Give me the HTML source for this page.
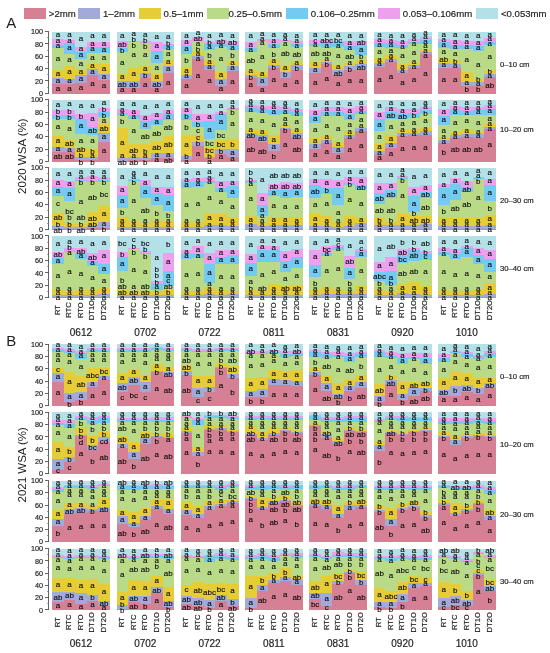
<!DOCTYPE html>
<html><head><meta charset="utf-8"><style>
html,body{margin:0;padding:0;background:#fff;}
svg{display:block;will-change:transform;}
text{font-family:"Liberation Sans",sans-serif;fill:#1e1e1e;stroke:#1e1e1e;stroke-width:0.18px;}
text.ns{stroke:none;}
.lb text{fill:#0a0a0a;stroke:#0a0a0a;stroke-width:0.12px;}
</style></head><body>
<svg width="550" height="653" viewBox="0 0 550 653" shape-rendering="crispEdges">
<rect x="24" y="8" width="22" height="11" fill="#D58094"/>
<text x="48.8" y="17.1" font-size="9.6">&gt;2mm</text>
<rect x="78.2" y="8" width="22" height="11" fill="#A2AADA"/>
<text x="103" y="17.1" font-size="9.6">1–2mm</text>
<rect x="138.6" y="8" width="22" height="11" fill="#E6CD37"/>
<text x="163.4" y="17.1" font-size="9.6">0.5–1mm</text>
<rect x="206.6" y="8" width="22" height="11" fill="#B9DA87"/>
<text x="228.6" y="17.1" font-size="9.6">0.25–0.5mm</text>
<rect x="286" y="8" width="22" height="11" fill="#74CAF0"/>
<text x="310.8" y="17.1" font-size="9.6">0.106–0.25mm</text>
<rect x="378" y="8" width="22" height="11" fill="#EEA0EF"/>
<text x="402.8" y="17.1" font-size="9.6">0.053–0.106mm</text>
<rect x="476.2" y="8" width="22" height="11" fill="#B4E1E8"/>
<text x="501" y="17.1" font-size="9.6">&lt;0.053mm</text>
<text class="ns" x="6.3" y="28" font-size="15">A</text>
<text class="ns" x="6.3" y="346.4" font-size="15">B</text>
<text class="ns" transform="translate(25.5,156.2) rotate(-90)" text-anchor="middle" font-size="11.5">2020 WSA (%)</text>
<text class="ns" transform="translate(25.5,464.8) rotate(-90)" text-anchor="middle" font-size="11.5">2021 WSA (%)</text>
<line x1="48.5" y1="31.6" x2="48.5" y2="93.3" stroke="#4a4a4a" stroke-width="0.85"/>
<line x1="45" y1="93.3" x2="48.5" y2="93.3" stroke="#4a4a4a" stroke-width="0.85"/>
<text x="43" y="95.9" font-size="7.2" text-anchor="end">0</text>
<line x1="45" y1="80.96" x2="48.5" y2="80.96" stroke="#4a4a4a" stroke-width="0.85"/>
<text x="43" y="83.56" font-size="7.2" text-anchor="end">20</text>
<line x1="45" y1="68.62" x2="48.5" y2="68.62" stroke="#4a4a4a" stroke-width="0.85"/>
<text x="43" y="71.22" font-size="7.2" text-anchor="end">40</text>
<line x1="45" y1="56.28" x2="48.5" y2="56.28" stroke="#4a4a4a" stroke-width="0.85"/>
<text x="43" y="58.88" font-size="7.2" text-anchor="end">60</text>
<line x1="45" y1="43.94" x2="48.5" y2="43.94" stroke="#4a4a4a" stroke-width="0.85"/>
<text x="43" y="46.54" font-size="7.2" text-anchor="end">80</text>
<line x1="45" y1="31.6" x2="48.5" y2="31.6" stroke="#4a4a4a" stroke-width="0.85"/>
<text x="43" y="34.2" font-size="7.2" text-anchor="end">100</text>
<line x1="47" y1="87.13" x2="48.5" y2="87.13" stroke="#6a6a6a" stroke-width="0.6"/>
<line x1="47" y1="74.79" x2="48.5" y2="74.79" stroke="#6a6a6a" stroke-width="0.6"/>
<line x1="47" y1="62.45" x2="48.5" y2="62.45" stroke="#6a6a6a" stroke-width="0.6"/>
<line x1="47" y1="50.11" x2="48.5" y2="50.11" stroke="#6a6a6a" stroke-width="0.6"/>
<line x1="47" y1="37.77" x2="48.5" y2="37.77" stroke="#6a6a6a" stroke-width="0.6"/>
<text x="500" y="66.7" font-size="7.7">0–10 cm</text>
<rect x="52.2" y="84.05" width="11.8" height="9.55" fill="#D58094"/>
<rect x="52.2" y="77.88" width="11.8" height="6.47" fill="#A2AADA"/>
<rect x="52.2" y="70.1" width="11.8" height="8.07" fill="#E6CD37"/>
<rect x="52.2" y="47.64" width="11.8" height="22.76" fill="#B9DA87"/>
<rect x="52.2" y="44.25" width="11.8" height="3.69" fill="#74CAF0"/>
<rect x="52.2" y="38.7" width="11.8" height="5.85" fill="#EEA0EF"/>
<rect x="52.2" y="31.6" width="11.8" height="7.4" fill="#B4E1E8"/>
<rect x="63.7" y="84.05" width="11.8" height="9.55" fill="#D58094"/>
<rect x="63.7" y="78.49" width="11.8" height="5.85" fill="#A2AADA"/>
<rect x="63.7" y="66.15" width="11.8" height="12.64" fill="#E6CD37"/>
<rect x="63.7" y="53.2" width="11.8" height="13.26" fill="#B9DA87"/>
<rect x="63.7" y="42.4" width="11.8" height="11.1" fill="#74CAF0"/>
<rect x="63.7" y="39.25" width="11.8" height="3.45" fill="#EEA0EF"/>
<rect x="63.7" y="31.6" width="11.8" height="7.95" fill="#B4E1E8"/>
<rect x="75.2" y="82.44" width="11.8" height="11.16" fill="#D58094"/>
<rect x="75.2" y="75.1" width="11.8" height="7.64" fill="#A2AADA"/>
<rect x="75.2" y="69.55" width="11.8" height="5.85" fill="#E6CD37"/>
<rect x="75.2" y="58.75" width="11.8" height="11.1" fill="#B9DA87"/>
<rect x="75.2" y="51.59" width="11.8" height="7.46" fill="#74CAF0"/>
<rect x="75.2" y="46.41" width="11.8" height="5.48" fill="#EEA0EF"/>
<rect x="75.2" y="31.6" width="11.8" height="15.11" fill="#B4E1E8"/>
<rect x="86.7" y="75.1" width="11.8" height="18.5" fill="#D58094"/>
<rect x="86.7" y="68.93" width="11.8" height="6.47" fill="#A2AADA"/>
<rect x="86.7" y="63.93" width="11.8" height="5.3" fill="#E6CD37"/>
<rect x="86.7" y="52.58" width="11.8" height="11.65" fill="#B9DA87"/>
<rect x="86.7" y="46.41" width="11.8" height="6.47" fill="#74CAF0"/>
<rect x="86.7" y="41.47" width="11.8" height="5.24" fill="#EEA0EF"/>
<rect x="86.7" y="31.6" width="11.8" height="10.17" fill="#B4E1E8"/>
<rect x="98.2" y="79.73" width="11.8" height="13.87" fill="#D58094"/>
<rect x="98.2" y="73.56" width="11.8" height="6.47" fill="#A2AADA"/>
<rect x="98.2" y="63.93" width="11.8" height="9.93" fill="#E6CD37"/>
<rect x="98.2" y="52.58" width="11.8" height="11.65" fill="#B9DA87"/>
<rect x="98.2" y="47.03" width="11.8" height="5.85" fill="#74CAF0"/>
<rect x="98.2" y="41.47" width="11.8" height="5.85" fill="#EEA0EF"/>
<rect x="98.2" y="31.6" width="11.8" height="10.17" fill="#B4E1E8"/>
<rect x="116.5" y="87.44" width="11.8" height="6.16" fill="#D58094"/>
<rect x="116.5" y="80.34" width="11.8" height="7.4" fill="#A2AADA"/>
<rect x="116.5" y="74.17" width="11.8" height="6.47" fill="#E6CD37"/>
<rect x="116.5" y="51.96" width="11.8" height="22.51" fill="#B9DA87"/>
<rect x="116.5" y="47.64" width="11.8" height="4.62" fill="#74CAF0"/>
<rect x="116.5" y="40.86" width="11.8" height="7.09" fill="#EEA0EF"/>
<rect x="116.5" y="31.6" width="11.8" height="9.56" fill="#B4E1E8"/>
<rect x="128" y="87.44" width="11.8" height="6.16" fill="#D58094"/>
<rect x="128" y="80.34" width="11.8" height="7.4" fill="#A2AADA"/>
<rect x="128" y="67.39" width="11.8" height="13.26" fill="#E6CD37"/>
<rect x="128" y="42.09" width="11.8" height="25.6" fill="#B9DA87"/>
<rect x="128" y="41.23" width="11.8" height="1.16" fill="#74CAF0"/>
<rect x="128" y="40.24" width="11.8" height="1.29" fill="#EEA0EF"/>
<rect x="128" y="31.6" width="11.8" height="8.94" fill="#B4E1E8"/>
<rect x="139.5" y="77.26" width="11.8" height="16.34" fill="#D58094"/>
<rect x="139.5" y="72.32" width="11.8" height="5.24" fill="#A2AADA"/>
<rect x="139.5" y="66.15" width="11.8" height="6.47" fill="#E6CD37"/>
<rect x="139.5" y="43.94" width="11.8" height="22.51" fill="#B9DA87"/>
<rect x="139.5" y="43.32" width="11.8" height="0.92" fill="#74CAF0"/>
<rect x="139.5" y="40.24" width="11.8" height="3.39" fill="#EEA0EF"/>
<rect x="139.5" y="31.6" width="11.8" height="8.94" fill="#B4E1E8"/>
<rect x="151" y="87.44" width="11.8" height="6.16" fill="#D58094"/>
<rect x="151" y="80.34" width="11.8" height="7.4" fill="#A2AADA"/>
<rect x="151" y="74.17" width="11.8" height="6.47" fill="#E6CD37"/>
<rect x="151" y="62.76" width="11.8" height="11.71" fill="#B9DA87"/>
<rect x="151" y="50.42" width="11.8" height="12.64" fill="#74CAF0"/>
<rect x="151" y="42.09" width="11.8" height="8.63" fill="#EEA0EF"/>
<rect x="151" y="31.6" width="11.8" height="10.79" fill="#B4E1E8"/>
<rect x="162.5" y="72.94" width="11.8" height="20.66" fill="#D58094"/>
<rect x="162.5" y="65.54" width="11.8" height="7.7" fill="#A2AADA"/>
<rect x="162.5" y="59.37" width="11.8" height="6.47" fill="#E6CD37"/>
<rect x="162.5" y="48.88" width="11.8" height="10.79" fill="#B9DA87"/>
<rect x="162.5" y="44.87" width="11.8" height="4.31" fill="#74CAF0"/>
<rect x="162.5" y="43.32" width="11.8" height="1.84" fill="#EEA0EF"/>
<rect x="162.5" y="31.6" width="11.8" height="12.02" fill="#B4E1E8"/>
<rect x="180.8" y="78.49" width="11.8" height="15.11" fill="#D58094"/>
<rect x="180.8" y="74.54" width="11.8" height="4.25" fill="#A2AADA"/>
<rect x="180.8" y="66.77" width="11.8" height="8.07" fill="#E6CD37"/>
<rect x="180.8" y="53.2" width="11.8" height="13.87" fill="#B9DA87"/>
<rect x="180.8" y="44.87" width="11.8" height="8.63" fill="#74CAF0"/>
<rect x="180.8" y="39.81" width="11.8" height="5.36" fill="#EEA0EF"/>
<rect x="180.8" y="31.6" width="11.8" height="8.51" fill="#B4E1E8"/>
<rect x="192.3" y="58.87" width="11.8" height="34.73" fill="#D58094"/>
<rect x="192.3" y="56.03" width="11.8" height="3.14" fill="#A2AADA"/>
<rect x="192.3" y="52.15" width="11.8" height="4.19" fill="#E6CD37"/>
<rect x="192.3" y="40.86" width="11.8" height="11.59" fill="#B9DA87"/>
<rect x="192.3" y="40.24" width="11.8" height="0.92" fill="#74CAF0"/>
<rect x="192.3" y="36.54" width="11.8" height="4" fill="#EEA0EF"/>
<rect x="192.3" y="31.6" width="11.8" height="5.24" fill="#B4E1E8"/>
<rect x="203.8" y="69.55" width="11.8" height="24.05" fill="#D58094"/>
<rect x="203.8" y="65.04" width="11.8" height="4.8" fill="#A2AADA"/>
<rect x="203.8" y="59.98" width="11.8" height="5.36" fill="#E6CD37"/>
<rect x="203.8" y="49.86" width="11.8" height="10.42" fill="#B9DA87"/>
<rect x="203.8" y="43.69" width="11.8" height="6.47" fill="#74CAF0"/>
<rect x="203.8" y="41.47" width="11.8" height="2.52" fill="#EEA0EF"/>
<rect x="203.8" y="31.6" width="11.8" height="10.17" fill="#B4E1E8"/>
<rect x="215.3" y="85.28" width="11.8" height="8.32" fill="#D58094"/>
<rect x="215.3" y="78.49" width="11.8" height="7.09" fill="#A2AADA"/>
<rect x="215.3" y="71.71" width="11.8" height="7.09" fill="#E6CD37"/>
<rect x="215.3" y="46.41" width="11.8" height="25.6" fill="#B9DA87"/>
<rect x="215.3" y="43.69" width="11.8" height="3.01" fill="#74CAF0"/>
<rect x="215.3" y="39.81" width="11.8" height="4.19" fill="#EEA0EF"/>
<rect x="215.3" y="31.6" width="11.8" height="8.51" fill="#B4E1E8"/>
<rect x="226.8" y="70.66" width="11.8" height="22.94" fill="#D58094"/>
<rect x="226.8" y="65.54" width="11.8" height="5.42" fill="#A2AADA"/>
<rect x="226.8" y="60.6" width="11.8" height="5.24" fill="#E6CD37"/>
<rect x="226.8" y="49.49" width="11.8" height="11.41" fill="#B9DA87"/>
<rect x="226.8" y="44.87" width="11.8" height="4.93" fill="#74CAF0"/>
<rect x="226.8" y="40.24" width="11.8" height="4.93" fill="#EEA0EF"/>
<rect x="226.8" y="31.6" width="11.8" height="8.94" fill="#B4E1E8"/>
<rect x="245.1" y="77.26" width="11.8" height="16.34" fill="#D58094"/>
<rect x="245.1" y="75.1" width="11.8" height="2.46" fill="#A2AADA"/>
<rect x="245.1" y="69.55" width="11.8" height="5.85" fill="#E6CD37"/>
<rect x="245.1" y="51.59" width="11.8" height="18.25" fill="#B9DA87"/>
<rect x="245.1" y="47.64" width="11.8" height="4.25" fill="#74CAF0"/>
<rect x="245.1" y="41.47" width="11.8" height="6.47" fill="#EEA0EF"/>
<rect x="245.1" y="31.6" width="11.8" height="10.17" fill="#B4E1E8"/>
<rect x="256.6" y="85.9" width="11.8" height="7.7" fill="#D58094"/>
<rect x="256.6" y="76.83" width="11.8" height="9.37" fill="#A2AADA"/>
<rect x="256.6" y="71.71" width="11.8" height="5.42" fill="#E6CD37"/>
<rect x="256.6" y="41.47" width="11.8" height="30.53" fill="#B9DA87"/>
<rect x="256.6" y="41.23" width="11.8" height="0.55" fill="#74CAF0"/>
<rect x="256.6" y="38.7" width="11.8" height="2.83" fill="#EEA0EF"/>
<rect x="256.6" y="31.6" width="11.8" height="7.4" fill="#B4E1E8"/>
<rect x="268.1" y="67.39" width="11.8" height="26.21" fill="#D58094"/>
<rect x="268.1" y="64.49" width="11.8" height="3.2" fill="#A2AADA"/>
<rect x="268.1" y="59.98" width="11.8" height="4.8" fill="#E6CD37"/>
<rect x="268.1" y="47.64" width="11.8" height="12.64" fill="#B9DA87"/>
<rect x="268.1" y="43.32" width="11.8" height="4.62" fill="#74CAF0"/>
<rect x="268.1" y="38.7" width="11.8" height="4.93" fill="#EEA0EF"/>
<rect x="268.1" y="31.6" width="11.8" height="7.4" fill="#B4E1E8"/>
<rect x="279.6" y="77.26" width="11.8" height="16.34" fill="#D58094"/>
<rect x="279.6" y="71.21" width="11.8" height="6.35" fill="#A2AADA"/>
<rect x="279.6" y="65.04" width="11.8" height="6.47" fill="#E6CD37"/>
<rect x="279.6" y="42.09" width="11.8" height="23.25" fill="#B9DA87"/>
<rect x="279.6" y="41.47" width="11.8" height="0.92" fill="#74CAF0"/>
<rect x="279.6" y="39.81" width="11.8" height="1.97" fill="#EEA0EF"/>
<rect x="279.6" y="31.6" width="11.8" height="8.51" fill="#B4E1E8"/>
<rect x="291.1" y="70.1" width="11.8" height="23.5" fill="#D58094"/>
<rect x="291.1" y="65.04" width="11.8" height="5.36" fill="#A2AADA"/>
<rect x="291.1" y="61.83" width="11.8" height="3.51" fill="#E6CD37"/>
<rect x="291.1" y="46.41" width="11.8" height="15.73" fill="#B9DA87"/>
<rect x="291.1" y="43.32" width="11.8" height="3.39" fill="#74CAF0"/>
<rect x="291.1" y="40.24" width="11.8" height="3.39" fill="#EEA0EF"/>
<rect x="291.1" y="31.6" width="11.8" height="8.94" fill="#B4E1E8"/>
<rect x="309.4" y="72.94" width="11.8" height="20.66" fill="#D58094"/>
<rect x="309.4" y="67.39" width="11.8" height="5.85" fill="#A2AADA"/>
<rect x="309.4" y="61.22" width="11.8" height="6.47" fill="#E6CD37"/>
<rect x="309.4" y="45.98" width="11.8" height="15.54" fill="#B9DA87"/>
<rect x="309.4" y="43.32" width="11.8" height="2.95" fill="#74CAF0"/>
<rect x="309.4" y="39.25" width="11.8" height="4.37" fill="#EEA0EF"/>
<rect x="309.4" y="31.6" width="11.8" height="7.95" fill="#B4E1E8"/>
<rect x="320.9" y="63.93" width="11.8" height="29.67" fill="#D58094"/>
<rect x="320.9" y="61.83" width="11.8" height="2.4" fill="#A2AADA"/>
<rect x="320.9" y="59.37" width="11.8" height="2.77" fill="#E6CD37"/>
<rect x="320.9" y="47.64" width="11.8" height="12.02" fill="#B9DA87"/>
<rect x="320.9" y="42.71" width="11.8" height="5.24" fill="#74CAF0"/>
<rect x="320.9" y="39.25" width="11.8" height="3.76" fill="#EEA0EF"/>
<rect x="320.9" y="31.6" width="11.8" height="7.95" fill="#B4E1E8"/>
<rect x="332.4" y="75.1" width="11.8" height="18.5" fill="#D58094"/>
<rect x="332.4" y="69.55" width="11.8" height="5.85" fill="#A2AADA"/>
<rect x="332.4" y="66.15" width="11.8" height="3.69" fill="#E6CD37"/>
<rect x="332.4" y="46.41" width="11.8" height="20.04" fill="#B9DA87"/>
<rect x="332.4" y="42.09" width="11.8" height="4.62" fill="#74CAF0"/>
<rect x="332.4" y="40.24" width="11.8" height="2.15" fill="#EEA0EF"/>
<rect x="332.4" y="31.6" width="11.8" height="8.94" fill="#B4E1E8"/>
<rect x="343.9" y="69.55" width="11.8" height="24.05" fill="#D58094"/>
<rect x="343.9" y="66.15" width="11.8" height="3.69" fill="#A2AADA"/>
<rect x="343.9" y="62.76" width="11.8" height="3.69" fill="#E6CD37"/>
<rect x="343.9" y="49.86" width="11.8" height="13.2" fill="#B9DA87"/>
<rect x="343.9" y="45.42" width="11.8" height="4.74" fill="#74CAF0"/>
<rect x="343.9" y="40.24" width="11.8" height="5.48" fill="#EEA0EF"/>
<rect x="343.9" y="31.6" width="11.8" height="8.94" fill="#B4E1E8"/>
<rect x="355.4" y="69.55" width="11.8" height="24.05" fill="#D58094"/>
<rect x="355.4" y="63.93" width="11.8" height="5.91" fill="#A2AADA"/>
<rect x="355.4" y="59.37" width="11.8" height="4.87" fill="#E6CD37"/>
<rect x="355.4" y="55.05" width="11.8" height="4.62" fill="#B9DA87"/>
<rect x="355.4" y="44.87" width="11.8" height="10.48" fill="#74CAF0"/>
<rect x="355.4" y="40.24" width="11.8" height="4.93" fill="#EEA0EF"/>
<rect x="355.4" y="31.6" width="11.8" height="8.94" fill="#B4E1E8"/>
<rect x="373.7" y="66.77" width="11.8" height="26.83" fill="#D58094"/>
<rect x="373.7" y="62.2" width="11.8" height="4.87" fill="#A2AADA"/>
<rect x="373.7" y="57.76" width="11.8" height="4.74" fill="#E6CD37"/>
<rect x="373.7" y="47.03" width="11.8" height="11.04" fill="#B9DA87"/>
<rect x="373.7" y="42.71" width="11.8" height="4.62" fill="#74CAF0"/>
<rect x="373.7" y="38.7" width="11.8" height="4.31" fill="#EEA0EF"/>
<rect x="373.7" y="31.6" width="11.8" height="7.4" fill="#B4E1E8"/>
<rect x="385.2" y="61.22" width="11.8" height="32.38" fill="#D58094"/>
<rect x="385.2" y="58.32" width="11.8" height="3.2" fill="#A2AADA"/>
<rect x="385.2" y="54.43" width="11.8" height="4.19" fill="#E6CD37"/>
<rect x="385.2" y="47.64" width="11.8" height="7.09" fill="#B9DA87"/>
<rect x="385.2" y="42.71" width="11.8" height="5.24" fill="#74CAF0"/>
<rect x="385.2" y="39.81" width="11.8" height="3.2" fill="#EEA0EF"/>
<rect x="385.2" y="31.6" width="11.8" height="8.51" fill="#B4E1E8"/>
<rect x="396.7" y="72.94" width="11.8" height="20.66" fill="#D58094"/>
<rect x="396.7" y="69.55" width="11.8" height="3.69" fill="#A2AADA"/>
<rect x="396.7" y="63.93" width="11.8" height="5.91" fill="#E6CD37"/>
<rect x="396.7" y="47.64" width="11.8" height="16.59" fill="#B9DA87"/>
<rect x="396.7" y="44.87" width="11.8" height="3.08" fill="#74CAF0"/>
<rect x="396.7" y="40.24" width="11.8" height="4.93" fill="#EEA0EF"/>
<rect x="396.7" y="31.6" width="11.8" height="8.94" fill="#B4E1E8"/>
<rect x="408.2" y="67.39" width="11.8" height="26.21" fill="#D58094"/>
<rect x="408.2" y="65.04" width="11.8" height="2.64" fill="#A2AADA"/>
<rect x="408.2" y="61.83" width="11.8" height="3.51" fill="#E6CD37"/>
<rect x="408.2" y="43.69" width="11.8" height="18.44" fill="#B9DA87"/>
<rect x="408.2" y="42.09" width="11.8" height="1.9" fill="#74CAF0"/>
<rect x="408.2" y="38.7" width="11.8" height="3.69" fill="#EEA0EF"/>
<rect x="408.2" y="31.6" width="11.8" height="7.4" fill="#B4E1E8"/>
<rect x="419.7" y="53.81" width="11.8" height="39.79" fill="#D58094"/>
<rect x="419.7" y="51.59" width="11.8" height="2.52" fill="#A2AADA"/>
<rect x="419.7" y="48.88" width="11.8" height="3.01" fill="#E6CD37"/>
<rect x="419.7" y="43.32" width="11.8" height="5.85" fill="#B9DA87"/>
<rect x="419.7" y="39.25" width="11.8" height="4.37" fill="#74CAF0"/>
<rect x="419.7" y="37.15" width="11.8" height="2.4" fill="#EEA0EF"/>
<rect x="419.7" y="31.6" width="11.8" height="5.85" fill="#B4E1E8"/>
<rect x="438" y="67.39" width="11.8" height="26.21" fill="#D58094"/>
<rect x="438" y="62.2" width="11.8" height="5.48" fill="#A2AADA"/>
<rect x="438" y="57.21" width="11.8" height="5.3" fill="#E6CD37"/>
<rect x="438" y="47.64" width="11.8" height="9.86" fill="#B9DA87"/>
<rect x="438" y="41.47" width="11.8" height="6.47" fill="#74CAF0"/>
<rect x="438" y="38.7" width="11.8" height="3.08" fill="#EEA0EF"/>
<rect x="438" y="31.6" width="11.8" height="7.4" fill="#B4E1E8"/>
<rect x="449.5" y="67.39" width="11.8" height="26.21" fill="#D58094"/>
<rect x="449.5" y="63.38" width="11.8" height="4.31" fill="#A2AADA"/>
<rect x="449.5" y="59.98" width="11.8" height="3.69" fill="#E6CD37"/>
<rect x="449.5" y="48.88" width="11.8" height="11.41" fill="#B9DA87"/>
<rect x="449.5" y="44.25" width="11.8" height="4.93" fill="#74CAF0"/>
<rect x="449.5" y="39.25" width="11.8" height="5.3" fill="#EEA0EF"/>
<rect x="449.5" y="31.6" width="11.8" height="7.95" fill="#B4E1E8"/>
<rect x="461" y="85.28" width="11.8" height="8.32" fill="#D58094"/>
<rect x="461" y="81.27" width="11.8" height="4.31" fill="#A2AADA"/>
<rect x="461" y="71.71" width="11.8" height="9.86" fill="#E6CD37"/>
<rect x="461" y="48.26" width="11.8" height="23.75" fill="#B9DA87"/>
<rect x="461" y="44.87" width="11.8" height="3.69" fill="#74CAF0"/>
<rect x="461" y="40.24" width="11.8" height="4.93" fill="#EEA0EF"/>
<rect x="461" y="31.6" width="11.8" height="8.94" fill="#B4E1E8"/>
<rect x="472.5" y="85.28" width="11.8" height="8.32" fill="#D58094"/>
<rect x="472.5" y="81.27" width="11.8" height="4.31" fill="#A2AADA"/>
<rect x="472.5" y="78.49" width="11.8" height="3.08" fill="#E6CD37"/>
<rect x="472.5" y="51.04" width="11.8" height="27.76" fill="#B9DA87"/>
<rect x="472.5" y="45.98" width="11.8" height="5.36" fill="#74CAF0"/>
<rect x="472.5" y="40.24" width="11.8" height="6.04" fill="#EEA0EF"/>
<rect x="472.5" y="31.6" width="11.8" height="8.94" fill="#B4E1E8"/>
<rect x="484" y="76.83" width="11.8" height="16.77" fill="#D58094"/>
<rect x="484" y="74.17" width="11.8" height="2.95" fill="#A2AADA"/>
<rect x="484" y="70.1" width="11.8" height="4.37" fill="#E6CD37"/>
<rect x="484" y="44.87" width="11.8" height="25.54" fill="#B9DA87"/>
<rect x="484" y="41.47" width="11.8" height="3.69" fill="#74CAF0"/>
<rect x="484" y="38.08" width="11.8" height="3.69" fill="#EEA0EF"/>
<rect x="484" y="31.6" width="11.8" height="6.78" fill="#B4E1E8"/>
<line x1="48.5" y1="99.7" x2="48.5" y2="161.4" stroke="#4a4a4a" stroke-width="0.85"/>
<line x1="45" y1="161.4" x2="48.5" y2="161.4" stroke="#4a4a4a" stroke-width="0.85"/>
<text x="43" y="164" font-size="7.2" text-anchor="end">0</text>
<line x1="45" y1="149.06" x2="48.5" y2="149.06" stroke="#4a4a4a" stroke-width="0.85"/>
<text x="43" y="151.66" font-size="7.2" text-anchor="end">20</text>
<line x1="45" y1="136.72" x2="48.5" y2="136.72" stroke="#4a4a4a" stroke-width="0.85"/>
<text x="43" y="139.32" font-size="7.2" text-anchor="end">40</text>
<line x1="45" y1="124.38" x2="48.5" y2="124.38" stroke="#4a4a4a" stroke-width="0.85"/>
<text x="43" y="126.98" font-size="7.2" text-anchor="end">60</text>
<line x1="45" y1="112.04" x2="48.5" y2="112.04" stroke="#4a4a4a" stroke-width="0.85"/>
<text x="43" y="114.64" font-size="7.2" text-anchor="end">80</text>
<line x1="45" y1="99.7" x2="48.5" y2="99.7" stroke="#4a4a4a" stroke-width="0.85"/>
<text x="43" y="102.3" font-size="7.2" text-anchor="end">100</text>
<line x1="47" y1="155.23" x2="48.5" y2="155.23" stroke="#6a6a6a" stroke-width="0.6"/>
<line x1="47" y1="142.89" x2="48.5" y2="142.89" stroke="#6a6a6a" stroke-width="0.6"/>
<line x1="47" y1="130.55" x2="48.5" y2="130.55" stroke="#6a6a6a" stroke-width="0.6"/>
<line x1="47" y1="118.21" x2="48.5" y2="118.21" stroke="#6a6a6a" stroke-width="0.6"/>
<line x1="47" y1="105.87" x2="48.5" y2="105.87" stroke="#6a6a6a" stroke-width="0.6"/>
<text x="500" y="132.3" font-size="7.7">10–20 cm</text>
<rect x="52.2" y="151.96" width="11.8" height="9.74" fill="#D58094"/>
<rect x="52.2" y="146.9" width="11.8" height="5.36" fill="#A2AADA"/>
<rect x="52.2" y="135.73" width="11.8" height="11.47" fill="#E6CD37"/>
<rect x="52.2" y="118.83" width="11.8" height="17.21" fill="#B9DA87"/>
<rect x="52.2" y="114.51" width="11.8" height="4.62" fill="#74CAF0"/>
<rect x="52.2" y="109.88" width="11.8" height="4.93" fill="#EEA0EF"/>
<rect x="52.2" y="99.7" width="11.8" height="10.48" fill="#B4E1E8"/>
<rect x="63.7" y="151.96" width="11.8" height="9.74" fill="#D58094"/>
<rect x="63.7" y="147.52" width="11.8" height="4.74" fill="#A2AADA"/>
<rect x="63.7" y="139.8" width="11.8" height="8.01" fill="#E6CD37"/>
<rect x="63.7" y="118.83" width="11.8" height="21.28" fill="#B9DA87"/>
<rect x="63.7" y="114.51" width="11.8" height="4.62" fill="#74CAF0"/>
<rect x="63.7" y="109.33" width="11.8" height="5.48" fill="#EEA0EF"/>
<rect x="63.7" y="99.7" width="11.8" height="9.93" fill="#B4E1E8"/>
<rect x="75.2" y="159.24" width="11.8" height="2.46" fill="#D58094"/>
<rect x="75.2" y="156.46" width="11.8" height="3.08" fill="#A2AADA"/>
<rect x="75.2" y="148.07" width="11.8" height="8.69" fill="#E6CD37"/>
<rect x="75.2" y="133.63" width="11.8" height="14.74" fill="#B9DA87"/>
<rect x="75.2" y="118.83" width="11.8" height="15.11" fill="#74CAF0"/>
<rect x="75.2" y="113.27" width="11.8" height="5.85" fill="#EEA0EF"/>
<rect x="75.2" y="99.7" width="11.8" height="13.87" fill="#B4E1E8"/>
<rect x="86.7" y="159.86" width="11.8" height="1.84" fill="#D58094"/>
<rect x="86.7" y="157.08" width="11.8" height="3.08" fill="#A2AADA"/>
<rect x="86.7" y="148.63" width="11.8" height="8.75" fill="#E6CD37"/>
<rect x="86.7" y="134.25" width="11.8" height="14.68" fill="#B9DA87"/>
<rect x="86.7" y="126.23" width="11.8" height="8.32" fill="#74CAF0"/>
<rect x="86.7" y="112.66" width="11.8" height="13.87" fill="#EEA0EF"/>
<rect x="86.7" y="99.7" width="11.8" height="13.26" fill="#B4E1E8"/>
<rect x="98.2" y="141.35" width="11.8" height="20.35" fill="#D58094"/>
<rect x="98.2" y="133.02" width="11.8" height="8.63" fill="#A2AADA"/>
<rect x="98.2" y="123.95" width="11.8" height="9.37" fill="#E6CD37"/>
<rect x="98.2" y="116.67" width="11.8" height="7.58" fill="#B9DA87"/>
<rect x="98.2" y="111.61" width="11.8" height="5.36" fill="#74CAF0"/>
<rect x="98.2" y="107.72" width="11.8" height="4.19" fill="#EEA0EF"/>
<rect x="98.2" y="99.7" width="11.8" height="8.32" fill="#B4E1E8"/>
<rect x="116.5" y="160.41" width="11.8" height="1.29" fill="#D58094"/>
<rect x="116.5" y="157.7" width="11.8" height="3.01" fill="#A2AADA"/>
<rect x="116.5" y="127.46" width="11.8" height="30.53" fill="#E6CD37"/>
<rect x="116.5" y="115.12" width="11.8" height="12.64" fill="#B9DA87"/>
<rect x="116.5" y="112.66" width="11.8" height="2.77" fill="#74CAF0"/>
<rect x="116.5" y="108.34" width="11.8" height="4.62" fill="#EEA0EF"/>
<rect x="116.5" y="99.7" width="11.8" height="8.94" fill="#B4E1E8"/>
<rect x="128" y="159.86" width="11.8" height="1.84" fill="#D58094"/>
<rect x="128" y="157.08" width="11.8" height="3.08" fill="#A2AADA"/>
<rect x="128" y="143.51" width="11.8" height="13.87" fill="#E6CD37"/>
<rect x="128" y="118.21" width="11.8" height="25.6" fill="#B9DA87"/>
<rect x="128" y="115.12" width="11.8" height="3.39" fill="#74CAF0"/>
<rect x="128" y="109.33" width="11.8" height="6.1" fill="#EEA0EF"/>
<rect x="128" y="99.7" width="11.8" height="9.93" fill="#B4E1E8"/>
<rect x="139.5" y="159.86" width="11.8" height="1.84" fill="#D58094"/>
<rect x="139.5" y="157.7" width="11.8" height="2.46" fill="#A2AADA"/>
<rect x="139.5" y="144.12" width="11.8" height="13.87" fill="#E6CD37"/>
<rect x="139.5" y="129.01" width="11.8" height="15.42" fill="#B9DA87"/>
<rect x="139.5" y="120.68" width="11.8" height="8.63" fill="#74CAF0"/>
<rect x="139.5" y="115.12" width="11.8" height="5.85" fill="#EEA0EF"/>
<rect x="139.5" y="99.7" width="11.8" height="15.72" fill="#B4E1E8"/>
<rect x="151" y="158.13" width="11.8" height="3.57" fill="#D58094"/>
<rect x="151" y="153.07" width="11.8" height="5.36" fill="#A2AADA"/>
<rect x="151" y="140.73" width="11.8" height="12.64" fill="#E6CD37"/>
<rect x="151" y="125" width="11.8" height="16.03" fill="#B9DA87"/>
<rect x="151" y="118.21" width="11.8" height="7.09" fill="#74CAF0"/>
<rect x="151" y="112.66" width="11.8" height="5.85" fill="#EEA0EF"/>
<rect x="151" y="99.7" width="11.8" height="13.26" fill="#B4E1E8"/>
<rect x="162.5" y="158.13" width="11.8" height="3.57" fill="#D58094"/>
<rect x="162.5" y="153.07" width="11.8" height="5.36" fill="#A2AADA"/>
<rect x="162.5" y="135.73" width="11.8" height="17.64" fill="#E6CD37"/>
<rect x="162.5" y="119.44" width="11.8" height="16.59" fill="#B9DA87"/>
<rect x="162.5" y="113.89" width="11.8" height="5.85" fill="#74CAF0"/>
<rect x="162.5" y="109.33" width="11.8" height="4.87" fill="#EEA0EF"/>
<rect x="162.5" y="99.7" width="11.8" height="9.93" fill="#B4E1E8"/>
<rect x="180.8" y="159.24" width="11.8" height="2.46" fill="#D58094"/>
<rect x="180.8" y="155.85" width="11.8" height="3.69" fill="#A2AADA"/>
<rect x="180.8" y="135.18" width="11.8" height="20.97" fill="#E6CD37"/>
<rect x="180.8" y="119.44" width="11.8" height="16.03" fill="#B9DA87"/>
<rect x="180.8" y="113.27" width="11.8" height="6.47" fill="#74CAF0"/>
<rect x="180.8" y="107.72" width="11.8" height="5.85" fill="#EEA0EF"/>
<rect x="180.8" y="99.7" width="11.8" height="8.32" fill="#B4E1E8"/>
<rect x="192.3" y="145.97" width="11.8" height="15.73" fill="#D58094"/>
<rect x="192.3" y="141.35" width="11.8" height="4.93" fill="#A2AADA"/>
<rect x="192.3" y="135.18" width="11.8" height="6.47" fill="#E6CD37"/>
<rect x="192.3" y="126.85" width="11.8" height="8.63" fill="#B9DA87"/>
<rect x="192.3" y="121.29" width="11.8" height="5.85" fill="#74CAF0"/>
<rect x="192.3" y="113.89" width="11.8" height="7.7" fill="#EEA0EF"/>
<rect x="192.3" y="99.7" width="11.8" height="14.49" fill="#B4E1E8"/>
<rect x="203.8" y="158.13" width="11.8" height="3.57" fill="#D58094"/>
<rect x="203.8" y="156.46" width="11.8" height="1.97" fill="#A2AADA"/>
<rect x="203.8" y="146.35" width="11.8" height="10.42" fill="#E6CD37"/>
<rect x="203.8" y="139.19" width="11.8" height="7.46" fill="#B9DA87"/>
<rect x="203.8" y="120.68" width="11.8" height="18.81" fill="#74CAF0"/>
<rect x="203.8" y="113.27" width="11.8" height="7.7" fill="#EEA0EF"/>
<rect x="203.8" y="99.7" width="11.8" height="13.87" fill="#B4E1E8"/>
<rect x="215.3" y="153.69" width="11.8" height="8.01" fill="#D58094"/>
<rect x="215.3" y="149.06" width="11.8" height="4.93" fill="#A2AADA"/>
<rect x="215.3" y="140.18" width="11.8" height="9.18" fill="#E6CD37"/>
<rect x="215.3" y="129.56" width="11.8" height="10.91" fill="#B9DA87"/>
<rect x="215.3" y="113.89" width="11.8" height="15.97" fill="#74CAF0"/>
<rect x="215.3" y="111.61" width="11.8" height="2.58" fill="#EEA0EF"/>
<rect x="215.3" y="99.7" width="11.8" height="12.21" fill="#B4E1E8"/>
<rect x="226.8" y="156.46" width="11.8" height="5.24" fill="#D58094"/>
<rect x="226.8" y="149.06" width="11.8" height="7.7" fill="#A2AADA"/>
<rect x="226.8" y="139.19" width="11.8" height="10.17" fill="#E6CD37"/>
<rect x="226.8" y="109.88" width="11.8" height="29.61" fill="#B9DA87"/>
<rect x="226.8" y="109.14" width="11.8" height="1.04" fill="#74CAF0"/>
<rect x="226.8" y="107.72" width="11.8" height="1.72" fill="#EEA0EF"/>
<rect x="226.8" y="99.7" width="11.8" height="8.32" fill="#B4E1E8"/>
<rect x="245.1" y="136.29" width="11.8" height="25.41" fill="#D58094"/>
<rect x="245.1" y="133.02" width="11.8" height="3.57" fill="#A2AADA"/>
<rect x="245.1" y="129.01" width="11.8" height="4.31" fill="#E6CD37"/>
<rect x="245.1" y="111.61" width="11.8" height="17.7" fill="#B9DA87"/>
<rect x="245.1" y="106.49" width="11.8" height="5.42" fill="#74CAF0"/>
<rect x="245.1" y="104.33" width="11.8" height="2.46" fill="#EEA0EF"/>
<rect x="245.1" y="99.7" width="11.8" height="4.93" fill="#B4E1E8"/>
<rect x="256.6" y="141.35" width="11.8" height="20.35" fill="#D58094"/>
<rect x="256.6" y="134.56" width="11.8" height="7.09" fill="#A2AADA"/>
<rect x="256.6" y="130.12" width="11.8" height="4.74" fill="#E6CD37"/>
<rect x="256.6" y="112.66" width="11.8" height="17.76" fill="#B9DA87"/>
<rect x="256.6" y="108.34" width="11.8" height="4.62" fill="#74CAF0"/>
<rect x="256.6" y="105.44" width="11.8" height="3.2" fill="#EEA0EF"/>
<rect x="256.6" y="99.7" width="11.8" height="6.04" fill="#B4E1E8"/>
<rect x="268.1" y="150.29" width="11.8" height="11.41" fill="#D58094"/>
<rect x="268.1" y="144.12" width="11.8" height="6.47" fill="#A2AADA"/>
<rect x="268.1" y="135.18" width="11.8" height="9.25" fill="#E6CD37"/>
<rect x="268.1" y="114.51" width="11.8" height="20.97" fill="#B9DA87"/>
<rect x="268.1" y="109.33" width="11.8" height="5.48" fill="#74CAF0"/>
<rect x="268.1" y="105.44" width="11.8" height="4.19" fill="#EEA0EF"/>
<rect x="268.1" y="99.7" width="11.8" height="6.04" fill="#B4E1E8"/>
<rect x="279.6" y="128.39" width="11.8" height="33.31" fill="#D58094"/>
<rect x="279.6" y="127.84" width="11.8" height="0.86" fill="#A2AADA"/>
<rect x="279.6" y="124.38" width="11.8" height="3.76" fill="#E6CD37"/>
<rect x="279.6" y="113.27" width="11.8" height="11.41" fill="#B9DA87"/>
<rect x="279.6" y="109.33" width="11.8" height="4.25" fill="#74CAF0"/>
<rect x="279.6" y="106.49" width="11.8" height="3.14" fill="#EEA0EF"/>
<rect x="279.6" y="99.7" width="11.8" height="7.09" fill="#B4E1E8"/>
<rect x="291.1" y="137.95" width="11.8" height="23.75" fill="#D58094"/>
<rect x="291.1" y="133.02" width="11.8" height="5.24" fill="#A2AADA"/>
<rect x="291.1" y="128.39" width="11.8" height="4.93" fill="#E6CD37"/>
<rect x="291.1" y="116.05" width="11.8" height="12.64" fill="#B9DA87"/>
<rect x="291.1" y="111.61" width="11.8" height="4.74" fill="#74CAF0"/>
<rect x="291.1" y="108.34" width="11.8" height="3.57" fill="#EEA0EF"/>
<rect x="291.1" y="99.7" width="11.8" height="8.94" fill="#B4E1E8"/>
<rect x="309.4" y="148.63" width="11.8" height="13.07" fill="#D58094"/>
<rect x="309.4" y="144.12" width="11.8" height="4.8" fill="#A2AADA"/>
<rect x="309.4" y="137.95" width="11.8" height="6.47" fill="#E6CD37"/>
<rect x="309.4" y="122.22" width="11.8" height="16.03" fill="#B9DA87"/>
<rect x="309.4" y="115.5" width="11.8" height="7.03" fill="#74CAF0"/>
<rect x="309.4" y="109.88" width="11.8" height="5.91" fill="#EEA0EF"/>
<rect x="309.4" y="99.7" width="11.8" height="10.48" fill="#B4E1E8"/>
<rect x="320.9" y="142.89" width="11.8" height="18.81" fill="#D58094"/>
<rect x="320.9" y="140.18" width="11.8" height="3.01" fill="#A2AADA"/>
<rect x="320.9" y="135.73" width="11.8" height="4.74" fill="#E6CD37"/>
<rect x="320.9" y="116.05" width="11.8" height="19.98" fill="#B9DA87"/>
<rect x="320.9" y="111.61" width="11.8" height="4.74" fill="#74CAF0"/>
<rect x="320.9" y="106.49" width="11.8" height="5.42" fill="#EEA0EF"/>
<rect x="320.9" y="99.7" width="11.8" height="7.09" fill="#B4E1E8"/>
<rect x="332.4" y="153.07" width="11.8" height="8.63" fill="#D58094"/>
<rect x="332.4" y="146.9" width="11.8" height="6.47" fill="#A2AADA"/>
<rect x="332.4" y="141.35" width="11.8" height="5.85" fill="#E6CD37"/>
<rect x="332.4" y="116.05" width="11.8" height="25.6" fill="#B9DA87"/>
<rect x="332.4" y="111.61" width="11.8" height="4.74" fill="#74CAF0"/>
<rect x="332.4" y="107.1" width="11.8" height="4.8" fill="#EEA0EF"/>
<rect x="332.4" y="99.7" width="11.8" height="7.7" fill="#B4E1E8"/>
<rect x="343.9" y="137.95" width="11.8" height="23.75" fill="#D58094"/>
<rect x="343.9" y="134.56" width="11.8" height="3.69" fill="#A2AADA"/>
<rect x="343.9" y="131.17" width="11.8" height="3.69" fill="#E6CD37"/>
<rect x="343.9" y="119.44" width="11.8" height="12.02" fill="#B9DA87"/>
<rect x="343.9" y="113.89" width="11.8" height="5.85" fill="#74CAF0"/>
<rect x="343.9" y="107.72" width="11.8" height="6.47" fill="#EEA0EF"/>
<rect x="343.9" y="99.7" width="11.8" height="8.32" fill="#B4E1E8"/>
<rect x="355.4" y="131.17" width="11.8" height="30.53" fill="#D58094"/>
<rect x="355.4" y="127.84" width="11.8" height="3.63" fill="#A2AADA"/>
<rect x="355.4" y="126.23" width="11.8" height="1.9" fill="#E6CD37"/>
<rect x="355.4" y="113.89" width="11.8" height="12.64" fill="#B9DA87"/>
<rect x="355.4" y="110.5" width="11.8" height="3.69" fill="#74CAF0"/>
<rect x="355.4" y="105.99" width="11.8" height="4.8" fill="#EEA0EF"/>
<rect x="355.4" y="99.7" width="11.8" height="6.59" fill="#B4E1E8"/>
<rect x="373.7" y="154.8" width="11.8" height="6.9" fill="#D58094"/>
<rect x="373.7" y="150.91" width="11.8" height="4.19" fill="#A2AADA"/>
<rect x="373.7" y="144.12" width="11.8" height="7.09" fill="#E6CD37"/>
<rect x="373.7" y="130.55" width="11.8" height="13.87" fill="#B9DA87"/>
<rect x="373.7" y="118.83" width="11.8" height="12.02" fill="#74CAF0"/>
<rect x="373.7" y="111.61" width="11.8" height="7.52" fill="#EEA0EF"/>
<rect x="373.7" y="99.7" width="11.8" height="12.21" fill="#B4E1E8"/>
<rect x="385.2" y="147.52" width="11.8" height="14.18" fill="#D58094"/>
<rect x="385.2" y="142.89" width="11.8" height="4.93" fill="#A2AADA"/>
<rect x="385.2" y="135.18" width="11.8" height="8.01" fill="#E6CD37"/>
<rect x="385.2" y="118.83" width="11.8" height="16.65" fill="#B9DA87"/>
<rect x="385.2" y="111.61" width="11.8" height="7.52" fill="#74CAF0"/>
<rect x="385.2" y="107.1" width="11.8" height="4.8" fill="#EEA0EF"/>
<rect x="385.2" y="99.7" width="11.8" height="7.7" fill="#B4E1E8"/>
<rect x="396.7" y="135.73" width="11.8" height="25.97" fill="#D58094"/>
<rect x="396.7" y="133.02" width="11.8" height="3.01" fill="#A2AADA"/>
<rect x="396.7" y="129.01" width="11.8" height="4.31" fill="#E6CD37"/>
<rect x="396.7" y="118.21" width="11.8" height="11.1" fill="#B9DA87"/>
<rect x="396.7" y="113.27" width="11.8" height="5.24" fill="#74CAF0"/>
<rect x="396.7" y="108.34" width="11.8" height="5.24" fill="#EEA0EF"/>
<rect x="396.7" y="99.7" width="11.8" height="8.94" fill="#B4E1E8"/>
<rect x="408.2" y="135.18" width="11.8" height="26.52" fill="#D58094"/>
<rect x="408.2" y="132.4" width="11.8" height="3.08" fill="#A2AADA"/>
<rect x="408.2" y="128.39" width="11.8" height="4.31" fill="#E6CD37"/>
<rect x="408.2" y="117.78" width="11.8" height="10.91" fill="#B9DA87"/>
<rect x="408.2" y="112.66" width="11.8" height="5.42" fill="#74CAF0"/>
<rect x="408.2" y="108.34" width="11.8" height="4.62" fill="#EEA0EF"/>
<rect x="408.2" y="99.7" width="11.8" height="8.94" fill="#B4E1E8"/>
<rect x="419.7" y="134.56" width="11.8" height="27.14" fill="#D58094"/>
<rect x="419.7" y="130.55" width="11.8" height="4.31" fill="#A2AADA"/>
<rect x="419.7" y="127.84" width="11.8" height="3.01" fill="#E6CD37"/>
<rect x="419.7" y="113.89" width="11.8" height="14.24" fill="#B9DA87"/>
<rect x="419.7" y="109.33" width="11.8" height="4.87" fill="#74CAF0"/>
<rect x="419.7" y="106.49" width="11.8" height="3.14" fill="#EEA0EF"/>
<rect x="419.7" y="99.7" width="11.8" height="7.09" fill="#B4E1E8"/>
<rect x="438" y="142.89" width="11.8" height="18.81" fill="#D58094"/>
<rect x="438" y="139.8" width="11.8" height="3.39" fill="#A2AADA"/>
<rect x="438" y="136.29" width="11.8" height="3.82" fill="#E6CD37"/>
<rect x="438" y="125" width="11.8" height="11.59" fill="#B9DA87"/>
<rect x="438" y="115.5" width="11.8" height="9.8" fill="#74CAF0"/>
<rect x="438" y="108.95" width="11.8" height="6.84" fill="#EEA0EF"/>
<rect x="438" y="99.7" width="11.8" height="9.56" fill="#B4E1E8"/>
<rect x="449.5" y="137.95" width="11.8" height="23.75" fill="#D58094"/>
<rect x="449.5" y="135.18" width="11.8" height="3.08" fill="#A2AADA"/>
<rect x="449.5" y="131.78" width="11.8" height="3.69" fill="#E6CD37"/>
<rect x="449.5" y="114.51" width="11.8" height="17.58" fill="#B9DA87"/>
<rect x="449.5" y="109.88" width="11.8" height="4.93" fill="#74CAF0"/>
<rect x="449.5" y="105.99" width="11.8" height="4.19" fill="#EEA0EF"/>
<rect x="449.5" y="99.7" width="11.8" height="6.59" fill="#B4E1E8"/>
<rect x="461" y="136.84" width="11.8" height="24.86" fill="#D58094"/>
<rect x="461" y="134.01" width="11.8" height="3.14" fill="#A2AADA"/>
<rect x="461" y="128.39" width="11.8" height="5.91" fill="#E6CD37"/>
<rect x="461" y="114.51" width="11.8" height="14.18" fill="#B9DA87"/>
<rect x="461" y="111.05" width="11.8" height="3.76" fill="#74CAF0"/>
<rect x="461" y="106.49" width="11.8" height="4.87" fill="#EEA0EF"/>
<rect x="461" y="99.7" width="11.8" height="7.09" fill="#B4E1E8"/>
<rect x="472.5" y="137.34" width="11.8" height="24.36" fill="#D58094"/>
<rect x="472.5" y="134.01" width="11.8" height="3.63" fill="#A2AADA"/>
<rect x="472.5" y="130.67" width="11.8" height="3.63" fill="#E6CD37"/>
<rect x="472.5" y="114.51" width="11.8" height="16.47" fill="#B9DA87"/>
<rect x="472.5" y="109.33" width="11.8" height="5.48" fill="#74CAF0"/>
<rect x="472.5" y="106.49" width="11.8" height="3.14" fill="#EEA0EF"/>
<rect x="472.5" y="99.7" width="11.8" height="7.09" fill="#B4E1E8"/>
<rect x="484" y="128.39" width="11.8" height="33.31" fill="#D58094"/>
<rect x="484" y="126.85" width="11.8" height="1.84" fill="#A2AADA"/>
<rect x="484" y="123.95" width="11.8" height="3.2" fill="#E6CD37"/>
<rect x="484" y="114.51" width="11.8" height="9.74" fill="#B9DA87"/>
<rect x="484" y="108.34" width="11.8" height="6.47" fill="#74CAF0"/>
<rect x="484" y="104.33" width="11.8" height="4.31" fill="#EEA0EF"/>
<rect x="484" y="99.7" width="11.8" height="4.93" fill="#B4E1E8"/>
<line x1="48.5" y1="167.8" x2="48.5" y2="229.5" stroke="#4a4a4a" stroke-width="0.85"/>
<line x1="45" y1="229.5" x2="48.5" y2="229.5" stroke="#4a4a4a" stroke-width="0.85"/>
<text x="43" y="232.1" font-size="7.2" text-anchor="end">0</text>
<line x1="45" y1="217.16" x2="48.5" y2="217.16" stroke="#4a4a4a" stroke-width="0.85"/>
<text x="43" y="219.76" font-size="7.2" text-anchor="end">20</text>
<line x1="45" y1="204.82" x2="48.5" y2="204.82" stroke="#4a4a4a" stroke-width="0.85"/>
<text x="43" y="207.42" font-size="7.2" text-anchor="end">40</text>
<line x1="45" y1="192.48" x2="48.5" y2="192.48" stroke="#4a4a4a" stroke-width="0.85"/>
<text x="43" y="195.08" font-size="7.2" text-anchor="end">60</text>
<line x1="45" y1="180.14" x2="48.5" y2="180.14" stroke="#4a4a4a" stroke-width="0.85"/>
<text x="43" y="182.74" font-size="7.2" text-anchor="end">80</text>
<line x1="45" y1="167.8" x2="48.5" y2="167.8" stroke="#4a4a4a" stroke-width="0.85"/>
<text x="43" y="170.4" font-size="7.2" text-anchor="end">100</text>
<line x1="47" y1="223.33" x2="48.5" y2="223.33" stroke="#6a6a6a" stroke-width="0.6"/>
<line x1="47" y1="210.99" x2="48.5" y2="210.99" stroke="#6a6a6a" stroke-width="0.6"/>
<line x1="47" y1="198.65" x2="48.5" y2="198.65" stroke="#6a6a6a" stroke-width="0.6"/>
<line x1="47" y1="186.31" x2="48.5" y2="186.31" stroke="#6a6a6a" stroke-width="0.6"/>
<line x1="47" y1="173.97" x2="48.5" y2="173.97" stroke="#6a6a6a" stroke-width="0.6"/>
<text x="500" y="203" font-size="7.7">20–30 cm</text>
<rect x="52.2" y="228.27" width="11.8" height="1.53" fill="#D58094"/>
<rect x="52.2" y="225.43" width="11.8" height="3.14" fill="#A2AADA"/>
<rect x="52.2" y="212.53" width="11.8" height="13.2" fill="#E6CD37"/>
<rect x="52.2" y="196.18" width="11.8" height="16.65" fill="#B9DA87"/>
<rect x="52.2" y="186.68" width="11.8" height="9.8" fill="#74CAF0"/>
<rect x="52.2" y="180.14" width="11.8" height="6.84" fill="#EEA0EF"/>
<rect x="52.2" y="167.8" width="11.8" height="12.64" fill="#B4E1E8"/>
<rect x="63.7" y="228.57" width="11.8" height="1.23" fill="#D58094"/>
<rect x="63.7" y="227.03" width="11.8" height="1.84" fill="#A2AADA"/>
<rect x="63.7" y="223.33" width="11.8" height="4" fill="#E6CD37"/>
<rect x="63.7" y="200.75" width="11.8" height="22.88" fill="#B9DA87"/>
<rect x="63.7" y="187.85" width="11.8" height="13.2" fill="#74CAF0"/>
<rect x="63.7" y="180.51" width="11.8" height="7.64" fill="#EEA0EF"/>
<rect x="63.7" y="167.8" width="11.8" height="13.01" fill="#B4E1E8"/>
<rect x="75.2" y="228.57" width="11.8" height="1.23" fill="#D58094"/>
<rect x="75.2" y="226.41" width="11.8" height="2.46" fill="#A2AADA"/>
<rect x="75.2" y="223.33" width="11.8" height="3.38" fill="#E6CD37"/>
<rect x="75.2" y="180.51" width="11.8" height="43.12" fill="#B9DA87"/>
<rect x="75.2" y="179.4" width="11.8" height="1.41" fill="#74CAF0"/>
<rect x="75.2" y="177.06" width="11.8" height="2.64" fill="#EEA0EF"/>
<rect x="75.2" y="167.8" width="11.8" height="9.55" fill="#B4E1E8"/>
<rect x="86.7" y="227.65" width="11.8" height="2.15" fill="#D58094"/>
<rect x="86.7" y="224.87" width="11.8" height="3.08" fill="#A2AADA"/>
<rect x="86.7" y="211.92" width="11.8" height="13.26" fill="#E6CD37"/>
<rect x="86.7" y="181.68" width="11.8" height="30.53" fill="#B9DA87"/>
<rect x="86.7" y="180.51" width="11.8" height="1.47" fill="#74CAF0"/>
<rect x="86.7" y="176.07" width="11.8" height="4.74" fill="#EEA0EF"/>
<rect x="86.7" y="167.8" width="11.8" height="8.57" fill="#B4E1E8"/>
<rect x="98.2" y="227.65" width="11.8" height="2.15" fill="#D58094"/>
<rect x="98.2" y="221.48" width="11.8" height="6.47" fill="#A2AADA"/>
<rect x="98.2" y="205.75" width="11.8" height="16.03" fill="#E6CD37"/>
<rect x="98.2" y="181.68" width="11.8" height="24.36" fill="#B9DA87"/>
<rect x="98.2" y="179.4" width="11.8" height="2.58" fill="#74CAF0"/>
<rect x="98.2" y="177.06" width="11.8" height="2.64" fill="#EEA0EF"/>
<rect x="98.2" y="167.8" width="11.8" height="9.55" fill="#B4E1E8"/>
<rect x="116.5" y="229.19" width="11.8" height="0.61" fill="#D58094"/>
<rect x="116.5" y="227.03" width="11.8" height="2.46" fill="#A2AADA"/>
<rect x="116.5" y="217.16" width="11.8" height="10.17" fill="#E6CD37"/>
<rect x="116.5" y="207.91" width="11.8" height="9.55" fill="#B9DA87"/>
<rect x="116.5" y="195.13" width="11.8" height="13.07" fill="#74CAF0"/>
<rect x="116.5" y="185.69" width="11.8" height="9.74" fill="#EEA0EF"/>
<rect x="116.5" y="167.8" width="11.8" height="18.19" fill="#B4E1E8"/>
<rect x="128" y="229.19" width="11.8" height="0.61" fill="#D58094"/>
<rect x="128" y="227.03" width="11.8" height="2.46" fill="#A2AADA"/>
<rect x="128" y="220.86" width="11.8" height="6.47" fill="#E6CD37"/>
<rect x="128" y="180.51" width="11.8" height="40.65" fill="#B9DA87"/>
<rect x="128" y="179.95" width="11.8" height="0.86" fill="#74CAF0"/>
<rect x="128" y="178.29" width="11.8" height="1.97" fill="#EEA0EF"/>
<rect x="128" y="167.8" width="11.8" height="10.79" fill="#B4E1E8"/>
<rect x="139.5" y="229.19" width="11.8" height="0.61" fill="#D58094"/>
<rect x="139.5" y="227.03" width="11.8" height="2.46" fill="#A2AADA"/>
<rect x="139.5" y="222.71" width="11.8" height="4.62" fill="#E6CD37"/>
<rect x="139.5" y="197.42" width="11.8" height="25.6" fill="#B9DA87"/>
<rect x="139.5" y="185.69" width="11.8" height="12.02" fill="#74CAF0"/>
<rect x="139.5" y="179.4" width="11.8" height="6.59" fill="#EEA0EF"/>
<rect x="139.5" y="167.8" width="11.8" height="11.9" fill="#B4E1E8"/>
<rect x="151" y="229.19" width="11.8" height="0.61" fill="#D58094"/>
<rect x="151" y="227.03" width="11.8" height="2.46" fill="#A2AADA"/>
<rect x="151" y="220.25" width="11.8" height="7.09" fill="#E6CD37"/>
<rect x="151" y="205.19" width="11.8" height="15.35" fill="#B9DA87"/>
<rect x="151" y="192.85" width="11.8" height="12.64" fill="#74CAF0"/>
<rect x="151" y="186.68" width="11.8" height="6.47" fill="#EEA0EF"/>
<rect x="151" y="167.8" width="11.8" height="19.18" fill="#B4E1E8"/>
<rect x="162.5" y="229.19" width="11.8" height="0.61" fill="#D58094"/>
<rect x="162.5" y="227.03" width="11.8" height="2.46" fill="#A2AADA"/>
<rect x="162.5" y="220.25" width="11.8" height="7.09" fill="#E6CD37"/>
<rect x="162.5" y="210.99" width="11.8" height="9.55" fill="#B9DA87"/>
<rect x="162.5" y="195.13" width="11.8" height="16.16" fill="#74CAF0"/>
<rect x="162.5" y="186.68" width="11.8" height="8.75" fill="#EEA0EF"/>
<rect x="162.5" y="167.8" width="11.8" height="19.18" fill="#B4E1E8"/>
<rect x="180.8" y="228.88" width="11.8" height="0.92" fill="#D58094"/>
<rect x="180.8" y="227.03" width="11.8" height="2.15" fill="#A2AADA"/>
<rect x="180.8" y="222.1" width="11.8" height="5.24" fill="#E6CD37"/>
<rect x="180.8" y="187.85" width="11.8" height="34.54" fill="#B9DA87"/>
<rect x="180.8" y="181.68" width="11.8" height="6.47" fill="#74CAF0"/>
<rect x="180.8" y="178.91" width="11.8" height="3.08" fill="#EEA0EF"/>
<rect x="180.8" y="167.8" width="11.8" height="11.41" fill="#B4E1E8"/>
<rect x="192.3" y="228.88" width="11.8" height="0.92" fill="#D58094"/>
<rect x="192.3" y="227.03" width="11.8" height="2.15" fill="#A2AADA"/>
<rect x="192.3" y="222.1" width="11.8" height="5.24" fill="#E6CD37"/>
<rect x="192.3" y="186.68" width="11.8" height="35.72" fill="#B9DA87"/>
<rect x="192.3" y="181.68" width="11.8" height="5.3" fill="#74CAF0"/>
<rect x="192.3" y="177.67" width="11.8" height="4.31" fill="#EEA0EF"/>
<rect x="192.3" y="167.8" width="11.8" height="10.17" fill="#B4E1E8"/>
<rect x="203.8" y="228.88" width="11.8" height="0.92" fill="#D58094"/>
<rect x="203.8" y="224.26" width="11.8" height="4.93" fill="#A2AADA"/>
<rect x="203.8" y="212.53" width="11.8" height="12.02" fill="#E6CD37"/>
<rect x="203.8" y="182.79" width="11.8" height="30.04" fill="#B9DA87"/>
<rect x="203.8" y="180.51" width="11.8" height="2.58" fill="#74CAF0"/>
<rect x="203.8" y="176.62" width="11.8" height="4.19" fill="#EEA0EF"/>
<rect x="203.8" y="167.8" width="11.8" height="9.12" fill="#B4E1E8"/>
<rect x="215.3" y="228.88" width="11.8" height="0.92" fill="#D58094"/>
<rect x="215.3" y="224.26" width="11.8" height="4.93" fill="#A2AADA"/>
<rect x="215.3" y="213.09" width="11.8" height="11.47" fill="#E6CD37"/>
<rect x="215.3" y="191.86" width="11.8" height="21.52" fill="#B9DA87"/>
<rect x="215.3" y="187.85" width="11.8" height="4.31" fill="#74CAF0"/>
<rect x="215.3" y="180.51" width="11.8" height="7.64" fill="#EEA0EF"/>
<rect x="215.3" y="167.8" width="11.8" height="13.01" fill="#B4E1E8"/>
<rect x="226.8" y="228.27" width="11.8" height="1.53" fill="#D58094"/>
<rect x="226.8" y="225.98" width="11.8" height="2.58" fill="#A2AADA"/>
<rect x="226.8" y="216.54" width="11.8" height="9.74" fill="#E6CD37"/>
<rect x="226.8" y="197.42" width="11.8" height="19.43" fill="#B9DA87"/>
<rect x="226.8" y="185.69" width="11.8" height="12.02" fill="#74CAF0"/>
<rect x="226.8" y="180.51" width="11.8" height="5.48" fill="#EEA0EF"/>
<rect x="226.8" y="167.8" width="11.8" height="13.01" fill="#B4E1E8"/>
<rect x="245.1" y="228.76" width="11.8" height="1.04" fill="#D58094"/>
<rect x="245.1" y="223.7" width="11.8" height="5.36" fill="#A2AADA"/>
<rect x="245.1" y="215.93" width="11.8" height="8.07" fill="#E6CD37"/>
<rect x="245.1" y="182.79" width="11.8" height="33.43" fill="#B9DA87"/>
<rect x="245.1" y="181.07" width="11.8" height="2.03" fill="#74CAF0"/>
<rect x="245.1" y="179.4" width="11.8" height="1.97" fill="#EEA0EF"/>
<rect x="245.1" y="167.8" width="11.8" height="11.9" fill="#B4E1E8"/>
<rect x="256.6" y="228.76" width="11.8" height="1.04" fill="#D58094"/>
<rect x="256.6" y="225.43" width="11.8" height="3.63" fill="#A2AADA"/>
<rect x="256.6" y="222.1" width="11.8" height="3.63" fill="#E6CD37"/>
<rect x="256.6" y="215.93" width="11.8" height="6.47" fill="#B9DA87"/>
<rect x="256.6" y="204.82" width="11.8" height="11.41" fill="#74CAF0"/>
<rect x="256.6" y="192.85" width="11.8" height="12.27" fill="#EEA0EF"/>
<rect x="256.6" y="167.8" width="11.8" height="25.35" fill="#B4E1E8"/>
<rect x="268.1" y="228.76" width="11.8" height="1.04" fill="#D58094"/>
<rect x="268.1" y="224.26" width="11.8" height="4.8" fill="#A2AADA"/>
<rect x="268.1" y="216.54" width="11.8" height="8.01" fill="#E6CD37"/>
<rect x="268.1" y="196.18" width="11.8" height="20.66" fill="#B9DA87"/>
<rect x="268.1" y="190.01" width="11.8" height="6.47" fill="#74CAF0"/>
<rect x="268.1" y="183.22" width="11.8" height="7.09" fill="#EEA0EF"/>
<rect x="268.1" y="167.8" width="11.8" height="15.72" fill="#B4E1E8"/>
<rect x="279.6" y="228.76" width="11.8" height="1.04" fill="#D58094"/>
<rect x="279.6" y="224.26" width="11.8" height="4.8" fill="#A2AADA"/>
<rect x="279.6" y="216.54" width="11.8" height="8.01" fill="#E6CD37"/>
<rect x="279.6" y="198.03" width="11.8" height="18.81" fill="#B9DA87"/>
<rect x="279.6" y="190.01" width="11.8" height="8.32" fill="#74CAF0"/>
<rect x="279.6" y="181.68" width="11.8" height="8.63" fill="#EEA0EF"/>
<rect x="279.6" y="167.8" width="11.8" height="14.18" fill="#B4E1E8"/>
<rect x="291.1" y="228.76" width="11.8" height="1.04" fill="#D58094"/>
<rect x="291.1" y="224.26" width="11.8" height="4.8" fill="#A2AADA"/>
<rect x="291.1" y="217.16" width="11.8" height="7.4" fill="#E6CD37"/>
<rect x="291.1" y="196.8" width="11.8" height="20.66" fill="#B9DA87"/>
<rect x="291.1" y="188.96" width="11.8" height="8.14" fill="#74CAF0"/>
<rect x="291.1" y="182.79" width="11.8" height="6.47" fill="#EEA0EF"/>
<rect x="291.1" y="167.8" width="11.8" height="15.29" fill="#B4E1E8"/>
<rect x="309.4" y="228.76" width="11.8" height="1.04" fill="#D58094"/>
<rect x="309.4" y="225.98" width="11.8" height="3.08" fill="#A2AADA"/>
<rect x="309.4" y="213.09" width="11.8" height="13.2" fill="#E6CD37"/>
<rect x="309.4" y="197.42" width="11.8" height="15.97" fill="#B9DA87"/>
<rect x="309.4" y="184.46" width="11.8" height="13.26" fill="#74CAF0"/>
<rect x="309.4" y="178.29" width="11.8" height="6.47" fill="#EEA0EF"/>
<rect x="309.4" y="167.8" width="11.8" height="10.79" fill="#B4E1E8"/>
<rect x="320.9" y="228.76" width="11.8" height="1.04" fill="#D58094"/>
<rect x="320.9" y="225.98" width="11.8" height="3.08" fill="#A2AADA"/>
<rect x="320.9" y="215.31" width="11.8" height="10.97" fill="#E6CD37"/>
<rect x="320.9" y="193.41" width="11.8" height="22.2" fill="#B9DA87"/>
<rect x="320.9" y="187.24" width="11.8" height="6.47" fill="#74CAF0"/>
<rect x="320.9" y="178.29" width="11.8" height="9.25" fill="#EEA0EF"/>
<rect x="320.9" y="167.8" width="11.8" height="10.79" fill="#B4E1E8"/>
<rect x="332.4" y="228.76" width="11.8" height="1.04" fill="#D58094"/>
<rect x="332.4" y="226.54" width="11.8" height="2.52" fill="#A2AADA"/>
<rect x="332.4" y="221.48" width="11.8" height="5.36" fill="#E6CD37"/>
<rect x="332.4" y="205.19" width="11.8" height="16.59" fill="#B9DA87"/>
<rect x="332.4" y="187.85" width="11.8" height="17.64" fill="#74CAF0"/>
<rect x="332.4" y="179.4" width="11.8" height="8.75" fill="#EEA0EF"/>
<rect x="332.4" y="167.8" width="11.8" height="11.9" fill="#B4E1E8"/>
<rect x="343.9" y="228.76" width="11.8" height="1.04" fill="#D58094"/>
<rect x="343.9" y="225.98" width="11.8" height="3.08" fill="#A2AADA"/>
<rect x="343.9" y="215.31" width="11.8" height="10.97" fill="#E6CD37"/>
<rect x="343.9" y="185.08" width="11.8" height="30.53" fill="#B9DA87"/>
<rect x="343.9" y="182.24" width="11.8" height="3.14" fill="#74CAF0"/>
<rect x="343.9" y="177.06" width="11.8" height="5.48" fill="#EEA0EF"/>
<rect x="343.9" y="167.8" width="11.8" height="9.55" fill="#B4E1E8"/>
<rect x="355.4" y="228.76" width="11.8" height="1.04" fill="#D58094"/>
<rect x="355.4" y="223.14" width="11.8" height="5.91" fill="#A2AADA"/>
<rect x="355.4" y="217.53" width="11.8" height="5.91" fill="#E6CD37"/>
<rect x="355.4" y="190.01" width="11.8" height="27.82" fill="#B9DA87"/>
<rect x="355.4" y="184.46" width="11.8" height="5.85" fill="#74CAF0"/>
<rect x="355.4" y="177.06" width="11.8" height="7.7" fill="#EEA0EF"/>
<rect x="355.4" y="167.8" width="11.8" height="9.55" fill="#B4E1E8"/>
<rect x="373.7" y="228.27" width="11.8" height="1.53" fill="#D58094"/>
<rect x="373.7" y="224.26" width="11.8" height="4.31" fill="#A2AADA"/>
<rect x="373.7" y="216.54" width="11.8" height="8.01" fill="#E6CD37"/>
<rect x="373.7" y="203.59" width="11.8" height="13.26" fill="#B9DA87"/>
<rect x="373.7" y="192.85" width="11.8" height="11.04" fill="#74CAF0"/>
<rect x="373.7" y="182.79" width="11.8" height="10.36" fill="#EEA0EF"/>
<rect x="373.7" y="167.8" width="11.8" height="15.29" fill="#B4E1E8"/>
<rect x="385.2" y="228.27" width="11.8" height="1.53" fill="#D58094"/>
<rect x="385.2" y="224.26" width="11.8" height="4.31" fill="#A2AADA"/>
<rect x="385.2" y="222.1" width="11.8" height="2.46" fill="#E6CD37"/>
<rect x="385.2" y="197.42" width="11.8" height="24.98" fill="#B9DA87"/>
<rect x="385.2" y="190.01" width="11.8" height="7.7" fill="#74CAF0"/>
<rect x="385.2" y="182.24" width="11.8" height="8.07" fill="#EEA0EF"/>
<rect x="385.2" y="167.8" width="11.8" height="14.74" fill="#B4E1E8"/>
<rect x="396.7" y="228.27" width="11.8" height="1.53" fill="#D58094"/>
<rect x="396.7" y="224.87" width="11.8" height="3.69" fill="#A2AADA"/>
<rect x="396.7" y="213.09" width="11.8" height="12.08" fill="#E6CD37"/>
<rect x="396.7" y="178.29" width="11.8" height="35.1" fill="#B9DA87"/>
<rect x="396.7" y="177.67" width="11.8" height="0.92" fill="#74CAF0"/>
<rect x="396.7" y="175.51" width="11.8" height="2.46" fill="#EEA0EF"/>
<rect x="396.7" y="167.8" width="11.8" height="8.01" fill="#B4E1E8"/>
<rect x="408.2" y="228.27" width="11.8" height="1.53" fill="#D58094"/>
<rect x="408.2" y="224.87" width="11.8" height="3.69" fill="#A2AADA"/>
<rect x="408.2" y="214.69" width="11.8" height="10.48" fill="#E6CD37"/>
<rect x="408.2" y="211.92" width="11.8" height="3.08" fill="#B9DA87"/>
<rect x="408.2" y="196.18" width="11.8" height="16.03" fill="#74CAF0"/>
<rect x="408.2" y="186.31" width="11.8" height="10.17" fill="#EEA0EF"/>
<rect x="408.2" y="167.8" width="11.8" height="18.81" fill="#B4E1E8"/>
<rect x="419.7" y="228.27" width="11.8" height="1.53" fill="#D58094"/>
<rect x="419.7" y="223.7" width="11.8" height="4.87" fill="#A2AADA"/>
<rect x="419.7" y="215.93" width="11.8" height="8.07" fill="#E6CD37"/>
<rect x="419.7" y="198.03" width="11.8" height="18.19" fill="#B9DA87"/>
<rect x="419.7" y="191.25" width="11.8" height="7.09" fill="#74CAF0"/>
<rect x="419.7" y="185.08" width="11.8" height="6.47" fill="#EEA0EF"/>
<rect x="419.7" y="167.8" width="11.8" height="17.58" fill="#B4E1E8"/>
<rect x="438" y="228.57" width="11.8" height="1.23" fill="#D58094"/>
<rect x="438" y="225.43" width="11.8" height="3.45" fill="#A2AADA"/>
<rect x="438" y="217.53" width="11.8" height="8.2" fill="#E6CD37"/>
<rect x="438" y="205.19" width="11.8" height="12.64" fill="#B9DA87"/>
<rect x="438" y="187.24" width="11.8" height="18.25" fill="#74CAF0"/>
<rect x="438" y="183.22" width="11.8" height="4.31" fill="#EEA0EF"/>
<rect x="438" y="167.8" width="11.8" height="15.72" fill="#B4E1E8"/>
<rect x="449.5" y="228.57" width="11.8" height="1.23" fill="#D58094"/>
<rect x="449.5" y="225.43" width="11.8" height="3.45" fill="#A2AADA"/>
<rect x="449.5" y="217.53" width="11.8" height="8.2" fill="#E6CD37"/>
<rect x="449.5" y="199.58" width="11.8" height="18.25" fill="#B9DA87"/>
<rect x="449.5" y="183.84" width="11.8" height="16.03" fill="#74CAF0"/>
<rect x="449.5" y="177.67" width="11.8" height="6.47" fill="#EEA0EF"/>
<rect x="449.5" y="167.8" width="11.8" height="10.17" fill="#B4E1E8"/>
<rect x="461" y="228.57" width="11.8" height="1.23" fill="#D58094"/>
<rect x="461" y="225.98" width="11.8" height="2.89" fill="#A2AADA"/>
<rect x="461" y="218.09" width="11.8" height="8.2" fill="#E6CD37"/>
<rect x="461" y="191.25" width="11.8" height="27.14" fill="#B9DA87"/>
<rect x="461" y="186.31" width="11.8" height="5.24" fill="#74CAF0"/>
<rect x="461" y="180.51" width="11.8" height="6.1" fill="#EEA0EF"/>
<rect x="461" y="167.8" width="11.8" height="13.01" fill="#B4E1E8"/>
<rect x="472.5" y="228.57" width="11.8" height="1.23" fill="#D58094"/>
<rect x="472.5" y="225.98" width="11.8" height="2.89" fill="#A2AADA"/>
<rect x="472.5" y="218.09" width="11.8" height="8.2" fill="#E6CD37"/>
<rect x="472.5" y="178.29" width="11.8" height="40.1" fill="#B9DA87"/>
<rect x="472.5" y="177.67" width="11.8" height="0.92" fill="#74CAF0"/>
<rect x="472.5" y="177.06" width="11.8" height="0.92" fill="#EEA0EF"/>
<rect x="472.5" y="167.8" width="11.8" height="9.55" fill="#B4E1E8"/>
<rect x="484" y="228.57" width="11.8" height="1.23" fill="#D58094"/>
<rect x="484" y="224.26" width="11.8" height="4.62" fill="#A2AADA"/>
<rect x="484" y="214.45" width="11.8" height="10.11" fill="#E6CD37"/>
<rect x="484" y="201.12" width="11.8" height="13.63" fill="#B9DA87"/>
<rect x="484" y="184.46" width="11.8" height="16.96" fill="#74CAF0"/>
<rect x="484" y="178.29" width="11.8" height="6.47" fill="#EEA0EF"/>
<rect x="484" y="167.8" width="11.8" height="10.79" fill="#B4E1E8"/>
<line x1="48.5" y1="235.9" x2="48.5" y2="297.6" stroke="#4a4a4a" stroke-width="0.85"/>
<line x1="45" y1="297.6" x2="48.5" y2="297.6" stroke="#4a4a4a" stroke-width="0.85"/>
<text x="43" y="300.2" font-size="7.2" text-anchor="end">0</text>
<line x1="45" y1="285.26" x2="48.5" y2="285.26" stroke="#4a4a4a" stroke-width="0.85"/>
<text x="43" y="287.86" font-size="7.2" text-anchor="end">20</text>
<line x1="45" y1="272.92" x2="48.5" y2="272.92" stroke="#4a4a4a" stroke-width="0.85"/>
<text x="43" y="275.52" font-size="7.2" text-anchor="end">40</text>
<line x1="45" y1="260.58" x2="48.5" y2="260.58" stroke="#4a4a4a" stroke-width="0.85"/>
<text x="43" y="263.18" font-size="7.2" text-anchor="end">60</text>
<line x1="45" y1="248.24" x2="48.5" y2="248.24" stroke="#4a4a4a" stroke-width="0.85"/>
<text x="43" y="250.84" font-size="7.2" text-anchor="end">80</text>
<line x1="45" y1="235.9" x2="48.5" y2="235.9" stroke="#4a4a4a" stroke-width="0.85"/>
<text x="43" y="238.5" font-size="7.2" text-anchor="end">100</text>
<line x1="47" y1="291.43" x2="48.5" y2="291.43" stroke="#6a6a6a" stroke-width="0.6"/>
<line x1="47" y1="279.09" x2="48.5" y2="279.09" stroke="#6a6a6a" stroke-width="0.6"/>
<line x1="47" y1="266.75" x2="48.5" y2="266.75" stroke="#6a6a6a" stroke-width="0.6"/>
<line x1="47" y1="254.41" x2="48.5" y2="254.41" stroke="#6a6a6a" stroke-width="0.6"/>
<line x1="47" y1="242.07" x2="48.5" y2="242.07" stroke="#6a6a6a" stroke-width="0.6"/>
<text x="500" y="271.3" font-size="7.7">30–40 cm</text>
<rect x="52.2" y="297.17" width="11.8" height="0.73" fill="#D58094"/>
<rect x="52.2" y="294.39" width="11.8" height="3.08" fill="#A2AADA"/>
<rect x="52.2" y="289.33" width="11.8" height="5.36" fill="#E6CD37"/>
<rect x="52.2" y="263.66" width="11.8" height="25.97" fill="#B9DA87"/>
<rect x="52.2" y="257.49" width="11.8" height="6.47" fill="#74CAF0"/>
<rect x="52.2" y="251.32" width="11.8" height="6.47" fill="#EEA0EF"/>
<rect x="52.2" y="235.9" width="11.8" height="15.72" fill="#B4E1E8"/>
<rect x="63.7" y="297.17" width="11.8" height="0.73" fill="#D58094"/>
<rect x="63.7" y="294.39" width="11.8" height="3.08" fill="#A2AADA"/>
<rect x="63.7" y="291.55" width="11.8" height="3.14" fill="#E6CD37"/>
<rect x="63.7" y="251.76" width="11.8" height="40.1" fill="#B9DA87"/>
<rect x="63.7" y="250.71" width="11.8" height="1.35" fill="#74CAF0"/>
<rect x="63.7" y="247.25" width="11.8" height="3.76" fill="#EEA0EF"/>
<rect x="63.7" y="235.9" width="11.8" height="11.65" fill="#B4E1E8"/>
<rect x="75.2" y="297.17" width="11.8" height="0.73" fill="#D58094"/>
<rect x="75.2" y="294.39" width="11.8" height="3.08" fill="#A2AADA"/>
<rect x="75.2" y="289.89" width="11.8" height="4.8" fill="#E6CD37"/>
<rect x="75.2" y="258.48" width="11.8" height="31.71" fill="#B9DA87"/>
<rect x="75.2" y="253.98" width="11.8" height="4.8" fill="#74CAF0"/>
<rect x="75.2" y="247.81" width="11.8" height="6.47" fill="#EEA0EF"/>
<rect x="75.2" y="235.9" width="11.8" height="12.21" fill="#B4E1E8"/>
<rect x="86.7" y="297.17" width="11.8" height="0.73" fill="#D58094"/>
<rect x="86.7" y="294.39" width="11.8" height="3.08" fill="#A2AADA"/>
<rect x="86.7" y="289.89" width="11.8" height="4.8" fill="#E6CD37"/>
<rect x="86.7" y="265.21" width="11.8" height="24.98" fill="#B9DA87"/>
<rect x="86.7" y="260.7" width="11.8" height="4.8" fill="#74CAF0"/>
<rect x="86.7" y="252.87" width="11.8" height="8.14" fill="#EEA0EF"/>
<rect x="86.7" y="235.9" width="11.8" height="17.27" fill="#B4E1E8"/>
<rect x="98.2" y="297.17" width="11.8" height="0.73" fill="#D58094"/>
<rect x="98.2" y="293.9" width="11.8" height="3.57" fill="#A2AADA"/>
<rect x="98.2" y="287.73" width="11.8" height="6.47" fill="#E6CD37"/>
<rect x="98.2" y="273.6" width="11.8" height="14.43" fill="#B9DA87"/>
<rect x="98.2" y="263.54" width="11.8" height="10.36" fill="#74CAF0"/>
<rect x="98.2" y="249.54" width="11.8" height="14.31" fill="#EEA0EF"/>
<rect x="98.2" y="235.9" width="11.8" height="13.94" fill="#B4E1E8"/>
<rect x="116.5" y="297.17" width="11.8" height="0.73" fill="#D58094"/>
<rect x="116.5" y="294.95" width="11.8" height="2.52" fill="#A2AADA"/>
<rect x="116.5" y="289.89" width="11.8" height="5.36" fill="#E6CD37"/>
<rect x="116.5" y="270.27" width="11.8" height="19.92" fill="#B9DA87"/>
<rect x="116.5" y="256.88" width="11.8" height="13.69" fill="#74CAF0"/>
<rect x="116.5" y="251.32" width="11.8" height="5.85" fill="#EEA0EF"/>
<rect x="116.5" y="235.9" width="11.8" height="15.72" fill="#B4E1E8"/>
<rect x="128" y="297.17" width="11.8" height="0.73" fill="#D58094"/>
<rect x="128" y="294.95" width="11.8" height="2.52" fill="#A2AADA"/>
<rect x="128" y="290.44" width="11.8" height="4.8" fill="#E6CD37"/>
<rect x="128" y="248.86" width="11.8" height="41.89" fill="#B9DA87"/>
<rect x="128" y="248.36" width="11.8" height="0.79" fill="#74CAF0"/>
<rect x="128" y="247.25" width="11.8" height="1.41" fill="#EEA0EF"/>
<rect x="128" y="235.9" width="11.8" height="11.65" fill="#B4E1E8"/>
<rect x="139.5" y="297.17" width="11.8" height="0.73" fill="#D58094"/>
<rect x="139.5" y="294.95" width="11.8" height="2.52" fill="#A2AADA"/>
<rect x="139.5" y="290.44" width="11.8" height="4.8" fill="#E6CD37"/>
<rect x="139.5" y="253.79" width="11.8" height="36.95" fill="#B9DA87"/>
<rect x="139.5" y="252.87" width="11.8" height="1.23" fill="#74CAF0"/>
<rect x="139.5" y="251.02" width="11.8" height="2.15" fill="#EEA0EF"/>
<rect x="139.5" y="235.9" width="11.8" height="15.42" fill="#B4E1E8"/>
<rect x="151" y="297.17" width="11.8" height="0.73" fill="#D58094"/>
<rect x="151" y="294.95" width="11.8" height="2.52" fill="#A2AADA"/>
<rect x="151" y="290.44" width="11.8" height="4.8" fill="#E6CD37"/>
<rect x="151" y="289.33" width="11.8" height="1.41" fill="#B9DA87"/>
<rect x="151" y="283.72" width="11.8" height="5.91" fill="#74CAF0"/>
<rect x="151" y="280.32" width="11.8" height="3.69" fill="#EEA0EF"/>
<rect x="151" y="235.9" width="11.8" height="44.72" fill="#B4E1E8"/>
<rect x="162.5" y="297.17" width="11.8" height="0.73" fill="#D58094"/>
<rect x="162.5" y="294.95" width="11.8" height="2.52" fill="#A2AADA"/>
<rect x="162.5" y="288.78" width="11.8" height="6.47" fill="#E6CD37"/>
<rect x="162.5" y="285.38" width="11.8" height="3.69" fill="#B9DA87"/>
<rect x="162.5" y="270.27" width="11.8" height="15.42" fill="#74CAF0"/>
<rect x="162.5" y="252.87" width="11.8" height="17.7" fill="#EEA0EF"/>
<rect x="162.5" y="235.9" width="11.8" height="17.27" fill="#B4E1E8"/>
<rect x="180.8" y="296.61" width="11.8" height="1.29" fill="#D58094"/>
<rect x="180.8" y="294.95" width="11.8" height="1.97" fill="#A2AADA"/>
<rect x="180.8" y="291" width="11.8" height="4.25" fill="#E6CD37"/>
<rect x="180.8" y="259.04" width="11.8" height="32.26" fill="#B9DA87"/>
<rect x="180.8" y="253.98" width="11.8" height="5.36" fill="#74CAF0"/>
<rect x="180.8" y="249.47" width="11.8" height="4.8" fill="#EEA0EF"/>
<rect x="180.8" y="235.9" width="11.8" height="13.87" fill="#B4E1E8"/>
<rect x="192.3" y="296.61" width="11.8" height="1.29" fill="#D58094"/>
<rect x="192.3" y="294.95" width="11.8" height="1.97" fill="#A2AADA"/>
<rect x="192.3" y="290.44" width="11.8" height="4.8" fill="#E6CD37"/>
<rect x="192.3" y="257.93" width="11.8" height="32.82" fill="#B9DA87"/>
<rect x="192.3" y="253.42" width="11.8" height="4.8" fill="#74CAF0"/>
<rect x="192.3" y="246.14" width="11.8" height="7.58" fill="#EEA0EF"/>
<rect x="192.3" y="235.9" width="11.8" height="10.54" fill="#B4E1E8"/>
<rect x="203.8" y="296.61" width="11.8" height="1.29" fill="#D58094"/>
<rect x="203.8" y="293.9" width="11.8" height="3.01" fill="#A2AADA"/>
<rect x="203.8" y="287.73" width="11.8" height="6.47" fill="#E6CD37"/>
<rect x="203.8" y="282.61" width="11.8" height="5.42" fill="#B9DA87"/>
<rect x="203.8" y="263.54" width="11.8" height="19.37" fill="#74CAF0"/>
<rect x="203.8" y="252.31" width="11.8" height="11.53" fill="#EEA0EF"/>
<rect x="203.8" y="235.9" width="11.8" height="16.71" fill="#B4E1E8"/>
<rect x="215.3" y="296.61" width="11.8" height="1.29" fill="#D58094"/>
<rect x="215.3" y="294.39" width="11.8" height="2.52" fill="#A2AADA"/>
<rect x="215.3" y="289.89" width="11.8" height="4.8" fill="#E6CD37"/>
<rect x="215.3" y="264.1" width="11.8" height="26.09" fill="#B9DA87"/>
<rect x="215.3" y="256.26" width="11.8" height="8.14" fill="#74CAF0"/>
<rect x="215.3" y="250.09" width="11.8" height="6.47" fill="#EEA0EF"/>
<rect x="215.3" y="235.9" width="11.8" height="14.49" fill="#B4E1E8"/>
<rect x="226.8" y="296.61" width="11.8" height="1.29" fill="#D58094"/>
<rect x="226.8" y="293.9" width="11.8" height="3.01" fill="#A2AADA"/>
<rect x="226.8" y="290.44" width="11.8" height="3.76" fill="#E6CD37"/>
<rect x="226.8" y="264.1" width="11.8" height="26.65" fill="#B9DA87"/>
<rect x="226.8" y="255.09" width="11.8" height="9.31" fill="#74CAF0"/>
<rect x="226.8" y="249.47" width="11.8" height="5.91" fill="#EEA0EF"/>
<rect x="226.8" y="235.9" width="11.8" height="13.87" fill="#B4E1E8"/>
<rect x="245.1" y="297.17" width="11.8" height="0.73" fill="#D58094"/>
<rect x="245.1" y="294.39" width="11.8" height="3.08" fill="#A2AADA"/>
<rect x="245.1" y="289.33" width="11.8" height="5.36" fill="#E6CD37"/>
<rect x="245.1" y="275.39" width="11.8" height="14.24" fill="#B9DA87"/>
<rect x="245.1" y="263.05" width="11.8" height="12.64" fill="#74CAF0"/>
<rect x="245.1" y="253.42" width="11.8" height="9.93" fill="#EEA0EF"/>
<rect x="245.1" y="235.9" width="11.8" height="17.82" fill="#B4E1E8"/>
<rect x="256.6" y="297.17" width="11.8" height="0.73" fill="#D58094"/>
<rect x="256.6" y="294.39" width="11.8" height="3.08" fill="#A2AADA"/>
<rect x="256.6" y="289.33" width="11.8" height="5.36" fill="#E6CD37"/>
<rect x="256.6" y="261.26" width="11.8" height="28.37" fill="#B9DA87"/>
<rect x="256.6" y="249.47" width="11.8" height="12.08" fill="#74CAF0"/>
<rect x="256.6" y="245.59" width="11.8" height="4.19" fill="#EEA0EF"/>
<rect x="256.6" y="235.9" width="11.8" height="9.99" fill="#B4E1E8"/>
<rect x="268.1" y="297.17" width="11.8" height="0.73" fill="#D58094"/>
<rect x="268.1" y="294.39" width="11.8" height="3.08" fill="#A2AADA"/>
<rect x="268.1" y="283.72" width="11.8" height="10.97" fill="#E6CD37"/>
<rect x="268.1" y="261.26" width="11.8" height="22.76" fill="#B9DA87"/>
<rect x="268.1" y="249.47" width="11.8" height="12.08" fill="#74CAF0"/>
<rect x="268.1" y="246.14" width="11.8" height="3.63" fill="#EEA0EF"/>
<rect x="268.1" y="235.9" width="11.8" height="10.54" fill="#B4E1E8"/>
<rect x="279.6" y="297.17" width="11.8" height="0.73" fill="#D58094"/>
<rect x="279.6" y="294.39" width="11.8" height="3.08" fill="#A2AADA"/>
<rect x="279.6" y="285.38" width="11.8" height="9.31" fill="#E6CD37"/>
<rect x="279.6" y="271.93" width="11.8" height="13.75" fill="#B9DA87"/>
<rect x="279.6" y="260.7" width="11.8" height="11.53" fill="#74CAF0"/>
<rect x="279.6" y="250.71" width="11.8" height="10.3" fill="#EEA0EF"/>
<rect x="279.6" y="235.9" width="11.8" height="15.11" fill="#B4E1E8"/>
<rect x="291.1" y="297.17" width="11.8" height="0.73" fill="#D58094"/>
<rect x="291.1" y="294.39" width="11.8" height="3.08" fill="#A2AADA"/>
<rect x="291.1" y="284.27" width="11.8" height="10.42" fill="#E6CD37"/>
<rect x="291.1" y="267.43" width="11.8" height="17.14" fill="#B9DA87"/>
<rect x="291.1" y="256.26" width="11.8" height="11.47" fill="#74CAF0"/>
<rect x="291.1" y="248.36" width="11.8" height="8.2" fill="#EEA0EF"/>
<rect x="291.1" y="235.9" width="11.8" height="12.76" fill="#B4E1E8"/>
<rect x="309.4" y="297.17" width="11.8" height="0.73" fill="#D58094"/>
<rect x="309.4" y="294.95" width="11.8" height="2.52" fill="#A2AADA"/>
<rect x="309.4" y="289.89" width="11.8" height="5.36" fill="#E6CD37"/>
<rect x="309.4" y="276.99" width="11.8" height="13.2" fill="#B9DA87"/>
<rect x="309.4" y="264.65" width="11.8" height="12.64" fill="#74CAF0"/>
<rect x="309.4" y="250.09" width="11.8" height="14.86" fill="#EEA0EF"/>
<rect x="309.4" y="235.9" width="11.8" height="14.49" fill="#B4E1E8"/>
<rect x="320.9" y="297.17" width="11.8" height="0.73" fill="#D58094"/>
<rect x="320.9" y="293.28" width="11.8" height="4.19" fill="#A2AADA"/>
<rect x="320.9" y="286.49" width="11.8" height="7.09" fill="#E6CD37"/>
<rect x="320.9" y="255.64" width="11.8" height="31.15" fill="#B9DA87"/>
<rect x="320.9" y="252.31" width="11.8" height="3.63" fill="#74CAF0"/>
<rect x="320.9" y="246.14" width="11.8" height="6.47" fill="#EEA0EF"/>
<rect x="320.9" y="235.9" width="11.8" height="10.54" fill="#B4E1E8"/>
<rect x="332.4" y="297.17" width="11.8" height="0.73" fill="#D58094"/>
<rect x="332.4" y="293.9" width="11.8" height="3.57" fill="#A2AADA"/>
<rect x="332.4" y="288.78" width="11.8" height="5.42" fill="#E6CD37"/>
<rect x="332.4" y="249.47" width="11.8" height="39.6" fill="#B9DA87"/>
<rect x="332.4" y="246.7" width="11.8" height="3.08" fill="#74CAF0"/>
<rect x="332.4" y="244.48" width="11.8" height="2.52" fill="#EEA0EF"/>
<rect x="332.4" y="235.9" width="11.8" height="8.88" fill="#B4E1E8"/>
<rect x="343.9" y="297.17" width="11.8" height="0.73" fill="#D58094"/>
<rect x="343.9" y="293.9" width="11.8" height="3.57" fill="#A2AADA"/>
<rect x="343.9" y="290.44" width="11.8" height="3.76" fill="#E6CD37"/>
<rect x="343.9" y="278.66" width="11.8" height="12.08" fill="#B9DA87"/>
<rect x="343.9" y="267.43" width="11.8" height="11.53" fill="#74CAF0"/>
<rect x="343.9" y="255.64" width="11.8" height="12.08" fill="#EEA0EF"/>
<rect x="343.9" y="235.9" width="11.8" height="20.04" fill="#B4E1E8"/>
<rect x="355.4" y="297.17" width="11.8" height="0.73" fill="#D58094"/>
<rect x="355.4" y="293.28" width="11.8" height="4.19" fill="#A2AADA"/>
<rect x="355.4" y="285.38" width="11.8" height="8.2" fill="#E6CD37"/>
<rect x="355.4" y="256.88" width="11.8" height="28.81" fill="#B9DA87"/>
<rect x="355.4" y="250.71" width="11.8" height="6.47" fill="#74CAF0"/>
<rect x="355.4" y="248.36" width="11.8" height="2.64" fill="#EEA0EF"/>
<rect x="355.4" y="235.9" width="11.8" height="12.76" fill="#B4E1E8"/>
<rect x="373.7" y="296.86" width="11.8" height="1.04" fill="#D58094"/>
<rect x="373.7" y="294.39" width="11.8" height="2.77" fill="#A2AADA"/>
<rect x="373.7" y="288.78" width="11.8" height="5.91" fill="#E6CD37"/>
<rect x="373.7" y="280.94" width="11.8" height="8.14" fill="#B9DA87"/>
<rect x="373.7" y="271.38" width="11.8" height="9.86" fill="#74CAF0"/>
<rect x="373.7" y="261.26" width="11.8" height="10.42" fill="#EEA0EF"/>
<rect x="373.7" y="235.9" width="11.8" height="25.66" fill="#B4E1E8"/>
<rect x="385.2" y="296.86" width="11.8" height="1.04" fill="#D58094"/>
<rect x="385.2" y="294.39" width="11.8" height="2.77" fill="#A2AADA"/>
<rect x="385.2" y="291" width="11.8" height="3.69" fill="#E6CD37"/>
<rect x="385.2" y="284.83" width="11.8" height="6.47" fill="#B9DA87"/>
<rect x="385.2" y="270.27" width="11.8" height="14.86" fill="#74CAF0"/>
<rect x="385.2" y="256.88" width="11.8" height="13.69" fill="#EEA0EF"/>
<rect x="385.2" y="235.9" width="11.8" height="21.28" fill="#B4E1E8"/>
<rect x="396.7" y="296.86" width="11.8" height="1.04" fill="#D58094"/>
<rect x="396.7" y="292.66" width="11.8" height="4.5" fill="#A2AADA"/>
<rect x="396.7" y="283.72" width="11.8" height="9.25" fill="#E6CD37"/>
<rect x="396.7" y="263.05" width="11.8" height="20.97" fill="#B9DA87"/>
<rect x="396.7" y="254.53" width="11.8" height="8.81" fill="#74CAF0"/>
<rect x="396.7" y="248.92" width="11.8" height="5.91" fill="#EEA0EF"/>
<rect x="396.7" y="235.9" width="11.8" height="13.32" fill="#B4E1E8"/>
<rect x="408.2" y="296.86" width="11.8" height="1.04" fill="#D58094"/>
<rect x="408.2" y="293.28" width="11.8" height="3.88" fill="#A2AADA"/>
<rect x="408.2" y="282.05" width="11.8" height="11.53" fill="#E6CD37"/>
<rect x="408.2" y="260.7" width="11.8" height="21.65" fill="#B9DA87"/>
<rect x="408.2" y="250.09" width="11.8" height="10.91" fill="#74CAF0"/>
<rect x="408.2" y="247.81" width="11.8" height="2.58" fill="#EEA0EF"/>
<rect x="408.2" y="235.9" width="11.8" height="12.21" fill="#B4E1E8"/>
<rect x="419.7" y="296.86" width="11.8" height="1.04" fill="#D58094"/>
<rect x="419.7" y="294.39" width="11.8" height="2.77" fill="#A2AADA"/>
<rect x="419.7" y="285.38" width="11.8" height="9.31" fill="#E6CD37"/>
<rect x="419.7" y="259.59" width="11.8" height="26.09" fill="#B9DA87"/>
<rect x="419.7" y="253.98" width="11.8" height="5.91" fill="#74CAF0"/>
<rect x="419.7" y="250.71" width="11.8" height="3.57" fill="#EEA0EF"/>
<rect x="419.7" y="235.9" width="11.8" height="15.11" fill="#B4E1E8"/>
<rect x="438" y="296.61" width="11.8" height="1.29" fill="#D58094"/>
<rect x="438" y="294.39" width="11.8" height="2.52" fill="#A2AADA"/>
<rect x="438" y="289.89" width="11.8" height="4.8" fill="#E6CD37"/>
<rect x="438" y="254.53" width="11.8" height="35.65" fill="#B9DA87"/>
<rect x="438" y="251.76" width="11.8" height="3.08" fill="#74CAF0"/>
<rect x="438" y="247.81" width="11.8" height="4.25" fill="#EEA0EF"/>
<rect x="438" y="235.9" width="11.8" height="12.21" fill="#B4E1E8"/>
<rect x="449.5" y="296.61" width="11.8" height="1.29" fill="#D58094"/>
<rect x="449.5" y="294.39" width="11.8" height="2.52" fill="#A2AADA"/>
<rect x="449.5" y="290.44" width="11.8" height="4.25" fill="#E6CD37"/>
<rect x="449.5" y="259.04" width="11.8" height="31.71" fill="#B9DA87"/>
<rect x="449.5" y="253.98" width="11.8" height="5.36" fill="#74CAF0"/>
<rect x="449.5" y="248.36" width="11.8" height="5.91" fill="#EEA0EF"/>
<rect x="449.5" y="235.9" width="11.8" height="12.76" fill="#B4E1E8"/>
<rect x="461" y="296.61" width="11.8" height="1.29" fill="#D58094"/>
<rect x="461" y="294.39" width="11.8" height="2.52" fill="#A2AADA"/>
<rect x="461" y="290.44" width="11.8" height="4.25" fill="#E6CD37"/>
<rect x="461" y="256.88" width="11.8" height="33.86" fill="#B9DA87"/>
<rect x="461" y="247.25" width="11.8" height="9.93" fill="#74CAF0"/>
<rect x="461" y="246.14" width="11.8" height="1.41" fill="#EEA0EF"/>
<rect x="461" y="235.9" width="11.8" height="10.54" fill="#B4E1E8"/>
<rect x="472.5" y="296.61" width="11.8" height="1.29" fill="#D58094"/>
<rect x="472.5" y="294.39" width="11.8" height="2.52" fill="#A2AADA"/>
<rect x="472.5" y="288.78" width="11.8" height="5.91" fill="#E6CD37"/>
<rect x="472.5" y="264.1" width="11.8" height="24.98" fill="#B9DA87"/>
<rect x="472.5" y="255.09" width="11.8" height="9.31" fill="#74CAF0"/>
<rect x="472.5" y="247.81" width="11.8" height="7.58" fill="#EEA0EF"/>
<rect x="472.5" y="235.9" width="11.8" height="12.21" fill="#B4E1E8"/>
<rect x="484" y="296.61" width="11.8" height="1.29" fill="#D58094"/>
<rect x="484" y="293.9" width="11.8" height="3.01" fill="#A2AADA"/>
<rect x="484" y="283.16" width="11.8" height="11.04" fill="#E6CD37"/>
<rect x="484" y="271.38" width="11.8" height="12.08" fill="#B9DA87"/>
<rect x="484" y="258.48" width="11.8" height="13.2" fill="#74CAF0"/>
<rect x="484" y="249.47" width="11.8" height="9.31" fill="#EEA0EF"/>
<rect x="484" y="235.9" width="11.8" height="13.87" fill="#B4E1E8"/>
<text transform="translate(59.85,310.1) rotate(-90)" text-anchor="middle" font-size="7.6">RT</text>
<text transform="translate(71.35,310.1) rotate(-90)" text-anchor="middle" font-size="7.6">RTC</text>
<text transform="translate(82.85,310.1) rotate(-90)" text-anchor="middle" font-size="7.6">RTO</text>
<text transform="translate(94.35,310.1) rotate(-90)" text-anchor="middle" font-size="7.6">DT1O</text>
<text transform="translate(105.85,310.1) rotate(-90)" text-anchor="middle" font-size="7.6">DT2O</text>
<text x="80.95" y="335.7" text-anchor="middle" font-size="10">0612</text>
<text transform="translate(124.15,310.1) rotate(-90)" text-anchor="middle" font-size="7.6">RT</text>
<text transform="translate(135.65,310.1) rotate(-90)" text-anchor="middle" font-size="7.6">RTC</text>
<text transform="translate(147.15,310.1) rotate(-90)" text-anchor="middle" font-size="7.6">RTO</text>
<text transform="translate(158.65,310.1) rotate(-90)" text-anchor="middle" font-size="7.6">DT1O</text>
<text transform="translate(170.15,310.1) rotate(-90)" text-anchor="middle" font-size="7.6">DT2O</text>
<text x="145.25" y="335.7" text-anchor="middle" font-size="10">0702</text>
<text transform="translate(188.45,310.1) rotate(-90)" text-anchor="middle" font-size="7.6">RT</text>
<text transform="translate(199.95,310.1) rotate(-90)" text-anchor="middle" font-size="7.6">RTC</text>
<text transform="translate(211.45,310.1) rotate(-90)" text-anchor="middle" font-size="7.6">RTO</text>
<text transform="translate(222.95,310.1) rotate(-90)" text-anchor="middle" font-size="7.6">DT1O</text>
<text transform="translate(234.45,310.1) rotate(-90)" text-anchor="middle" font-size="7.6">DT2O</text>
<text x="209.55" y="335.7" text-anchor="middle" font-size="10">0722</text>
<text transform="translate(252.75,310.1) rotate(-90)" text-anchor="middle" font-size="7.6">RT</text>
<text transform="translate(264.25,310.1) rotate(-90)" text-anchor="middle" font-size="7.6">RTC</text>
<text transform="translate(275.75,310.1) rotate(-90)" text-anchor="middle" font-size="7.6">RTO</text>
<text transform="translate(287.25,310.1) rotate(-90)" text-anchor="middle" font-size="7.6">DT1O</text>
<text transform="translate(298.75,310.1) rotate(-90)" text-anchor="middle" font-size="7.6">DT2O</text>
<text x="273.85" y="335.7" text-anchor="middle" font-size="10">0811</text>
<text transform="translate(317.05,310.1) rotate(-90)" text-anchor="middle" font-size="7.6">RT</text>
<text transform="translate(328.55,310.1) rotate(-90)" text-anchor="middle" font-size="7.6">RTC</text>
<text transform="translate(340.05,310.1) rotate(-90)" text-anchor="middle" font-size="7.6">RTO</text>
<text transform="translate(351.55,310.1) rotate(-90)" text-anchor="middle" font-size="7.6">DT1O</text>
<text transform="translate(363.05,310.1) rotate(-90)" text-anchor="middle" font-size="7.6">DT2O</text>
<text x="338.15" y="335.7" text-anchor="middle" font-size="10">0831</text>
<text transform="translate(381.35,310.1) rotate(-90)" text-anchor="middle" font-size="7.6">RT</text>
<text transform="translate(392.85,310.1) rotate(-90)" text-anchor="middle" font-size="7.6">RTC</text>
<text transform="translate(404.35,310.1) rotate(-90)" text-anchor="middle" font-size="7.6">RTO</text>
<text transform="translate(415.85,310.1) rotate(-90)" text-anchor="middle" font-size="7.6">DT1O</text>
<text transform="translate(427.35,310.1) rotate(-90)" text-anchor="middle" font-size="7.6">DT2O</text>
<text x="402.45" y="335.7" text-anchor="middle" font-size="10">0920</text>
<text transform="translate(445.65,310.1) rotate(-90)" text-anchor="middle" font-size="7.6">RT</text>
<text transform="translate(457.15,310.1) rotate(-90)" text-anchor="middle" font-size="7.6">RTC</text>
<text transform="translate(468.65,310.1) rotate(-90)" text-anchor="middle" font-size="7.6">RTO</text>
<text transform="translate(480.15,310.1) rotate(-90)" text-anchor="middle" font-size="7.6">DT1O</text>
<text transform="translate(491.65,310.1) rotate(-90)" text-anchor="middle" font-size="7.6">DT2O</text>
<text x="466.75" y="335.7" text-anchor="middle" font-size="10">1010</text>
<line x1="48.5" y1="344.3" x2="48.5" y2="405.5" stroke="#4a4a4a" stroke-width="0.85"/>
<line x1="45" y1="405.5" x2="48.5" y2="405.5" stroke="#4a4a4a" stroke-width="0.85"/>
<text x="43" y="408.1" font-size="7.2" text-anchor="end">0</text>
<line x1="45" y1="393.26" x2="48.5" y2="393.26" stroke="#4a4a4a" stroke-width="0.85"/>
<text x="43" y="395.86" font-size="7.2" text-anchor="end">20</text>
<line x1="45" y1="381.02" x2="48.5" y2="381.02" stroke="#4a4a4a" stroke-width="0.85"/>
<text x="43" y="383.62" font-size="7.2" text-anchor="end">40</text>
<line x1="45" y1="368.78" x2="48.5" y2="368.78" stroke="#4a4a4a" stroke-width="0.85"/>
<text x="43" y="371.38" font-size="7.2" text-anchor="end">60</text>
<line x1="45" y1="356.54" x2="48.5" y2="356.54" stroke="#4a4a4a" stroke-width="0.85"/>
<text x="43" y="359.14" font-size="7.2" text-anchor="end">80</text>
<line x1="45" y1="344.3" x2="48.5" y2="344.3" stroke="#4a4a4a" stroke-width="0.85"/>
<text x="43" y="346.9" font-size="7.2" text-anchor="end">100</text>
<line x1="47" y1="399.38" x2="48.5" y2="399.38" stroke="#6a6a6a" stroke-width="0.6"/>
<line x1="47" y1="387.14" x2="48.5" y2="387.14" stroke="#6a6a6a" stroke-width="0.6"/>
<line x1="47" y1="374.9" x2="48.5" y2="374.9" stroke="#6a6a6a" stroke-width="0.6"/>
<line x1="47" y1="362.66" x2="48.5" y2="362.66" stroke="#6a6a6a" stroke-width="0.6"/>
<line x1="47" y1="350.42" x2="48.5" y2="350.42" stroke="#6a6a6a" stroke-width="0.6"/>
<text x="500" y="379.2" font-size="7.7">0–10 cm</text>
<rect x="52.2" y="381.39" width="11.8" height="24.41" fill="#D58094"/>
<rect x="52.2" y="373.06" width="11.8" height="8.62" fill="#A2AADA"/>
<rect x="52.2" y="367.56" width="11.8" height="5.81" fill="#E6CD37"/>
<rect x="52.2" y="351.95" width="11.8" height="15.91" fill="#B9DA87"/>
<rect x="52.2" y="349.2" width="11.8" height="3.05" fill="#74CAF0"/>
<rect x="52.2" y="347.48" width="11.8" height="2.01" fill="#EEA0EF"/>
<rect x="52.2" y="344.3" width="11.8" height="3.48" fill="#B4E1E8"/>
<rect x="63.7" y="402.01" width="11.8" height="3.79" fill="#D58094"/>
<rect x="63.7" y="392.53" width="11.8" height="9.79" fill="#A2AADA"/>
<rect x="63.7" y="371.96" width="11.8" height="20.86" fill="#E6CD37"/>
<rect x="63.7" y="352.5" width="11.8" height="19.76" fill="#B9DA87"/>
<rect x="63.7" y="350.79" width="11.8" height="2.01" fill="#74CAF0"/>
<rect x="63.7" y="348.58" width="11.8" height="2.5" fill="#EEA0EF"/>
<rect x="63.7" y="344.3" width="11.8" height="4.58" fill="#B4E1E8"/>
<rect x="75.2" y="399.2" width="11.8" height="6.6" fill="#D58094"/>
<rect x="75.2" y="392.04" width="11.8" height="7.46" fill="#A2AADA"/>
<rect x="75.2" y="375.82" width="11.8" height="16.52" fill="#E6CD37"/>
<rect x="75.2" y="359.17" width="11.8" height="16.95" fill="#B9DA87"/>
<rect x="75.2" y="353.05" width="11.8" height="6.42" fill="#74CAF0"/>
<rect x="75.2" y="350.79" width="11.8" height="2.56" fill="#EEA0EF"/>
<rect x="75.2" y="344.3" width="11.8" height="6.79" fill="#B4E1E8"/>
<rect x="86.7" y="386.96" width="11.8" height="18.84" fill="#D58094"/>
<rect x="86.7" y="381.94" width="11.8" height="5.32" fill="#A2AADA"/>
<rect x="86.7" y="368.17" width="11.8" height="14.07" fill="#E6CD37"/>
<rect x="86.7" y="351.95" width="11.8" height="16.52" fill="#B9DA87"/>
<rect x="86.7" y="349.2" width="11.8" height="3.05" fill="#74CAF0"/>
<rect x="86.7" y="347.48" width="11.8" height="2.01" fill="#EEA0EF"/>
<rect x="86.7" y="344.3" width="11.8" height="3.48" fill="#B4E1E8"/>
<rect x="98.2" y="379.8" width="11.8" height="26" fill="#D58094"/>
<rect x="98.2" y="375.82" width="11.8" height="4.28" fill="#A2AADA"/>
<rect x="98.2" y="367.56" width="11.8" height="8.56" fill="#E6CD37"/>
<rect x="98.2" y="351.95" width="11.8" height="15.91" fill="#B9DA87"/>
<rect x="98.2" y="349.69" width="11.8" height="2.56" fill="#74CAF0"/>
<rect x="98.2" y="347.97" width="11.8" height="2.01" fill="#EEA0EF"/>
<rect x="98.2" y="344.3" width="11.8" height="3.97" fill="#B4E1E8"/>
<rect x="116.5" y="391.42" width="11.8" height="14.38" fill="#D58094"/>
<rect x="116.5" y="383.1" width="11.8" height="8.62" fill="#A2AADA"/>
<rect x="116.5" y="373.06" width="11.8" height="10.34" fill="#E6CD37"/>
<rect x="116.5" y="351.95" width="11.8" height="21.41" fill="#B9DA87"/>
<rect x="116.5" y="349.69" width="11.8" height="2.56" fill="#74CAF0"/>
<rect x="116.5" y="347.97" width="11.8" height="2.01" fill="#EEA0EF"/>
<rect x="116.5" y="344.3" width="11.8" height="3.97" fill="#B4E1E8"/>
<rect x="128" y="384.69" width="11.8" height="21.11" fill="#D58094"/>
<rect x="128" y="376.43" width="11.8" height="8.56" fill="#A2AADA"/>
<rect x="128" y="368.6" width="11.8" height="8.13" fill="#E6CD37"/>
<rect x="128" y="351.34" width="11.8" height="17.56" fill="#B9DA87"/>
<rect x="128" y="349.69" width="11.8" height="1.95" fill="#74CAF0"/>
<rect x="128" y="347.97" width="11.8" height="2.01" fill="#EEA0EF"/>
<rect x="128" y="344.3" width="11.8" height="3.97" fill="#B4E1E8"/>
<rect x="139.5" y="391.42" width="11.8" height="14.38" fill="#D58094"/>
<rect x="139.5" y="381.94" width="11.8" height="9.79" fill="#A2AADA"/>
<rect x="139.5" y="374.72" width="11.8" height="7.52" fill="#E6CD37"/>
<rect x="139.5" y="351.95" width="11.8" height="23.07" fill="#B9DA87"/>
<rect x="139.5" y="349.69" width="11.8" height="2.56" fill="#74CAF0"/>
<rect x="139.5" y="347.97" width="11.8" height="2.01" fill="#EEA0EF"/>
<rect x="139.5" y="344.3" width="11.8" height="3.97" fill="#B4E1E8"/>
<rect x="151" y="371.96" width="11.8" height="33.84" fill="#D58094"/>
<rect x="151" y="370.31" width="11.8" height="1.95" fill="#A2AADA"/>
<rect x="151" y="364.19" width="11.8" height="6.42" fill="#E6CD37"/>
<rect x="151" y="349.69" width="11.8" height="14.8" fill="#B9DA87"/>
<rect x="151" y="347.97" width="11.8" height="2.01" fill="#74CAF0"/>
<rect x="151" y="346.93" width="11.8" height="1.34" fill="#EEA0EF"/>
<rect x="151" y="344.3" width="11.8" height="2.93" fill="#B4E1E8"/>
<rect x="162.5" y="375.82" width="11.8" height="29.98" fill="#D58094"/>
<rect x="162.5" y="371.96" width="11.8" height="4.16" fill="#A2AADA"/>
<rect x="162.5" y="366.33" width="11.8" height="5.93" fill="#E6CD37"/>
<rect x="162.5" y="350.79" width="11.8" height="15.84" fill="#B9DA87"/>
<rect x="162.5" y="349.2" width="11.8" height="1.89" fill="#74CAF0"/>
<rect x="162.5" y="347.48" width="11.8" height="2.01" fill="#EEA0EF"/>
<rect x="162.5" y="344.3" width="11.8" height="3.48" fill="#B4E1E8"/>
<rect x="180.8" y="374.72" width="11.8" height="31.08" fill="#D58094"/>
<rect x="180.8" y="370.31" width="11.8" height="4.71" fill="#A2AADA"/>
<rect x="180.8" y="364.74" width="11.8" height="5.87" fill="#E6CD37"/>
<rect x="180.8" y="350.79" width="11.8" height="14.25" fill="#B9DA87"/>
<rect x="180.8" y="349.2" width="11.8" height="1.89" fill="#74CAF0"/>
<rect x="180.8" y="347.48" width="11.8" height="2.01" fill="#EEA0EF"/>
<rect x="180.8" y="344.3" width="11.8" height="3.48" fill="#B4E1E8"/>
<rect x="192.3" y="396.44" width="11.8" height="9.36" fill="#D58094"/>
<rect x="192.3" y="387.51" width="11.8" height="9.24" fill="#A2AADA"/>
<rect x="192.3" y="375.27" width="11.8" height="12.54" fill="#E6CD37"/>
<rect x="192.3" y="351.95" width="11.8" height="23.62" fill="#B9DA87"/>
<rect x="192.3" y="350.24" width="11.8" height="2.01" fill="#74CAF0"/>
<rect x="192.3" y="348.58" width="11.8" height="1.95" fill="#EEA0EF"/>
<rect x="192.3" y="344.3" width="11.8" height="4.58" fill="#B4E1E8"/>
<rect x="203.8" y="392.04" width="11.8" height="13.76" fill="#D58094"/>
<rect x="203.8" y="386.41" width="11.8" height="5.93" fill="#A2AADA"/>
<rect x="203.8" y="375.82" width="11.8" height="10.89" fill="#E6CD37"/>
<rect x="203.8" y="351.95" width="11.8" height="24.17" fill="#B9DA87"/>
<rect x="203.8" y="350.24" width="11.8" height="2.01" fill="#74CAF0"/>
<rect x="203.8" y="348.58" width="11.8" height="1.95" fill="#EEA0EF"/>
<rect x="203.8" y="344.3" width="11.8" height="4.58" fill="#B4E1E8"/>
<rect x="215.3" y="367.56" width="11.8" height="38.24" fill="#D58094"/>
<rect x="215.3" y="366.33" width="11.8" height="1.52" fill="#A2AADA"/>
<rect x="215.3" y="363.03" width="11.8" height="3.6" fill="#E6CD37"/>
<rect x="215.3" y="350.79" width="11.8" height="12.54" fill="#B9DA87"/>
<rect x="215.3" y="349.2" width="11.8" height="1.89" fill="#74CAF0"/>
<rect x="215.3" y="347.48" width="11.8" height="2.01" fill="#EEA0EF"/>
<rect x="215.3" y="344.3" width="11.8" height="3.48" fill="#B4E1E8"/>
<rect x="226.8" y="378.08" width="11.8" height="27.72" fill="#D58094"/>
<rect x="226.8" y="373.68" width="11.8" height="4.71" fill="#A2AADA"/>
<rect x="226.8" y="365.84" width="11.8" height="8.13" fill="#E6CD37"/>
<rect x="226.8" y="350.79" width="11.8" height="15.36" fill="#B9DA87"/>
<rect x="226.8" y="349.2" width="11.8" height="1.89" fill="#74CAF0"/>
<rect x="226.8" y="347.48" width="11.8" height="2.01" fill="#EEA0EF"/>
<rect x="226.8" y="344.3" width="11.8" height="3.48" fill="#B4E1E8"/>
<rect x="245.1" y="396.93" width="11.8" height="8.87" fill="#D58094"/>
<rect x="245.1" y="390.32" width="11.8" height="6.91" fill="#A2AADA"/>
<rect x="245.1" y="378.08" width="11.8" height="12.54" fill="#E6CD37"/>
<rect x="245.1" y="354.09" width="11.8" height="24.29" fill="#B9DA87"/>
<rect x="245.1" y="353.05" width="11.8" height="1.34" fill="#74CAF0"/>
<rect x="245.1" y="350.24" width="11.8" height="3.12" fill="#EEA0EF"/>
<rect x="245.1" y="344.3" width="11.8" height="6.24" fill="#B4E1E8"/>
<rect x="256.6" y="396.93" width="11.8" height="8.87" fill="#D58094"/>
<rect x="256.6" y="388.67" width="11.8" height="8.56" fill="#A2AADA"/>
<rect x="256.6" y="376.43" width="11.8" height="12.54" fill="#E6CD37"/>
<rect x="256.6" y="354.09" width="11.8" height="22.64" fill="#B9DA87"/>
<rect x="256.6" y="353.05" width="11.8" height="1.34" fill="#74CAF0"/>
<rect x="256.6" y="350.79" width="11.8" height="2.56" fill="#EEA0EF"/>
<rect x="256.6" y="344.3" width="11.8" height="6.79" fill="#B4E1E8"/>
<rect x="268.1" y="384.2" width="11.8" height="21.6" fill="#D58094"/>
<rect x="268.1" y="378.63" width="11.8" height="5.87" fill="#A2AADA"/>
<rect x="268.1" y="369.7" width="11.8" height="9.24" fill="#E6CD37"/>
<rect x="268.1" y="353.05" width="11.8" height="16.95" fill="#B9DA87"/>
<rect x="268.1" y="351.95" width="11.8" height="1.4" fill="#74CAF0"/>
<rect x="268.1" y="349.69" width="11.8" height="2.56" fill="#EEA0EF"/>
<rect x="268.1" y="344.3" width="11.8" height="5.69" fill="#B4E1E8"/>
<rect x="279.6" y="384.69" width="11.8" height="21.11" fill="#D58094"/>
<rect x="279.6" y="379.8" width="11.8" height="5.2" fill="#A2AADA"/>
<rect x="279.6" y="370.86" width="11.8" height="9.24" fill="#E6CD37"/>
<rect x="279.6" y="356.36" width="11.8" height="14.8" fill="#B9DA87"/>
<rect x="279.6" y="353.6" width="11.8" height="3.05" fill="#74CAF0"/>
<rect x="279.6" y="350.24" width="11.8" height="3.67" fill="#EEA0EF"/>
<rect x="279.6" y="344.3" width="11.8" height="6.24" fill="#B4E1E8"/>
<rect x="291.1" y="385.3" width="11.8" height="20.5" fill="#D58094"/>
<rect x="291.1" y="380.29" width="11.8" height="5.32" fill="#A2AADA"/>
<rect x="291.1" y="369.7" width="11.8" height="10.89" fill="#E6CD37"/>
<rect x="291.1" y="355.81" width="11.8" height="14.19" fill="#B9DA87"/>
<rect x="291.1" y="353.6" width="11.8" height="2.5" fill="#74CAF0"/>
<rect x="291.1" y="350.24" width="11.8" height="3.67" fill="#EEA0EF"/>
<rect x="291.1" y="344.3" width="11.8" height="6.24" fill="#B4E1E8"/>
<rect x="309.4" y="374.72" width="11.8" height="31.08" fill="#D58094"/>
<rect x="309.4" y="371.96" width="11.8" height="3.05" fill="#A2AADA"/>
<rect x="309.4" y="368.05" width="11.8" height="4.22" fill="#E6CD37"/>
<rect x="309.4" y="356.91" width="11.8" height="11.44" fill="#B9DA87"/>
<rect x="309.4" y="351.95" width="11.8" height="5.26" fill="#74CAF0"/>
<rect x="309.4" y="349.69" width="11.8" height="2.56" fill="#EEA0EF"/>
<rect x="309.4" y="344.3" width="11.8" height="5.69" fill="#B4E1E8"/>
<rect x="320.9" y="390.32" width="11.8" height="15.48" fill="#D58094"/>
<rect x="320.9" y="383.1" width="11.8" height="7.52" fill="#A2AADA"/>
<rect x="320.9" y="375.82" width="11.8" height="7.58" fill="#E6CD37"/>
<rect x="320.9" y="357.46" width="11.8" height="18.66" fill="#B9DA87"/>
<rect x="320.9" y="353.6" width="11.8" height="4.16" fill="#74CAF0"/>
<rect x="320.9" y="351.95" width="11.8" height="1.95" fill="#EEA0EF"/>
<rect x="320.9" y="344.3" width="11.8" height="7.95" fill="#B4E1E8"/>
<rect x="332.4" y="398.16" width="11.8" height="7.64" fill="#D58094"/>
<rect x="332.4" y="393.63" width="11.8" height="4.83" fill="#A2AADA"/>
<rect x="332.4" y="383.1" width="11.8" height="10.83" fill="#E6CD37"/>
<rect x="332.4" y="356.91" width="11.8" height="26.49" fill="#B9DA87"/>
<rect x="332.4" y="354.7" width="11.8" height="2.5" fill="#74CAF0"/>
<rect x="332.4" y="351.95" width="11.8" height="3.05" fill="#EEA0EF"/>
<rect x="332.4" y="344.3" width="11.8" height="7.95" fill="#B4E1E8"/>
<rect x="343.9" y="390.81" width="11.8" height="14.99" fill="#D58094"/>
<rect x="343.9" y="385.92" width="11.8" height="5.2" fill="#A2AADA"/>
<rect x="343.9" y="379.18" width="11.8" height="7.03" fill="#E6CD37"/>
<rect x="343.9" y="361.44" width="11.8" height="18.05" fill="#B9DA87"/>
<rect x="343.9" y="355.81" width="11.8" height="5.93" fill="#74CAF0"/>
<rect x="343.9" y="352.5" width="11.8" height="3.6" fill="#EEA0EF"/>
<rect x="343.9" y="344.3" width="11.8" height="8.5" fill="#B4E1E8"/>
<rect x="355.4" y="387.51" width="11.8" height="18.29" fill="#D58094"/>
<rect x="355.4" y="381.39" width="11.8" height="6.42" fill="#A2AADA"/>
<rect x="355.4" y="374.72" width="11.8" height="6.97" fill="#E6CD37"/>
<rect x="355.4" y="356.91" width="11.8" height="18.11" fill="#B9DA87"/>
<rect x="355.4" y="353.6" width="11.8" height="3.6" fill="#74CAF0"/>
<rect x="355.4" y="351.34" width="11.8" height="2.56" fill="#EEA0EF"/>
<rect x="355.4" y="344.3" width="11.8" height="7.34" fill="#B4E1E8"/>
<rect x="373.7" y="402.01" width="11.8" height="3.79" fill="#D58094"/>
<rect x="373.7" y="395.89" width="11.8" height="6.42" fill="#A2AADA"/>
<rect x="373.7" y="383.65" width="11.8" height="12.54" fill="#E6CD37"/>
<rect x="373.7" y="356.91" width="11.8" height="27.04" fill="#B9DA87"/>
<rect x="373.7" y="351.95" width="11.8" height="5.26" fill="#74CAF0"/>
<rect x="373.7" y="349.69" width="11.8" height="2.56" fill="#EEA0EF"/>
<rect x="373.7" y="344.3" width="11.8" height="5.69" fill="#B4E1E8"/>
<rect x="385.2" y="384.69" width="11.8" height="21.11" fill="#D58094"/>
<rect x="385.2" y="379.8" width="11.8" height="5.2" fill="#A2AADA"/>
<rect x="385.2" y="375.82" width="11.8" height="4.28" fill="#E6CD37"/>
<rect x="385.2" y="357.46" width="11.8" height="18.66" fill="#B9DA87"/>
<rect x="385.2" y="355.32" width="11.8" height="2.44" fill="#74CAF0"/>
<rect x="385.2" y="351.34" width="11.8" height="4.28" fill="#EEA0EF"/>
<rect x="385.2" y="344.3" width="11.8" height="7.34" fill="#B4E1E8"/>
<rect x="396.7" y="399.2" width="11.8" height="6.6" fill="#D58094"/>
<rect x="396.7" y="393.63" width="11.8" height="5.87" fill="#A2AADA"/>
<rect x="396.7" y="380.29" width="11.8" height="13.64" fill="#E6CD37"/>
<rect x="396.7" y="364.19" width="11.8" height="16.4" fill="#B9DA87"/>
<rect x="396.7" y="358.07" width="11.8" height="6.42" fill="#74CAF0"/>
<rect x="396.7" y="353.05" width="11.8" height="5.32" fill="#EEA0EF"/>
<rect x="396.7" y="344.3" width="11.8" height="9.05" fill="#B4E1E8"/>
<rect x="408.2" y="395.89" width="11.8" height="9.91" fill="#D58094"/>
<rect x="408.2" y="388.06" width="11.8" height="8.13" fill="#A2AADA"/>
<rect x="408.2" y="381.39" width="11.8" height="6.97" fill="#E6CD37"/>
<rect x="408.2" y="359.17" width="11.8" height="22.52" fill="#B9DA87"/>
<rect x="408.2" y="356.91" width="11.8" height="2.56" fill="#74CAF0"/>
<rect x="408.2" y="352.5" width="11.8" height="4.71" fill="#EEA0EF"/>
<rect x="408.2" y="344.3" width="11.8" height="8.5" fill="#B4E1E8"/>
<rect x="419.7" y="390.32" width="11.8" height="15.48" fill="#D58094"/>
<rect x="419.7" y="387.51" width="11.8" height="3.12" fill="#A2AADA"/>
<rect x="419.7" y="381.39" width="11.8" height="6.42" fill="#E6CD37"/>
<rect x="419.7" y="364.19" width="11.8" height="17.5" fill="#B9DA87"/>
<rect x="419.7" y="358.07" width="11.8" height="6.42" fill="#74CAF0"/>
<rect x="419.7" y="352.5" width="11.8" height="5.87" fill="#EEA0EF"/>
<rect x="419.7" y="344.3" width="11.8" height="8.5" fill="#B4E1E8"/>
<rect x="438" y="395.34" width="11.8" height="10.46" fill="#D58094"/>
<rect x="438" y="389.22" width="11.8" height="6.42" fill="#A2AADA"/>
<rect x="438" y="377.53" width="11.8" height="11.99" fill="#E6CD37"/>
<rect x="438" y="361.93" width="11.8" height="15.91" fill="#B9DA87"/>
<rect x="438" y="357.46" width="11.8" height="4.77" fill="#74CAF0"/>
<rect x="438" y="354.09" width="11.8" height="3.67" fill="#EEA0EF"/>
<rect x="438" y="344.3" width="11.8" height="10.09" fill="#B4E1E8"/>
<rect x="449.5" y="395.34" width="11.8" height="10.46" fill="#D58094"/>
<rect x="449.5" y="385.3" width="11.8" height="10.34" fill="#A2AADA"/>
<rect x="449.5" y="370.86" width="11.8" height="14.74" fill="#E6CD37"/>
<rect x="449.5" y="353.05" width="11.8" height="18.11" fill="#B9DA87"/>
<rect x="449.5" y="351.95" width="11.8" height="1.4" fill="#74CAF0"/>
<rect x="449.5" y="350.24" width="11.8" height="2.01" fill="#EEA0EF"/>
<rect x="449.5" y="344.3" width="11.8" height="6.24" fill="#B4E1E8"/>
<rect x="461" y="391.42" width="11.8" height="14.38" fill="#D58094"/>
<rect x="461" y="384.69" width="11.8" height="7.03" fill="#A2AADA"/>
<rect x="461" y="372.64" width="11.8" height="12.36" fill="#E6CD37"/>
<rect x="461" y="356.91" width="11.8" height="16.03" fill="#B9DA87"/>
<rect x="461" y="353.6" width="11.8" height="3.6" fill="#74CAF0"/>
<rect x="461" y="351.95" width="11.8" height="1.95" fill="#EEA0EF"/>
<rect x="461" y="344.3" width="11.8" height="7.95" fill="#B4E1E8"/>
<rect x="472.5" y="393.63" width="11.8" height="12.17" fill="#D58094"/>
<rect x="472.5" y="387.51" width="11.8" height="6.42" fill="#A2AADA"/>
<rect x="472.5" y="377.53" width="11.8" height="10.28" fill="#E6CD37"/>
<rect x="472.5" y="359.17" width="11.8" height="18.66" fill="#B9DA87"/>
<rect x="472.5" y="356.91" width="11.8" height="2.56" fill="#74CAF0"/>
<rect x="472.5" y="354.7" width="11.8" height="2.5" fill="#EEA0EF"/>
<rect x="472.5" y="344.3" width="11.8" height="10.7" fill="#B4E1E8"/>
<rect x="484" y="387.51" width="11.8" height="18.29" fill="#D58094"/>
<rect x="484" y="382.55" width="11.8" height="5.26" fill="#A2AADA"/>
<rect x="484" y="377.53" width="11.8" height="5.32" fill="#E6CD37"/>
<rect x="484" y="356.91" width="11.8" height="20.92" fill="#B9DA87"/>
<rect x="484" y="352.5" width="11.8" height="4.71" fill="#74CAF0"/>
<rect x="484" y="350.79" width="11.8" height="2.01" fill="#EEA0EF"/>
<rect x="484" y="344.3" width="11.8" height="6.79" fill="#B4E1E8"/>
<line x1="48.5" y1="412.45" x2="48.5" y2="473.65" stroke="#4a4a4a" stroke-width="0.85"/>
<line x1="45" y1="473.65" x2="48.5" y2="473.65" stroke="#4a4a4a" stroke-width="0.85"/>
<text x="43" y="476.25" font-size="7.2" text-anchor="end">0</text>
<line x1="45" y1="461.41" x2="48.5" y2="461.41" stroke="#4a4a4a" stroke-width="0.85"/>
<text x="43" y="464.01" font-size="7.2" text-anchor="end">20</text>
<line x1="45" y1="449.17" x2="48.5" y2="449.17" stroke="#4a4a4a" stroke-width="0.85"/>
<text x="43" y="451.77" font-size="7.2" text-anchor="end">40</text>
<line x1="45" y1="436.93" x2="48.5" y2="436.93" stroke="#4a4a4a" stroke-width="0.85"/>
<text x="43" y="439.53" font-size="7.2" text-anchor="end">60</text>
<line x1="45" y1="424.69" x2="48.5" y2="424.69" stroke="#4a4a4a" stroke-width="0.85"/>
<text x="43" y="427.29" font-size="7.2" text-anchor="end">80</text>
<line x1="45" y1="412.45" x2="48.5" y2="412.45" stroke="#4a4a4a" stroke-width="0.85"/>
<text x="43" y="415.05" font-size="7.2" text-anchor="end">100</text>
<line x1="47" y1="467.53" x2="48.5" y2="467.53" stroke="#6a6a6a" stroke-width="0.6"/>
<line x1="47" y1="455.29" x2="48.5" y2="455.29" stroke="#6a6a6a" stroke-width="0.6"/>
<line x1="47" y1="443.05" x2="48.5" y2="443.05" stroke="#6a6a6a" stroke-width="0.6"/>
<line x1="47" y1="430.81" x2="48.5" y2="430.81" stroke="#6a6a6a" stroke-width="0.6"/>
<line x1="47" y1="418.57" x2="48.5" y2="418.57" stroke="#6a6a6a" stroke-width="0.6"/>
<text x="500" y="446.9" font-size="7.7">10–20 cm</text>
<rect x="52.2" y="469.37" width="11.8" height="4.58" fill="#D58094"/>
<rect x="52.2" y="458.23" width="11.8" height="11.44" fill="#A2AADA"/>
<rect x="52.2" y="441.52" width="11.8" height="17.01" fill="#E6CD37"/>
<rect x="52.2" y="424.26" width="11.8" height="17.56" fill="#B9DA87"/>
<rect x="52.2" y="422.61" width="11.8" height="1.95" fill="#74CAF0"/>
<rect x="52.2" y="419.79" width="11.8" height="3.12" fill="#EEA0EF"/>
<rect x="52.2" y="412.45" width="11.8" height="7.64" fill="#B4E1E8"/>
<rect x="63.7" y="461.53" width="11.8" height="12.42" fill="#D58094"/>
<rect x="63.7" y="456.51" width="11.8" height="5.32" fill="#A2AADA"/>
<rect x="63.7" y="446.54" width="11.8" height="10.28" fill="#E6CD37"/>
<rect x="63.7" y="427.63" width="11.8" height="19.21" fill="#B9DA87"/>
<rect x="63.7" y="423.71" width="11.8" height="4.22" fill="#74CAF0"/>
<rect x="63.7" y="419.79" width="11.8" height="4.22" fill="#EEA0EF"/>
<rect x="63.7" y="412.45" width="11.8" height="7.64" fill="#B4E1E8"/>
<rect x="75.2" y="435.4" width="11.8" height="38.55" fill="#D58094"/>
<rect x="75.2" y="434.3" width="11.8" height="1.4" fill="#A2AADA"/>
<rect x="75.2" y="427.63" width="11.8" height="6.97" fill="#E6CD37"/>
<rect x="75.2" y="419.79" width="11.8" height="8.13" fill="#B9DA87"/>
<rect x="75.2" y="417.59" width="11.8" height="2.5" fill="#74CAF0"/>
<rect x="75.2" y="415.39" width="11.8" height="2.5" fill="#EEA0EF"/>
<rect x="75.2" y="412.45" width="11.8" height="3.24" fill="#B4E1E8"/>
<rect x="86.7" y="449.29" width="11.8" height="24.66" fill="#D58094"/>
<rect x="86.7" y="444.27" width="11.8" height="5.32" fill="#A2AADA"/>
<rect x="86.7" y="435.4" width="11.8" height="9.17" fill="#E6CD37"/>
<rect x="86.7" y="423.71" width="11.8" height="11.99" fill="#B9DA87"/>
<rect x="86.7" y="419.24" width="11.8" height="4.77" fill="#74CAF0"/>
<rect x="86.7" y="416.49" width="11.8" height="3.05" fill="#EEA0EF"/>
<rect x="86.7" y="412.45" width="11.8" height="4.34" fill="#B4E1E8"/>
<rect x="98.2" y="441.52" width="11.8" height="32.43" fill="#D58094"/>
<rect x="98.2" y="437.05" width="11.8" height="4.77" fill="#A2AADA"/>
<rect x="98.2" y="431.48" width="11.8" height="5.87" fill="#E6CD37"/>
<rect x="98.2" y="423.16" width="11.8" height="8.62" fill="#B9DA87"/>
<rect x="98.2" y="418.14" width="11.8" height="5.32" fill="#74CAF0"/>
<rect x="98.2" y="415.94" width="11.8" height="2.5" fill="#EEA0EF"/>
<rect x="98.2" y="412.45" width="11.8" height="3.79" fill="#B4E1E8"/>
<rect x="116.5" y="448.19" width="11.8" height="25.76" fill="#D58094"/>
<rect x="116.5" y="443.72" width="11.8" height="4.77" fill="#A2AADA"/>
<rect x="116.5" y="435.4" width="11.8" height="8.62" fill="#E6CD37"/>
<rect x="116.5" y="421.51" width="11.8" height="14.19" fill="#B9DA87"/>
<rect x="116.5" y="419.79" width="11.8" height="2.01" fill="#74CAF0"/>
<rect x="116.5" y="417.59" width="11.8" height="2.5" fill="#EEA0EF"/>
<rect x="116.5" y="412.45" width="11.8" height="5.44" fill="#B4E1E8"/>
<rect x="128" y="458.23" width="11.8" height="15.72" fill="#D58094"/>
<rect x="128" y="451.62" width="11.8" height="6.91" fill="#A2AADA"/>
<rect x="128" y="441.52" width="11.8" height="10.4" fill="#E6CD37"/>
<rect x="128" y="421.51" width="11.8" height="20.31" fill="#B9DA87"/>
<rect x="128" y="419.79" width="11.8" height="2.01" fill="#74CAF0"/>
<rect x="128" y="417.59" width="11.8" height="2.5" fill="#EEA0EF"/>
<rect x="128" y="412.45" width="11.8" height="5.44" fill="#B4E1E8"/>
<rect x="139.5" y="443.72" width="11.8" height="30.23" fill="#D58094"/>
<rect x="139.5" y="438.15" width="11.8" height="5.87" fill="#A2AADA"/>
<rect x="139.5" y="432.03" width="11.8" height="6.42" fill="#E6CD37"/>
<rect x="139.5" y="421.02" width="11.8" height="11.32" fill="#B9DA87"/>
<rect x="139.5" y="419.79" width="11.8" height="1.52" fill="#74CAF0"/>
<rect x="139.5" y="417.59" width="11.8" height="2.5" fill="#EEA0EF"/>
<rect x="139.5" y="412.45" width="11.8" height="5.44" fill="#B4E1E8"/>
<rect x="151" y="437.05" width="11.8" height="36.9" fill="#D58094"/>
<rect x="151" y="435.4" width="11.8" height="1.95" fill="#A2AADA"/>
<rect x="151" y="432.65" width="11.8" height="3.05" fill="#E6CD37"/>
<rect x="151" y="422.06" width="11.8" height="10.89" fill="#B9DA87"/>
<rect x="151" y="419.79" width="11.8" height="2.56" fill="#74CAF0"/>
<rect x="151" y="417.04" width="11.8" height="3.05" fill="#EEA0EF"/>
<rect x="151" y="412.45" width="11.8" height="4.89" fill="#B4E1E8"/>
<rect x="162.5" y="438.15" width="11.8" height="35.8" fill="#D58094"/>
<rect x="162.5" y="436.5" width="11.8" height="1.95" fill="#A2AADA"/>
<rect x="162.5" y="433.26" width="11.8" height="3.54" fill="#E6CD37"/>
<rect x="162.5" y="422.06" width="11.8" height="11.5" fill="#B9DA87"/>
<rect x="162.5" y="419.79" width="11.8" height="2.56" fill="#74CAF0"/>
<rect x="162.5" y="417.04" width="11.8" height="3.05" fill="#EEA0EF"/>
<rect x="162.5" y="412.45" width="11.8" height="4.89" fill="#B4E1E8"/>
<rect x="180.8" y="432.65" width="11.8" height="41.3" fill="#D58094"/>
<rect x="180.8" y="430.93" width="11.8" height="2.01" fill="#A2AADA"/>
<rect x="180.8" y="427.63" width="11.8" height="3.6" fill="#E6CD37"/>
<rect x="180.8" y="417.59" width="11.8" height="10.34" fill="#B9DA87"/>
<rect x="180.8" y="416.49" width="11.8" height="1.4" fill="#74CAF0"/>
<rect x="180.8" y="415.39" width="11.8" height="1.4" fill="#EEA0EF"/>
<rect x="180.8" y="412.45" width="11.8" height="3.24" fill="#B4E1E8"/>
<rect x="192.3" y="455.41" width="11.8" height="18.54" fill="#D58094"/>
<rect x="192.3" y="452.11" width="11.8" height="3.6" fill="#A2AADA"/>
<rect x="192.3" y="446.54" width="11.8" height="5.87" fill="#E6CD37"/>
<rect x="192.3" y="424.81" width="11.8" height="22.03" fill="#B9DA87"/>
<rect x="192.3" y="419.79" width="11.8" height="5.32" fill="#74CAF0"/>
<rect x="192.3" y="418.14" width="11.8" height="1.95" fill="#EEA0EF"/>
<rect x="192.3" y="412.45" width="11.8" height="5.99" fill="#B4E1E8"/>
<rect x="203.8" y="429.83" width="11.8" height="44.12" fill="#D58094"/>
<rect x="203.8" y="428.73" width="11.8" height="1.4" fill="#A2AADA"/>
<rect x="203.8" y="424.26" width="11.8" height="4.77" fill="#E6CD37"/>
<rect x="203.8" y="417.59" width="11.8" height="6.97" fill="#B9DA87"/>
<rect x="203.8" y="415.94" width="11.8" height="1.95" fill="#74CAF0"/>
<rect x="203.8" y="414.9" width="11.8" height="1.34" fill="#EEA0EF"/>
<rect x="203.8" y="412.45" width="11.8" height="2.75" fill="#B4E1E8"/>
<rect x="215.3" y="429.83" width="11.8" height="44.12" fill="#D58094"/>
<rect x="215.3" y="428.18" width="11.8" height="1.95" fill="#A2AADA"/>
<rect x="215.3" y="424.81" width="11.8" height="3.67" fill="#E6CD37"/>
<rect x="215.3" y="417.59" width="11.8" height="7.52" fill="#B9DA87"/>
<rect x="215.3" y="415.94" width="11.8" height="1.95" fill="#74CAF0"/>
<rect x="215.3" y="414.9" width="11.8" height="1.34" fill="#EEA0EF"/>
<rect x="215.3" y="412.45" width="11.8" height="2.75" fill="#B4E1E8"/>
<rect x="226.8" y="431.48" width="11.8" height="42.47" fill="#D58094"/>
<rect x="226.8" y="430.38" width="11.8" height="1.4" fill="#A2AADA"/>
<rect x="226.8" y="428.73" width="11.8" height="1.95" fill="#E6CD37"/>
<rect x="226.8" y="418.69" width="11.8" height="10.34" fill="#B9DA87"/>
<rect x="226.8" y="417.04" width="11.8" height="1.95" fill="#74CAF0"/>
<rect x="226.8" y="415.39" width="11.8" height="1.95" fill="#EEA0EF"/>
<rect x="226.8" y="412.45" width="11.8" height="3.24" fill="#B4E1E8"/>
<rect x="245.1" y="434.85" width="11.8" height="39.1" fill="#D58094"/>
<rect x="245.1" y="433.26" width="11.8" height="1.89" fill="#A2AADA"/>
<rect x="245.1" y="425.91" width="11.8" height="7.64" fill="#E6CD37"/>
<rect x="245.1" y="419.24" width="11.8" height="6.97" fill="#B9DA87"/>
<rect x="245.1" y="417.59" width="11.8" height="1.95" fill="#74CAF0"/>
<rect x="245.1" y="415.94" width="11.8" height="1.95" fill="#EEA0EF"/>
<rect x="245.1" y="412.45" width="11.8" height="3.79" fill="#B4E1E8"/>
<rect x="256.6" y="439.38" width="11.8" height="34.57" fill="#D58094"/>
<rect x="256.6" y="437.6" width="11.8" height="2.07" fill="#A2AADA"/>
<rect x="256.6" y="431.48" width="11.8" height="6.42" fill="#E6CD37"/>
<rect x="256.6" y="418.69" width="11.8" height="13.09" fill="#B9DA87"/>
<rect x="256.6" y="417.59" width="11.8" height="1.4" fill="#74CAF0"/>
<rect x="256.6" y="415.94" width="11.8" height="1.95" fill="#EEA0EF"/>
<rect x="256.6" y="412.45" width="11.8" height="3.79" fill="#B4E1E8"/>
<rect x="268.1" y="434.85" width="11.8" height="39.1" fill="#D58094"/>
<rect x="268.1" y="432.65" width="11.8" height="2.5" fill="#A2AADA"/>
<rect x="268.1" y="427.14" width="11.8" height="5.81" fill="#E6CD37"/>
<rect x="268.1" y="419.79" width="11.8" height="7.64" fill="#B9DA87"/>
<rect x="268.1" y="417.59" width="11.8" height="2.5" fill="#74CAF0"/>
<rect x="268.1" y="415.94" width="11.8" height="1.95" fill="#EEA0EF"/>
<rect x="268.1" y="412.45" width="11.8" height="3.79" fill="#B4E1E8"/>
<rect x="279.6" y="430.38" width="11.8" height="43.57" fill="#D58094"/>
<rect x="279.6" y="429.28" width="11.8" height="1.4" fill="#A2AADA"/>
<rect x="279.6" y="427.14" width="11.8" height="2.44" fill="#E6CD37"/>
<rect x="279.6" y="419.24" width="11.8" height="8.19" fill="#B9DA87"/>
<rect x="279.6" y="417.59" width="11.8" height="1.95" fill="#74CAF0"/>
<rect x="279.6" y="415.94" width="11.8" height="1.95" fill="#EEA0EF"/>
<rect x="279.6" y="412.45" width="11.8" height="3.79" fill="#B4E1E8"/>
<rect x="291.1" y="432.65" width="11.8" height="41.3" fill="#D58094"/>
<rect x="291.1" y="431.48" width="11.8" height="1.46" fill="#A2AADA"/>
<rect x="291.1" y="429.28" width="11.8" height="2.5" fill="#E6CD37"/>
<rect x="291.1" y="419.79" width="11.8" height="9.79" fill="#B9DA87"/>
<rect x="291.1" y="417.59" width="11.8" height="2.5" fill="#74CAF0"/>
<rect x="291.1" y="415.94" width="11.8" height="1.95" fill="#EEA0EF"/>
<rect x="291.1" y="412.45" width="11.8" height="3.79" fill="#B4E1E8"/>
<rect x="309.4" y="425.91" width="11.8" height="48.04" fill="#D58094"/>
<rect x="309.4" y="424.81" width="11.8" height="1.4" fill="#A2AADA"/>
<rect x="309.4" y="423.16" width="11.8" height="1.95" fill="#E6CD37"/>
<rect x="309.4" y="419.79" width="11.8" height="3.67" fill="#B9DA87"/>
<rect x="309.4" y="415.94" width="11.8" height="4.16" fill="#74CAF0"/>
<rect x="309.4" y="414.29" width="11.8" height="1.95" fill="#EEA0EF"/>
<rect x="309.4" y="412.45" width="11.8" height="2.14" fill="#B4E1E8"/>
<rect x="320.9" y="437.6" width="11.8" height="36.35" fill="#D58094"/>
<rect x="320.9" y="433.26" width="11.8" height="4.65" fill="#A2AADA"/>
<rect x="320.9" y="430.93" width="11.8" height="2.63" fill="#E6CD37"/>
<rect x="320.9" y="421.51" width="11.8" height="9.72" fill="#B9DA87"/>
<rect x="320.9" y="418.69" width="11.8" height="3.12" fill="#74CAF0"/>
<rect x="320.9" y="417.04" width="11.8" height="1.95" fill="#EEA0EF"/>
<rect x="320.9" y="412.45" width="11.8" height="4.89" fill="#B4E1E8"/>
<rect x="332.4" y="443.72" width="11.8" height="30.23" fill="#D58094"/>
<rect x="332.4" y="440.97" width="11.8" height="3.05" fill="#A2AADA"/>
<rect x="332.4" y="438.15" width="11.8" height="3.12" fill="#E6CD37"/>
<rect x="332.4" y="421.51" width="11.8" height="16.95" fill="#B9DA87"/>
<rect x="332.4" y="418.69" width="11.8" height="3.12" fill="#74CAF0"/>
<rect x="332.4" y="417.04" width="11.8" height="1.95" fill="#EEA0EF"/>
<rect x="332.4" y="412.45" width="11.8" height="4.89" fill="#B4E1E8"/>
<rect x="343.9" y="430.38" width="11.8" height="43.57" fill="#D58094"/>
<rect x="343.9" y="429.28" width="11.8" height="1.4" fill="#A2AADA"/>
<rect x="343.9" y="426.53" width="11.8" height="3.05" fill="#E6CD37"/>
<rect x="343.9" y="422.06" width="11.8" height="4.77" fill="#B9DA87"/>
<rect x="343.9" y="417.59" width="11.8" height="4.77" fill="#74CAF0"/>
<rect x="343.9" y="415.39" width="11.8" height="2.5" fill="#EEA0EF"/>
<rect x="343.9" y="412.45" width="11.8" height="3.24" fill="#B4E1E8"/>
<rect x="355.4" y="431.48" width="11.8" height="42.47" fill="#D58094"/>
<rect x="355.4" y="430.38" width="11.8" height="1.4" fill="#A2AADA"/>
<rect x="355.4" y="428.73" width="11.8" height="1.95" fill="#E6CD37"/>
<rect x="355.4" y="421.51" width="11.8" height="7.52" fill="#B9DA87"/>
<rect x="355.4" y="418.14" width="11.8" height="3.67" fill="#74CAF0"/>
<rect x="355.4" y="415.94" width="11.8" height="2.5" fill="#EEA0EF"/>
<rect x="355.4" y="412.45" width="11.8" height="3.79" fill="#B4E1E8"/>
<rect x="373.7" y="450.39" width="11.8" height="23.56" fill="#D58094"/>
<rect x="373.7" y="444.27" width="11.8" height="6.42" fill="#A2AADA"/>
<rect x="373.7" y="440.42" width="11.8" height="4.16" fill="#E6CD37"/>
<rect x="373.7" y="421.51" width="11.8" height="19.21" fill="#B9DA87"/>
<rect x="373.7" y="420.41" width="11.8" height="1.4" fill="#74CAF0"/>
<rect x="373.7" y="418.69" width="11.8" height="2.01" fill="#EEA0EF"/>
<rect x="373.7" y="412.45" width="11.8" height="6.54" fill="#B4E1E8"/>
<rect x="385.2" y="432.65" width="11.8" height="41.3" fill="#D58094"/>
<rect x="385.2" y="431.48" width="11.8" height="1.46" fill="#A2AADA"/>
<rect x="385.2" y="429.83" width="11.8" height="1.95" fill="#E6CD37"/>
<rect x="385.2" y="419.24" width="11.8" height="10.89" fill="#B9DA87"/>
<rect x="385.2" y="417.59" width="11.8" height="1.95" fill="#74CAF0"/>
<rect x="385.2" y="415.94" width="11.8" height="1.95" fill="#EEA0EF"/>
<rect x="385.2" y="412.45" width="11.8" height="3.79" fill="#B4E1E8"/>
<rect x="396.7" y="434.85" width="11.8" height="39.1" fill="#D58094"/>
<rect x="396.7" y="433.26" width="11.8" height="1.89" fill="#A2AADA"/>
<rect x="396.7" y="430.38" width="11.8" height="3.18" fill="#E6CD37"/>
<rect x="396.7" y="420.41" width="11.8" height="10.28" fill="#B9DA87"/>
<rect x="396.7" y="418.14" width="11.8" height="2.56" fill="#74CAF0"/>
<rect x="396.7" y="415.94" width="11.8" height="2.5" fill="#EEA0EF"/>
<rect x="396.7" y="412.45" width="11.8" height="3.79" fill="#B4E1E8"/>
<rect x="408.2" y="431.48" width="11.8" height="42.47" fill="#D58094"/>
<rect x="408.2" y="430.38" width="11.8" height="1.4" fill="#A2AADA"/>
<rect x="408.2" y="428.73" width="11.8" height="1.95" fill="#E6CD37"/>
<rect x="408.2" y="420.41" width="11.8" height="8.62" fill="#B9DA87"/>
<rect x="408.2" y="418.14" width="11.8" height="2.56" fill="#74CAF0"/>
<rect x="408.2" y="416.49" width="11.8" height="1.95" fill="#EEA0EF"/>
<rect x="408.2" y="412.45" width="11.8" height="4.34" fill="#B4E1E8"/>
<rect x="419.7" y="430.93" width="11.8" height="43.02" fill="#D58094"/>
<rect x="419.7" y="429.83" width="11.8" height="1.4" fill="#A2AADA"/>
<rect x="419.7" y="428.18" width="11.8" height="1.95" fill="#E6CD37"/>
<rect x="419.7" y="420.41" width="11.8" height="8.07" fill="#B9DA87"/>
<rect x="419.7" y="418.14" width="11.8" height="2.56" fill="#74CAF0"/>
<rect x="419.7" y="416.49" width="11.8" height="1.95" fill="#EEA0EF"/>
<rect x="419.7" y="412.45" width="11.8" height="4.34" fill="#B4E1E8"/>
<rect x="438" y="437.05" width="11.8" height="36.9" fill="#D58094"/>
<rect x="438" y="435.4" width="11.8" height="1.95" fill="#A2AADA"/>
<rect x="438" y="432.03" width="11.8" height="3.67" fill="#E6CD37"/>
<rect x="438" y="423.71" width="11.8" height="8.62" fill="#B9DA87"/>
<rect x="438" y="421.02" width="11.8" height="2.99" fill="#74CAF0"/>
<rect x="438" y="418.14" width="11.8" height="3.18" fill="#EEA0EF"/>
<rect x="438" y="412.45" width="11.8" height="5.99" fill="#B4E1E8"/>
<rect x="449.5" y="444.89" width="11.8" height="29.06" fill="#D58094"/>
<rect x="449.5" y="439.87" width="11.8" height="5.32" fill="#A2AADA"/>
<rect x="449.5" y="434.3" width="11.8" height="5.87" fill="#E6CD37"/>
<rect x="449.5" y="423.71" width="11.8" height="10.89" fill="#B9DA87"/>
<rect x="449.5" y="421.02" width="11.8" height="2.99" fill="#74CAF0"/>
<rect x="449.5" y="418.14" width="11.8" height="3.18" fill="#EEA0EF"/>
<rect x="449.5" y="412.45" width="11.8" height="5.99" fill="#B4E1E8"/>
<rect x="461" y="437.6" width="11.8" height="36.35" fill="#D58094"/>
<rect x="461" y="435.95" width="11.8" height="1.95" fill="#A2AADA"/>
<rect x="461" y="433.26" width="11.8" height="2.99" fill="#E6CD37"/>
<rect x="461" y="423.71" width="11.8" height="9.85" fill="#B9DA87"/>
<rect x="461" y="420.41" width="11.8" height="3.6" fill="#74CAF0"/>
<rect x="461" y="418.14" width="11.8" height="2.56" fill="#EEA0EF"/>
<rect x="461" y="412.45" width="11.8" height="5.99" fill="#B4E1E8"/>
<rect x="472.5" y="435.95" width="11.8" height="38" fill="#D58094"/>
<rect x="472.5" y="434.3" width="11.8" height="1.95" fill="#A2AADA"/>
<rect x="472.5" y="432.65" width="11.8" height="1.95" fill="#E6CD37"/>
<rect x="472.5" y="423.16" width="11.8" height="9.79" fill="#B9DA87"/>
<rect x="472.5" y="419.79" width="11.8" height="3.67" fill="#74CAF0"/>
<rect x="472.5" y="417.59" width="11.8" height="2.5" fill="#EEA0EF"/>
<rect x="472.5" y="412.45" width="11.8" height="5.44" fill="#B4E1E8"/>
<rect x="484" y="436.5" width="11.8" height="37.45" fill="#D58094"/>
<rect x="484" y="435.4" width="11.8" height="1.4" fill="#A2AADA"/>
<rect x="484" y="433.26" width="11.8" height="2.44" fill="#E6CD37"/>
<rect x="484" y="423.71" width="11.8" height="9.85" fill="#B9DA87"/>
<rect x="484" y="420.41" width="11.8" height="3.6" fill="#74CAF0"/>
<rect x="484" y="418.14" width="11.8" height="2.56" fill="#EEA0EF"/>
<rect x="484" y="412.45" width="11.8" height="5.99" fill="#B4E1E8"/>
<line x1="48.5" y1="480.6" x2="48.5" y2="541.8" stroke="#4a4a4a" stroke-width="0.85"/>
<line x1="45" y1="541.8" x2="48.5" y2="541.8" stroke="#4a4a4a" stroke-width="0.85"/>
<text x="43" y="544.4" font-size="7.2" text-anchor="end">0</text>
<line x1="45" y1="529.56" x2="48.5" y2="529.56" stroke="#4a4a4a" stroke-width="0.85"/>
<text x="43" y="532.16" font-size="7.2" text-anchor="end">20</text>
<line x1="45" y1="517.32" x2="48.5" y2="517.32" stroke="#4a4a4a" stroke-width="0.85"/>
<text x="43" y="519.92" font-size="7.2" text-anchor="end">40</text>
<line x1="45" y1="505.08" x2="48.5" y2="505.08" stroke="#4a4a4a" stroke-width="0.85"/>
<text x="43" y="507.68" font-size="7.2" text-anchor="end">60</text>
<line x1="45" y1="492.84" x2="48.5" y2="492.84" stroke="#4a4a4a" stroke-width="0.85"/>
<text x="43" y="495.44" font-size="7.2" text-anchor="end">80</text>
<line x1="45" y1="480.6" x2="48.5" y2="480.6" stroke="#4a4a4a" stroke-width="0.85"/>
<text x="43" y="483.2" font-size="7.2" text-anchor="end">100</text>
<line x1="47" y1="535.68" x2="48.5" y2="535.68" stroke="#6a6a6a" stroke-width="0.6"/>
<line x1="47" y1="523.44" x2="48.5" y2="523.44" stroke="#6a6a6a" stroke-width="0.6"/>
<line x1="47" y1="511.2" x2="48.5" y2="511.2" stroke="#6a6a6a" stroke-width="0.6"/>
<line x1="47" y1="498.96" x2="48.5" y2="498.96" stroke="#6a6a6a" stroke-width="0.6"/>
<line x1="47" y1="486.72" x2="48.5" y2="486.72" stroke="#6a6a6a" stroke-width="0.6"/>
<text x="500" y="516.9" font-size="7.7">20–30 cm</text>
<rect x="52.2" y="525.58" width="11.8" height="16.52" fill="#D58094"/>
<rect x="52.2" y="518.3" width="11.8" height="7.58" fill="#A2AADA"/>
<rect x="52.2" y="509.98" width="11.8" height="8.62" fill="#E6CD37"/>
<rect x="52.2" y="491.62" width="11.8" height="18.66" fill="#B9DA87"/>
<rect x="52.2" y="488.86" width="11.8" height="3.05" fill="#74CAF0"/>
<rect x="52.2" y="486.6" width="11.8" height="2.56" fill="#EEA0EF"/>
<rect x="52.2" y="480.6" width="11.8" height="6.3" fill="#B4E1E8"/>
<rect x="63.7" y="513.34" width="11.8" height="28.76" fill="#D58094"/>
<rect x="63.7" y="508.32" width="11.8" height="5.32" fill="#A2AADA"/>
<rect x="63.7" y="502.2" width="11.8" height="6.42" fill="#E6CD37"/>
<rect x="63.7" y="487.7" width="11.8" height="14.8" fill="#B9DA87"/>
<rect x="63.7" y="486.11" width="11.8" height="1.89" fill="#74CAF0"/>
<rect x="63.7" y="484.39" width="11.8" height="2.01" fill="#EEA0EF"/>
<rect x="63.7" y="480.6" width="11.8" height="4.09" fill="#B4E1E8"/>
<rect x="75.2" y="512.73" width="11.8" height="29.37" fill="#D58094"/>
<rect x="75.2" y="507.77" width="11.8" height="5.26" fill="#A2AADA"/>
<rect x="75.2" y="502.2" width="11.8" height="5.87" fill="#E6CD37"/>
<rect x="75.2" y="487.7" width="11.8" height="14.8" fill="#B9DA87"/>
<rect x="75.2" y="486.11" width="11.8" height="1.89" fill="#74CAF0"/>
<rect x="75.2" y="484.39" width="11.8" height="2.01" fill="#EEA0EF"/>
<rect x="75.2" y="480.6" width="11.8" height="4.09" fill="#B4E1E8"/>
<rect x="86.7" y="510.59" width="11.8" height="31.51" fill="#D58094"/>
<rect x="86.7" y="508.87" width="11.8" height="2.01" fill="#A2AADA"/>
<rect x="86.7" y="504.47" width="11.8" height="4.71" fill="#E6CD37"/>
<rect x="86.7" y="488.86" width="11.8" height="15.91" fill="#B9DA87"/>
<rect x="86.7" y="486.6" width="11.8" height="2.56" fill="#74CAF0"/>
<rect x="86.7" y="484.88" width="11.8" height="2.01" fill="#EEA0EF"/>
<rect x="86.7" y="480.6" width="11.8" height="4.58" fill="#B4E1E8"/>
<rect x="98.2" y="511.08" width="11.8" height="31.02" fill="#D58094"/>
<rect x="98.2" y="506.61" width="11.8" height="4.77" fill="#A2AADA"/>
<rect x="98.2" y="497.74" width="11.8" height="9.17" fill="#E6CD37"/>
<rect x="98.2" y="486.11" width="11.8" height="11.93" fill="#B9DA87"/>
<rect x="98.2" y="484.88" width="11.8" height="1.52" fill="#74CAF0"/>
<rect x="98.2" y="483.29" width="11.8" height="1.89" fill="#EEA0EF"/>
<rect x="98.2" y="480.6" width="11.8" height="2.99" fill="#B4E1E8"/>
<rect x="116.5" y="523.87" width="11.8" height="18.23" fill="#D58094"/>
<rect x="116.5" y="516.1" width="11.8" height="8.07" fill="#A2AADA"/>
<rect x="116.5" y="509.36" width="11.8" height="7.03" fill="#E6CD37"/>
<rect x="116.5" y="489.41" width="11.8" height="20.25" fill="#B9DA87"/>
<rect x="116.5" y="486.11" width="11.8" height="3.6" fill="#74CAF0"/>
<rect x="116.5" y="484.39" width="11.8" height="2.01" fill="#EEA0EF"/>
<rect x="116.5" y="480.6" width="11.8" height="4.09" fill="#B4E1E8"/>
<rect x="128" y="526.68" width="11.8" height="15.42" fill="#D58094"/>
<rect x="128" y="522.22" width="11.8" height="4.77" fill="#A2AADA"/>
<rect x="128" y="511.63" width="11.8" height="10.89" fill="#E6CD37"/>
<rect x="128" y="489.41" width="11.8" height="22.52" fill="#B9DA87"/>
<rect x="128" y="486.11" width="11.8" height="3.6" fill="#74CAF0"/>
<rect x="128" y="484.39" width="11.8" height="2.01" fill="#EEA0EF"/>
<rect x="128" y="480.6" width="11.8" height="4.09" fill="#B4E1E8"/>
<rect x="139.5" y="520.01" width="11.8" height="22.09" fill="#D58094"/>
<rect x="139.5" y="515.48" width="11.8" height="4.83" fill="#A2AADA"/>
<rect x="139.5" y="507.22" width="11.8" height="8.56" fill="#E6CD37"/>
<rect x="139.5" y="488.25" width="11.8" height="19.27" fill="#B9DA87"/>
<rect x="139.5" y="486.11" width="11.8" height="2.44" fill="#74CAF0"/>
<rect x="139.5" y="484.39" width="11.8" height="2.01" fill="#EEA0EF"/>
<rect x="139.5" y="480.6" width="11.8" height="4.09" fill="#B4E1E8"/>
<rect x="151" y="508.87" width="11.8" height="33.23" fill="#D58094"/>
<rect x="151" y="505.51" width="11.8" height="3.67" fill="#A2AADA"/>
<rect x="151" y="498.35" width="11.8" height="7.46" fill="#E6CD37"/>
<rect x="151" y="488.25" width="11.8" height="10.4" fill="#B9DA87"/>
<rect x="151" y="486.11" width="11.8" height="2.44" fill="#74CAF0"/>
<rect x="151" y="483.84" width="11.8" height="2.56" fill="#EEA0EF"/>
<rect x="151" y="480.6" width="11.8" height="3.54" fill="#B4E1E8"/>
<rect x="162.5" y="513.34" width="11.8" height="28.76" fill="#D58094"/>
<rect x="162.5" y="508.32" width="11.8" height="5.32" fill="#A2AADA"/>
<rect x="162.5" y="498.35" width="11.8" height="10.28" fill="#E6CD37"/>
<rect x="162.5" y="488.86" width="11.8" height="9.79" fill="#B9DA87"/>
<rect x="162.5" y="486.11" width="11.8" height="3.05" fill="#74CAF0"/>
<rect x="162.5" y="484.39" width="11.8" height="2.01" fill="#EEA0EF"/>
<rect x="162.5" y="480.6" width="11.8" height="4.09" fill="#B4E1E8"/>
<rect x="180.8" y="514.44" width="11.8" height="27.66" fill="#D58094"/>
<rect x="180.8" y="509.98" width="11.8" height="4.77" fill="#A2AADA"/>
<rect x="180.8" y="501.65" width="11.8" height="8.62" fill="#E6CD37"/>
<rect x="180.8" y="487.7" width="11.8" height="14.25" fill="#B9DA87"/>
<rect x="180.8" y="486.11" width="11.8" height="1.89" fill="#74CAF0"/>
<rect x="180.8" y="484.39" width="11.8" height="2.01" fill="#EEA0EF"/>
<rect x="180.8" y="480.6" width="11.8" height="4.09" fill="#B4E1E8"/>
<rect x="192.3" y="517.75" width="11.8" height="24.35" fill="#D58094"/>
<rect x="192.3" y="513.89" width="11.8" height="4.16" fill="#A2AADA"/>
<rect x="192.3" y="505.51" width="11.8" height="8.68" fill="#E6CD37"/>
<rect x="192.3" y="487.7" width="11.8" height="18.11" fill="#B9DA87"/>
<rect x="192.3" y="486.11" width="11.8" height="1.89" fill="#74CAF0"/>
<rect x="192.3" y="484.39" width="11.8" height="2.01" fill="#EEA0EF"/>
<rect x="192.3" y="480.6" width="11.8" height="4.09" fill="#B4E1E8"/>
<rect x="203.8" y="509.98" width="11.8" height="32.12" fill="#D58094"/>
<rect x="203.8" y="505.51" width="11.8" height="4.77" fill="#A2AADA"/>
<rect x="203.8" y="501.1" width="11.8" height="4.71" fill="#E6CD37"/>
<rect x="203.8" y="487.7" width="11.8" height="13.7" fill="#B9DA87"/>
<rect x="203.8" y="486.11" width="11.8" height="1.89" fill="#74CAF0"/>
<rect x="203.8" y="484.39" width="11.8" height="2.01" fill="#EEA0EF"/>
<rect x="203.8" y="480.6" width="11.8" height="4.09" fill="#B4E1E8"/>
<rect x="215.3" y="506.06" width="11.8" height="36.04" fill="#D58094"/>
<rect x="215.3" y="503.86" width="11.8" height="2.5" fill="#A2AADA"/>
<rect x="215.3" y="499.39" width="11.8" height="4.77" fill="#E6CD37"/>
<rect x="215.3" y="489.96" width="11.8" height="9.72" fill="#B9DA87"/>
<rect x="215.3" y="487.15" width="11.8" height="3.12" fill="#74CAF0"/>
<rect x="215.3" y="484.39" width="11.8" height="3.05" fill="#EEA0EF"/>
<rect x="215.3" y="480.6" width="11.8" height="4.09" fill="#B4E1E8"/>
<rect x="226.8" y="502.75" width="11.8" height="39.35" fill="#D58094"/>
<rect x="226.8" y="501.1" width="11.8" height="1.95" fill="#A2AADA"/>
<rect x="226.8" y="499.39" width="11.8" height="2.01" fill="#E6CD37"/>
<rect x="226.8" y="486.6" width="11.8" height="13.09" fill="#B9DA87"/>
<rect x="226.8" y="484.88" width="11.8" height="2.01" fill="#74CAF0"/>
<rect x="226.8" y="483.29" width="11.8" height="1.89" fill="#EEA0EF"/>
<rect x="226.8" y="480.6" width="11.8" height="2.99" fill="#B4E1E8"/>
<rect x="245.1" y="498.84" width="11.8" height="43.26" fill="#D58094"/>
<rect x="245.1" y="497.74" width="11.8" height="1.4" fill="#A2AADA"/>
<rect x="245.1" y="494.98" width="11.8" height="3.05" fill="#E6CD37"/>
<rect x="245.1" y="489.41" width="11.8" height="5.87" fill="#B9DA87"/>
<rect x="245.1" y="486.6" width="11.8" height="3.12" fill="#74CAF0"/>
<rect x="245.1" y="484.39" width="11.8" height="2.5" fill="#EEA0EF"/>
<rect x="245.1" y="480.6" width="11.8" height="4.09" fill="#B4E1E8"/>
<rect x="256.6" y="508.87" width="11.8" height="33.23" fill="#D58094"/>
<rect x="256.6" y="506.61" width="11.8" height="2.56" fill="#A2AADA"/>
<rect x="256.6" y="497.74" width="11.8" height="9.17" fill="#E6CD37"/>
<rect x="256.6" y="489.41" width="11.8" height="8.62" fill="#B9DA87"/>
<rect x="256.6" y="486.11" width="11.8" height="3.6" fill="#74CAF0"/>
<rect x="256.6" y="484.39" width="11.8" height="2.01" fill="#EEA0EF"/>
<rect x="256.6" y="480.6" width="11.8" height="4.09" fill="#B4E1E8"/>
<rect x="268.1" y="502.75" width="11.8" height="39.35" fill="#D58094"/>
<rect x="268.1" y="501.1" width="11.8" height="1.95" fill="#A2AADA"/>
<rect x="268.1" y="497.19" width="11.8" height="4.22" fill="#E6CD37"/>
<rect x="268.1" y="488.25" width="11.8" height="9.24" fill="#B9DA87"/>
<rect x="268.1" y="486.11" width="11.8" height="2.44" fill="#74CAF0"/>
<rect x="268.1" y="484.39" width="11.8" height="2.01" fill="#EEA0EF"/>
<rect x="268.1" y="480.6" width="11.8" height="4.09" fill="#B4E1E8"/>
<rect x="279.6" y="500.49" width="11.8" height="41.61" fill="#D58094"/>
<rect x="279.6" y="499.39" width="11.8" height="1.4" fill="#A2AADA"/>
<rect x="279.6" y="494.98" width="11.8" height="4.71" fill="#E6CD37"/>
<rect x="279.6" y="489.41" width="11.8" height="5.87" fill="#B9DA87"/>
<rect x="279.6" y="487.15" width="11.8" height="2.56" fill="#74CAF0"/>
<rect x="279.6" y="484.88" width="11.8" height="2.56" fill="#EEA0EF"/>
<rect x="279.6" y="480.6" width="11.8" height="4.58" fill="#B4E1E8"/>
<rect x="291.1" y="506.06" width="11.8" height="36.04" fill="#D58094"/>
<rect x="291.1" y="504.47" width="11.8" height="1.89" fill="#A2AADA"/>
<rect x="291.1" y="501.1" width="11.8" height="3.67" fill="#E6CD37"/>
<rect x="291.1" y="488.25" width="11.8" height="13.15" fill="#B9DA87"/>
<rect x="291.1" y="486.11" width="11.8" height="2.44" fill="#74CAF0"/>
<rect x="291.1" y="484.39" width="11.8" height="2.01" fill="#EEA0EF"/>
<rect x="291.1" y="480.6" width="11.8" height="4.09" fill="#B4E1E8"/>
<rect x="309.4" y="506.06" width="11.8" height="36.04" fill="#D58094"/>
<rect x="309.4" y="503.86" width="11.8" height="2.5" fill="#A2AADA"/>
<rect x="309.4" y="498.84" width="11.8" height="5.32" fill="#E6CD37"/>
<rect x="309.4" y="488.25" width="11.8" height="10.89" fill="#B9DA87"/>
<rect x="309.4" y="486.11" width="11.8" height="2.44" fill="#74CAF0"/>
<rect x="309.4" y="484.39" width="11.8" height="2.01" fill="#EEA0EF"/>
<rect x="309.4" y="480.6" width="11.8" height="4.09" fill="#B4E1E8"/>
<rect x="320.9" y="508.32" width="11.8" height="33.78" fill="#D58094"/>
<rect x="320.9" y="504.96" width="11.8" height="3.67" fill="#A2AADA"/>
<rect x="320.9" y="499.39" width="11.8" height="5.87" fill="#E6CD37"/>
<rect x="320.9" y="487.7" width="11.8" height="11.99" fill="#B9DA87"/>
<rect x="320.9" y="486.11" width="11.8" height="1.89" fill="#74CAF0"/>
<rect x="320.9" y="484.39" width="11.8" height="2.01" fill="#EEA0EF"/>
<rect x="320.9" y="480.6" width="11.8" height="4.09" fill="#B4E1E8"/>
<rect x="332.4" y="517.75" width="11.8" height="24.35" fill="#D58094"/>
<rect x="332.4" y="513.34" width="11.8" height="4.71" fill="#A2AADA"/>
<rect x="332.4" y="504.96" width="11.8" height="8.68" fill="#E6CD37"/>
<rect x="332.4" y="489.41" width="11.8" height="15.84" fill="#B9DA87"/>
<rect x="332.4" y="487.7" width="11.8" height="2.01" fill="#74CAF0"/>
<rect x="332.4" y="485.5" width="11.8" height="2.5" fill="#EEA0EF"/>
<rect x="332.4" y="480.6" width="11.8" height="5.2" fill="#B4E1E8"/>
<rect x="343.9" y="509.36" width="11.8" height="32.74" fill="#D58094"/>
<rect x="343.9" y="504.96" width="11.8" height="4.71" fill="#A2AADA"/>
<rect x="343.9" y="501.65" width="11.8" height="3.6" fill="#E6CD37"/>
<rect x="343.9" y="489.96" width="11.8" height="11.99" fill="#B9DA87"/>
<rect x="343.9" y="486.6" width="11.8" height="3.67" fill="#74CAF0"/>
<rect x="343.9" y="484.39" width="11.8" height="2.5" fill="#EEA0EF"/>
<rect x="343.9" y="480.6" width="11.8" height="4.09" fill="#B4E1E8"/>
<rect x="355.4" y="506.61" width="11.8" height="35.49" fill="#D58094"/>
<rect x="355.4" y="504.96" width="11.8" height="1.95" fill="#A2AADA"/>
<rect x="355.4" y="499.39" width="11.8" height="5.87" fill="#E6CD37"/>
<rect x="355.4" y="487.7" width="11.8" height="11.99" fill="#B9DA87"/>
<rect x="355.4" y="486.11" width="11.8" height="1.89" fill="#74CAF0"/>
<rect x="355.4" y="484.39" width="11.8" height="2.01" fill="#EEA0EF"/>
<rect x="355.4" y="480.6" width="11.8" height="4.09" fill="#B4E1E8"/>
<rect x="373.7" y="512.18" width="11.8" height="29.92" fill="#D58094"/>
<rect x="373.7" y="509.98" width="11.8" height="2.5" fill="#A2AADA"/>
<rect x="373.7" y="505.51" width="11.8" height="4.77" fill="#E6CD37"/>
<rect x="373.7" y="489.41" width="11.8" height="16.4" fill="#B9DA87"/>
<rect x="373.7" y="487.15" width="11.8" height="2.56" fill="#74CAF0"/>
<rect x="373.7" y="485.5" width="11.8" height="1.95" fill="#EEA0EF"/>
<rect x="373.7" y="480.6" width="11.8" height="5.2" fill="#B4E1E8"/>
<rect x="385.2" y="526.13" width="11.8" height="15.97" fill="#D58094"/>
<rect x="385.2" y="518.3" width="11.8" height="8.13" fill="#A2AADA"/>
<rect x="385.2" y="507.77" width="11.8" height="10.83" fill="#E6CD37"/>
<rect x="385.2" y="489.41" width="11.8" height="18.66" fill="#B9DA87"/>
<rect x="385.2" y="487.15" width="11.8" height="2.56" fill="#74CAF0"/>
<rect x="385.2" y="485.5" width="11.8" height="1.95" fill="#EEA0EF"/>
<rect x="385.2" y="480.6" width="11.8" height="5.2" fill="#B4E1E8"/>
<rect x="396.7" y="509.36" width="11.8" height="32.74" fill="#D58094"/>
<rect x="396.7" y="507.22" width="11.8" height="2.44" fill="#A2AADA"/>
<rect x="396.7" y="503.86" width="11.8" height="3.67" fill="#E6CD37"/>
<rect x="396.7" y="488.25" width="11.8" height="15.91" fill="#B9DA87"/>
<rect x="396.7" y="486.6" width="11.8" height="1.95" fill="#74CAF0"/>
<rect x="396.7" y="484.88" width="11.8" height="2.01" fill="#EEA0EF"/>
<rect x="396.7" y="480.6" width="11.8" height="4.58" fill="#B4E1E8"/>
<rect x="408.2" y="507.77" width="11.8" height="34.33" fill="#D58094"/>
<rect x="408.2" y="505.51" width="11.8" height="2.56" fill="#A2AADA"/>
<rect x="408.2" y="501.1" width="11.8" height="4.71" fill="#E6CD37"/>
<rect x="408.2" y="489.41" width="11.8" height="11.99" fill="#B9DA87"/>
<rect x="408.2" y="487.15" width="11.8" height="2.56" fill="#74CAF0"/>
<rect x="408.2" y="484.88" width="11.8" height="2.56" fill="#EEA0EF"/>
<rect x="408.2" y="480.6" width="11.8" height="4.58" fill="#B4E1E8"/>
<rect x="419.7" y="517.75" width="11.8" height="24.35" fill="#D58094"/>
<rect x="419.7" y="514.99" width="11.8" height="3.05" fill="#A2AADA"/>
<rect x="419.7" y="512.18" width="11.8" height="3.12" fill="#E6CD37"/>
<rect x="419.7" y="489.41" width="11.8" height="23.07" fill="#B9DA87"/>
<rect x="419.7" y="487.15" width="11.8" height="2.56" fill="#74CAF0"/>
<rect x="419.7" y="485.5" width="11.8" height="1.95" fill="#EEA0EF"/>
<rect x="419.7" y="480.6" width="11.8" height="5.2" fill="#B4E1E8"/>
<rect x="438" y="504.47" width="11.8" height="37.63" fill="#D58094"/>
<rect x="438" y="502.2" width="11.8" height="2.56" fill="#A2AADA"/>
<rect x="438" y="499.94" width="11.8" height="2.56" fill="#E6CD37"/>
<rect x="438" y="487.7" width="11.8" height="12.54" fill="#B9DA87"/>
<rect x="438" y="486.11" width="11.8" height="1.89" fill="#74CAF0"/>
<rect x="438" y="484.39" width="11.8" height="2.01" fill="#EEA0EF"/>
<rect x="438" y="480.6" width="11.8" height="4.09" fill="#B4E1E8"/>
<rect x="449.5" y="515.48" width="11.8" height="26.62" fill="#D58094"/>
<rect x="449.5" y="512.73" width="11.8" height="3.05" fill="#A2AADA"/>
<rect x="449.5" y="502.75" width="11.8" height="10.28" fill="#E6CD37"/>
<rect x="449.5" y="489.41" width="11.8" height="13.64" fill="#B9DA87"/>
<rect x="449.5" y="487.7" width="11.8" height="2.01" fill="#74CAF0"/>
<rect x="449.5" y="485.5" width="11.8" height="2.5" fill="#EEA0EF"/>
<rect x="449.5" y="480.6" width="11.8" height="5.2" fill="#B4E1E8"/>
<rect x="461" y="510.59" width="11.8" height="31.51" fill="#D58094"/>
<rect x="461" y="508.32" width="11.8" height="2.56" fill="#A2AADA"/>
<rect x="461" y="504.47" width="11.8" height="4.16" fill="#E6CD37"/>
<rect x="461" y="489.41" width="11.8" height="15.36" fill="#B9DA87"/>
<rect x="461" y="487.15" width="11.8" height="2.56" fill="#74CAF0"/>
<rect x="461" y="485.5" width="11.8" height="1.95" fill="#EEA0EF"/>
<rect x="461" y="480.6" width="11.8" height="5.2" fill="#B4E1E8"/>
<rect x="472.5" y="503.86" width="11.8" height="38.24" fill="#D58094"/>
<rect x="472.5" y="502.2" width="11.8" height="1.95" fill="#A2AADA"/>
<rect x="472.5" y="499.94" width="11.8" height="2.56" fill="#E6CD37"/>
<rect x="472.5" y="488.25" width="11.8" height="11.99" fill="#B9DA87"/>
<rect x="472.5" y="486.6" width="11.8" height="1.95" fill="#74CAF0"/>
<rect x="472.5" y="484.88" width="11.8" height="2.01" fill="#EEA0EF"/>
<rect x="472.5" y="480.6" width="11.8" height="4.58" fill="#B4E1E8"/>
<rect x="484" y="519.46" width="11.8" height="22.64" fill="#D58094"/>
<rect x="484" y="515.48" width="11.8" height="4.28" fill="#A2AADA"/>
<rect x="484" y="509.36" width="11.8" height="6.42" fill="#E6CD37"/>
<rect x="484" y="493.27" width="11.8" height="16.4" fill="#B9DA87"/>
<rect x="484" y="489.96" width="11.8" height="3.6" fill="#74CAF0"/>
<rect x="484" y="487.15" width="11.8" height="3.12" fill="#EEA0EF"/>
<rect x="484" y="480.6" width="11.8" height="6.85" fill="#B4E1E8"/>
<line x1="48.5" y1="548.75" x2="48.5" y2="609.95" stroke="#4a4a4a" stroke-width="0.85"/>
<line x1="45" y1="609.95" x2="48.5" y2="609.95" stroke="#4a4a4a" stroke-width="0.85"/>
<text x="43" y="612.55" font-size="7.2" text-anchor="end">0</text>
<line x1="45" y1="597.71" x2="48.5" y2="597.71" stroke="#4a4a4a" stroke-width="0.85"/>
<text x="43" y="600.31" font-size="7.2" text-anchor="end">20</text>
<line x1="45" y1="585.47" x2="48.5" y2="585.47" stroke="#4a4a4a" stroke-width="0.85"/>
<text x="43" y="588.07" font-size="7.2" text-anchor="end">40</text>
<line x1="45" y1="573.23" x2="48.5" y2="573.23" stroke="#4a4a4a" stroke-width="0.85"/>
<text x="43" y="575.83" font-size="7.2" text-anchor="end">60</text>
<line x1="45" y1="560.99" x2="48.5" y2="560.99" stroke="#4a4a4a" stroke-width="0.85"/>
<text x="43" y="563.59" font-size="7.2" text-anchor="end">80</text>
<line x1="45" y1="548.75" x2="48.5" y2="548.75" stroke="#4a4a4a" stroke-width="0.85"/>
<text x="43" y="551.35" font-size="7.2" text-anchor="end">100</text>
<line x1="47" y1="603.83" x2="48.5" y2="603.83" stroke="#6a6a6a" stroke-width="0.6"/>
<line x1="47" y1="591.59" x2="48.5" y2="591.59" stroke="#6a6a6a" stroke-width="0.6"/>
<line x1="47" y1="579.35" x2="48.5" y2="579.35" stroke="#6a6a6a" stroke-width="0.6"/>
<line x1="47" y1="567.11" x2="48.5" y2="567.11" stroke="#6a6a6a" stroke-width="0.6"/>
<line x1="47" y1="554.87" x2="48.5" y2="554.87" stroke="#6a6a6a" stroke-width="0.6"/>
<text x="500" y="584.4" font-size="7.7">30–40 cm</text>
<rect x="52.2" y="601.5" width="11.8" height="8.75" fill="#D58094"/>
<rect x="52.2" y="592.02" width="11.8" height="9.79" fill="#A2AADA"/>
<rect x="52.2" y="577.51" width="11.8" height="14.8" fill="#E6CD37"/>
<rect x="52.2" y="558.11" width="11.8" height="19.7" fill="#B9DA87"/>
<rect x="52.2" y="557.01" width="11.8" height="1.4" fill="#74CAF0"/>
<rect x="52.2" y="554.75" width="11.8" height="2.56" fill="#EEA0EF"/>
<rect x="52.2" y="548.75" width="11.8" height="6.3" fill="#B4E1E8"/>
<rect x="63.7" y="599.85" width="11.8" height="10.4" fill="#D58094"/>
<rect x="63.7" y="591.47" width="11.8" height="8.68" fill="#A2AADA"/>
<rect x="63.7" y="578.13" width="11.8" height="13.64" fill="#E6CD37"/>
<rect x="63.7" y="559.15" width="11.8" height="19.27" fill="#B9DA87"/>
<rect x="63.7" y="558.11" width="11.8" height="1.34" fill="#74CAF0"/>
<rect x="63.7" y="555.85" width="11.8" height="2.56" fill="#EEA0EF"/>
<rect x="63.7" y="548.75" width="11.8" height="7.4" fill="#B4E1E8"/>
<rect x="75.2" y="603.71" width="11.8" height="6.54" fill="#D58094"/>
<rect x="75.2" y="593.12" width="11.8" height="10.89" fill="#A2AADA"/>
<rect x="75.2" y="579.23" width="11.8" height="14.19" fill="#E6CD37"/>
<rect x="75.2" y="557.56" width="11.8" height="21.96" fill="#B9DA87"/>
<rect x="75.2" y="556.4" width="11.8" height="1.46" fill="#74CAF0"/>
<rect x="75.2" y="554.26" width="11.8" height="2.44" fill="#EEA0EF"/>
<rect x="75.2" y="548.75" width="11.8" height="5.81" fill="#B4E1E8"/>
<rect x="86.7" y="600.95" width="11.8" height="9.3" fill="#D58094"/>
<rect x="86.7" y="594.28" width="11.8" height="6.97" fill="#A2AADA"/>
<rect x="86.7" y="578.74" width="11.8" height="15.84" fill="#E6CD37"/>
<rect x="86.7" y="557.56" width="11.8" height="21.48" fill="#B9DA87"/>
<rect x="86.7" y="556.4" width="11.8" height="1.46" fill="#74CAF0"/>
<rect x="86.7" y="554.75" width="11.8" height="1.95" fill="#EEA0EF"/>
<rect x="86.7" y="548.75" width="11.8" height="6.3" fill="#B4E1E8"/>
<rect x="98.2" y="605.97" width="11.8" height="4.28" fill="#D58094"/>
<rect x="98.2" y="600.4" width="11.8" height="5.87" fill="#A2AADA"/>
<rect x="98.2" y="583.63" width="11.8" height="17.07" fill="#E6CD37"/>
<rect x="98.2" y="559.15" width="11.8" height="24.78" fill="#B9DA87"/>
<rect x="98.2" y="557.01" width="11.8" height="2.44" fill="#74CAF0"/>
<rect x="98.2" y="555.3" width="11.8" height="2.01" fill="#EEA0EF"/>
<rect x="98.2" y="548.75" width="11.8" height="6.85" fill="#B4E1E8"/>
<rect x="116.5" y="608.73" width="11.8" height="1.52" fill="#D58094"/>
<rect x="116.5" y="604.26" width="11.8" height="4.77" fill="#A2AADA"/>
<rect x="116.5" y="592.02" width="11.8" height="12.54" fill="#E6CD37"/>
<rect x="116.5" y="558.11" width="11.8" height="34.2" fill="#B9DA87"/>
<rect x="116.5" y="557.01" width="11.8" height="1.4" fill="#74CAF0"/>
<rect x="116.5" y="555.3" width="11.8" height="2.01" fill="#EEA0EF"/>
<rect x="116.5" y="548.75" width="11.8" height="6.85" fill="#B4E1E8"/>
<rect x="128" y="601.5" width="11.8" height="8.75" fill="#D58094"/>
<rect x="128" y="595.87" width="11.8" height="5.93" fill="#A2AADA"/>
<rect x="128" y="579.78" width="11.8" height="16.4" fill="#E6CD37"/>
<rect x="128" y="559.15" width="11.8" height="20.92" fill="#B9DA87"/>
<rect x="128" y="557.56" width="11.8" height="1.89" fill="#74CAF0"/>
<rect x="128" y="555.85" width="11.8" height="2.01" fill="#EEA0EF"/>
<rect x="128" y="548.75" width="11.8" height="7.4" fill="#B4E1E8"/>
<rect x="139.5" y="603.22" width="11.8" height="7.03" fill="#D58094"/>
<rect x="139.5" y="595.38" width="11.8" height="8.13" fill="#A2AADA"/>
<rect x="139.5" y="580.88" width="11.8" height="14.8" fill="#E6CD37"/>
<rect x="139.5" y="558.11" width="11.8" height="23.07" fill="#B9DA87"/>
<rect x="139.5" y="555.3" width="11.8" height="3.12" fill="#74CAF0"/>
<rect x="139.5" y="553.65" width="11.8" height="1.95" fill="#EEA0EF"/>
<rect x="139.5" y="548.75" width="11.8" height="5.2" fill="#B4E1E8"/>
<rect x="151" y="592.57" width="11.8" height="17.68" fill="#D58094"/>
<rect x="151" y="587" width="11.8" height="5.87" fill="#A2AADA"/>
<rect x="151" y="575.37" width="11.8" height="11.93" fill="#E6CD37"/>
<rect x="151" y="557.56" width="11.8" height="18.11" fill="#B9DA87"/>
<rect x="151" y="555.3" width="11.8" height="2.56" fill="#74CAF0"/>
<rect x="151" y="553.65" width="11.8" height="1.95" fill="#EEA0EF"/>
<rect x="151" y="548.75" width="11.8" height="5.2" fill="#B4E1E8"/>
<rect x="162.5" y="607.07" width="11.8" height="3.18" fill="#D58094"/>
<rect x="162.5" y="600.4" width="11.8" height="6.97" fill="#A2AADA"/>
<rect x="162.5" y="587" width="11.8" height="13.7" fill="#E6CD37"/>
<rect x="162.5" y="558.66" width="11.8" height="28.64" fill="#B9DA87"/>
<rect x="162.5" y="555.3" width="11.8" height="3.67" fill="#74CAF0"/>
<rect x="162.5" y="553.65" width="11.8" height="1.95" fill="#EEA0EF"/>
<rect x="162.5" y="548.75" width="11.8" height="5.2" fill="#B4E1E8"/>
<rect x="180.8" y="603.71" width="11.8" height="6.54" fill="#D58094"/>
<rect x="180.8" y="595.38" width="11.8" height="8.62" fill="#A2AADA"/>
<rect x="180.8" y="584.25" width="11.8" height="11.44" fill="#E6CD37"/>
<rect x="180.8" y="557.56" width="11.8" height="26.98" fill="#B9DA87"/>
<rect x="180.8" y="556.4" width="11.8" height="1.46" fill="#74CAF0"/>
<rect x="180.8" y="554.75" width="11.8" height="1.95" fill="#EEA0EF"/>
<rect x="180.8" y="548.75" width="11.8" height="6.3" fill="#B4E1E8"/>
<rect x="192.3" y="605.97" width="11.8" height="4.28" fill="#D58094"/>
<rect x="192.3" y="597.59" width="11.8" height="8.68" fill="#A2AADA"/>
<rect x="192.3" y="582.04" width="11.8" height="15.84" fill="#E6CD37"/>
<rect x="192.3" y="558.11" width="11.8" height="24.23" fill="#B9DA87"/>
<rect x="192.3" y="557.01" width="11.8" height="1.4" fill="#74CAF0"/>
<rect x="192.3" y="555.85" width="11.8" height="1.46" fill="#EEA0EF"/>
<rect x="192.3" y="548.75" width="11.8" height="7.4" fill="#B4E1E8"/>
<rect x="203.8" y="608.11" width="11.8" height="2.14" fill="#D58094"/>
<rect x="203.8" y="599.85" width="11.8" height="8.56" fill="#A2AADA"/>
<rect x="203.8" y="583.63" width="11.8" height="16.52" fill="#E6CD37"/>
<rect x="203.8" y="561.97" width="11.8" height="21.96" fill="#B9DA87"/>
<rect x="203.8" y="555.85" width="11.8" height="6.42" fill="#74CAF0"/>
<rect x="203.8" y="554.26" width="11.8" height="1.89" fill="#EEA0EF"/>
<rect x="203.8" y="548.75" width="11.8" height="5.81" fill="#B4E1E8"/>
<rect x="215.3" y="600.95" width="11.8" height="9.3" fill="#D58094"/>
<rect x="215.3" y="594.28" width="11.8" height="6.97" fill="#A2AADA"/>
<rect x="215.3" y="583.14" width="11.8" height="11.44" fill="#E6CD37"/>
<rect x="215.3" y="558.66" width="11.8" height="24.78" fill="#B9DA87"/>
<rect x="215.3" y="555.3" width="11.8" height="3.67" fill="#74CAF0"/>
<rect x="215.3" y="553.03" width="11.8" height="2.56" fill="#EEA0EF"/>
<rect x="215.3" y="548.75" width="11.8" height="4.58" fill="#B4E1E8"/>
<rect x="226.8" y="605.97" width="11.8" height="4.28" fill="#D58094"/>
<rect x="226.8" y="598.69" width="11.8" height="7.58" fill="#A2AADA"/>
<rect x="226.8" y="583.63" width="11.8" height="15.36" fill="#E6CD37"/>
<rect x="226.8" y="559.77" width="11.8" height="24.17" fill="#B9DA87"/>
<rect x="226.8" y="556.4" width="11.8" height="3.67" fill="#74CAF0"/>
<rect x="226.8" y="554.75" width="11.8" height="1.95" fill="#EEA0EF"/>
<rect x="226.8" y="548.75" width="11.8" height="6.3" fill="#B4E1E8"/>
<rect x="245.1" y="607.62" width="11.8" height="2.63" fill="#D58094"/>
<rect x="245.1" y="598.14" width="11.8" height="9.79" fill="#A2AADA"/>
<rect x="245.1" y="575.92" width="11.8" height="22.52" fill="#E6CD37"/>
<rect x="245.1" y="558.66" width="11.8" height="17.56" fill="#B9DA87"/>
<rect x="245.1" y="557.01" width="11.8" height="1.95" fill="#74CAF0"/>
<rect x="245.1" y="554.75" width="11.8" height="2.56" fill="#EEA0EF"/>
<rect x="245.1" y="548.75" width="11.8" height="6.3" fill="#B4E1E8"/>
<rect x="256.6" y="590.98" width="11.8" height="19.27" fill="#D58094"/>
<rect x="256.6" y="584.86" width="11.8" height="6.42" fill="#A2AADA"/>
<rect x="256.6" y="575.37" width="11.8" height="9.79" fill="#E6CD37"/>
<rect x="256.6" y="558.66" width="11.8" height="17.01" fill="#B9DA87"/>
<rect x="256.6" y="555.3" width="11.8" height="3.67" fill="#74CAF0"/>
<rect x="256.6" y="553.03" width="11.8" height="2.56" fill="#EEA0EF"/>
<rect x="256.6" y="548.75" width="11.8" height="4.58" fill="#B4E1E8"/>
<rect x="268.1" y="583.14" width="11.8" height="27.11" fill="#D58094"/>
<rect x="268.1" y="579.23" width="11.8" height="4.22" fill="#A2AADA"/>
<rect x="268.1" y="573.11" width="11.8" height="6.42" fill="#E6CD37"/>
<rect x="268.1" y="560.87" width="11.8" height="12.54" fill="#B9DA87"/>
<rect x="268.1" y="556.4" width="11.8" height="4.77" fill="#74CAF0"/>
<rect x="268.1" y="554.75" width="11.8" height="1.95" fill="#EEA0EF"/>
<rect x="268.1" y="548.75" width="11.8" height="6.3" fill="#B4E1E8"/>
<rect x="279.6" y="580.33" width="11.8" height="29.92" fill="#D58094"/>
<rect x="279.6" y="576.47" width="11.8" height="4.16" fill="#A2AADA"/>
<rect x="279.6" y="567.54" width="11.8" height="9.24" fill="#E6CD37"/>
<rect x="279.6" y="555.85" width="11.8" height="11.99" fill="#B9DA87"/>
<rect x="279.6" y="554.26" width="11.8" height="1.89" fill="#74CAF0"/>
<rect x="279.6" y="552.54" width="11.8" height="2.01" fill="#EEA0EF"/>
<rect x="279.6" y="548.75" width="11.8" height="4.09" fill="#B4E1E8"/>
<rect x="291.1" y="584.86" width="11.8" height="25.39" fill="#D58094"/>
<rect x="291.1" y="579.23" width="11.8" height="5.93" fill="#A2AADA"/>
<rect x="291.1" y="575.37" width="11.8" height="4.16" fill="#E6CD37"/>
<rect x="291.1" y="557.56" width="11.8" height="18.11" fill="#B9DA87"/>
<rect x="291.1" y="554.75" width="11.8" height="3.12" fill="#74CAF0"/>
<rect x="291.1" y="553.03" width="11.8" height="2.01" fill="#EEA0EF"/>
<rect x="291.1" y="548.75" width="11.8" height="4.58" fill="#B4E1E8"/>
<rect x="309.4" y="598.69" width="11.8" height="11.56" fill="#D58094"/>
<rect x="309.4" y="592.57" width="11.8" height="6.42" fill="#A2AADA"/>
<rect x="309.4" y="580.88" width="11.8" height="11.99" fill="#E6CD37"/>
<rect x="309.4" y="557.01" width="11.8" height="24.17" fill="#B9DA87"/>
<rect x="309.4" y="555.85" width="11.8" height="1.46" fill="#74CAF0"/>
<rect x="309.4" y="553.65" width="11.8" height="2.5" fill="#EEA0EF"/>
<rect x="309.4" y="548.75" width="11.8" height="5.2" fill="#B4E1E8"/>
<rect x="320.9" y="605.36" width="11.8" height="4.89" fill="#D58094"/>
<rect x="320.9" y="593.12" width="11.8" height="12.54" fill="#A2AADA"/>
<rect x="320.9" y="575.37" width="11.8" height="18.05" fill="#E6CD37"/>
<rect x="320.9" y="558.66" width="11.8" height="17.01" fill="#B9DA87"/>
<rect x="320.9" y="557.01" width="11.8" height="1.95" fill="#74CAF0"/>
<rect x="320.9" y="555.3" width="11.8" height="2.01" fill="#EEA0EF"/>
<rect x="320.9" y="548.75" width="11.8" height="6.85" fill="#B4E1E8"/>
<rect x="332.4" y="583.63" width="11.8" height="26.62" fill="#D58094"/>
<rect x="332.4" y="580.33" width="11.8" height="3.6" fill="#A2AADA"/>
<rect x="332.4" y="572.62" width="11.8" height="8.01" fill="#E6CD37"/>
<rect x="332.4" y="556.4" width="11.8" height="16.52" fill="#B9DA87"/>
<rect x="332.4" y="554.26" width="11.8" height="2.44" fill="#74CAF0"/>
<rect x="332.4" y="551.99" width="11.8" height="2.56" fill="#EEA0EF"/>
<rect x="332.4" y="548.75" width="11.8" height="3.54" fill="#B4E1E8"/>
<rect x="343.9" y="573.11" width="11.8" height="37.14" fill="#D58094"/>
<rect x="343.9" y="571.39" width="11.8" height="2.01" fill="#A2AADA"/>
<rect x="343.9" y="568.64" width="11.8" height="3.05" fill="#E6CD37"/>
<rect x="343.9" y="556.4" width="11.8" height="12.54" fill="#B9DA87"/>
<rect x="343.9" y="554.26" width="11.8" height="2.44" fill="#74CAF0"/>
<rect x="343.9" y="552.54" width="11.8" height="2.01" fill="#EEA0EF"/>
<rect x="343.9" y="548.75" width="11.8" height="4.09" fill="#B4E1E8"/>
<rect x="355.4" y="584.86" width="11.8" height="25.39" fill="#D58094"/>
<rect x="355.4" y="579.78" width="11.8" height="5.38" fill="#A2AADA"/>
<rect x="355.4" y="570.9" width="11.8" height="9.17" fill="#E6CD37"/>
<rect x="355.4" y="558.11" width="11.8" height="13.09" fill="#B9DA87"/>
<rect x="355.4" y="555.3" width="11.8" height="3.12" fill="#74CAF0"/>
<rect x="355.4" y="553.03" width="11.8" height="2.56" fill="#EEA0EF"/>
<rect x="355.4" y="548.75" width="11.8" height="4.58" fill="#B4E1E8"/>
<rect x="373.7" y="607.07" width="11.8" height="3.18" fill="#D58094"/>
<rect x="373.7" y="601.5" width="11.8" height="5.87" fill="#A2AADA"/>
<rect x="373.7" y="588.16" width="11.8" height="13.64" fill="#E6CD37"/>
<rect x="373.7" y="559.15" width="11.8" height="29.31" fill="#B9DA87"/>
<rect x="373.7" y="557.56" width="11.8" height="1.89" fill="#74CAF0"/>
<rect x="373.7" y="555.3" width="11.8" height="2.56" fill="#EEA0EF"/>
<rect x="373.7" y="548.75" width="11.8" height="6.85" fill="#B4E1E8"/>
<rect x="385.2" y="607.62" width="11.8" height="2.63" fill="#D58094"/>
<rect x="385.2" y="601.5" width="11.8" height="6.42" fill="#A2AADA"/>
<rect x="385.2" y="590.98" width="11.8" height="10.83" fill="#E6CD37"/>
<rect x="385.2" y="560.38" width="11.8" height="30.9" fill="#B9DA87"/>
<rect x="385.2" y="558.11" width="11.8" height="2.56" fill="#74CAF0"/>
<rect x="385.2" y="555.85" width="11.8" height="2.56" fill="#EEA0EF"/>
<rect x="385.2" y="548.75" width="11.8" height="7.4" fill="#B4E1E8"/>
<rect x="396.7" y="601.5" width="11.8" height="8.75" fill="#D58094"/>
<rect x="396.7" y="593.73" width="11.8" height="8.07" fill="#A2AADA"/>
<rect x="396.7" y="581.49" width="11.8" height="12.54" fill="#E6CD37"/>
<rect x="396.7" y="558.66" width="11.8" height="23.13" fill="#B9DA87"/>
<rect x="396.7" y="556.4" width="11.8" height="2.56" fill="#74CAF0"/>
<rect x="396.7" y="554.26" width="11.8" height="2.44" fill="#EEA0EF"/>
<rect x="396.7" y="548.75" width="11.8" height="5.81" fill="#B4E1E8"/>
<rect x="408.2" y="588.16" width="11.8" height="22.09" fill="#D58094"/>
<rect x="408.2" y="583.14" width="11.8" height="5.32" fill="#A2AADA"/>
<rect x="408.2" y="575.92" width="11.8" height="7.52" fill="#E6CD37"/>
<rect x="408.2" y="559.77" width="11.8" height="16.46" fill="#B9DA87"/>
<rect x="408.2" y="558.11" width="11.8" height="1.95" fill="#74CAF0"/>
<rect x="408.2" y="555.3" width="11.8" height="3.12" fill="#EEA0EF"/>
<rect x="408.2" y="548.75" width="11.8" height="6.85" fill="#B4E1E8"/>
<rect x="419.7" y="585.9" width="11.8" height="24.35" fill="#D58094"/>
<rect x="419.7" y="582.59" width="11.8" height="3.6" fill="#A2AADA"/>
<rect x="419.7" y="577.02" width="11.8" height="5.87" fill="#E6CD37"/>
<rect x="419.7" y="559.77" width="11.8" height="17.56" fill="#B9DA87"/>
<rect x="419.7" y="557.01" width="11.8" height="3.05" fill="#74CAF0"/>
<rect x="419.7" y="554.26" width="11.8" height="3.05" fill="#EEA0EF"/>
<rect x="419.7" y="548.75" width="11.8" height="5.81" fill="#B4E1E8"/>
<rect x="438" y="607.07" width="11.8" height="3.18" fill="#D58094"/>
<rect x="438" y="598.14" width="11.8" height="9.24" fill="#A2AADA"/>
<rect x="438" y="582.04" width="11.8" height="16.4" fill="#E6CD37"/>
<rect x="438" y="558.11" width="11.8" height="24.23" fill="#B9DA87"/>
<rect x="438" y="557.01" width="11.8" height="1.4" fill="#74CAF0"/>
<rect x="438" y="554.75" width="11.8" height="2.56" fill="#EEA0EF"/>
<rect x="438" y="548.75" width="11.8" height="6.3" fill="#B4E1E8"/>
<rect x="449.5" y="604.81" width="11.8" height="5.44" fill="#D58094"/>
<rect x="449.5" y="595.87" width="11.8" height="9.24" fill="#A2AADA"/>
<rect x="449.5" y="583.63" width="11.8" height="12.54" fill="#E6CD37"/>
<rect x="449.5" y="558.66" width="11.8" height="25.27" fill="#B9DA87"/>
<rect x="449.5" y="557.56" width="11.8" height="1.4" fill="#74CAF0"/>
<rect x="449.5" y="555.3" width="11.8" height="2.56" fill="#EEA0EF"/>
<rect x="449.5" y="548.75" width="11.8" height="6.85" fill="#B4E1E8"/>
<rect x="461" y="605.97" width="11.8" height="4.28" fill="#D58094"/>
<rect x="461" y="599.85" width="11.8" height="6.42" fill="#A2AADA"/>
<rect x="461" y="590.37" width="11.8" height="9.79" fill="#E6CD37"/>
<rect x="461" y="561.42" width="11.8" height="29.25" fill="#B9DA87"/>
<rect x="461" y="560.87" width="11.8" height="0.85" fill="#74CAF0"/>
<rect x="461" y="559.15" width="11.8" height="2.01" fill="#EEA0EF"/>
<rect x="461" y="548.75" width="11.8" height="10.7" fill="#B4E1E8"/>
<rect x="472.5" y="574.76" width="11.8" height="35.49" fill="#D58094"/>
<rect x="472.5" y="572.62" width="11.8" height="2.44" fill="#A2AADA"/>
<rect x="472.5" y="569.25" width="11.8" height="3.67" fill="#E6CD37"/>
<rect x="472.5" y="553.65" width="11.8" height="15.91" fill="#B9DA87"/>
<rect x="472.5" y="552.54" width="11.8" height="1.4" fill="#74CAF0"/>
<rect x="472.5" y="551.44" width="11.8" height="1.4" fill="#EEA0EF"/>
<rect x="472.5" y="548.75" width="11.8" height="2.99" fill="#B4E1E8"/>
<rect x="484" y="590.98" width="11.8" height="19.27" fill="#D58094"/>
<rect x="484" y="585.9" width="11.8" height="5.38" fill="#A2AADA"/>
<rect x="484" y="579.23" width="11.8" height="6.97" fill="#E6CD37"/>
<rect x="484" y="557.56" width="11.8" height="21.96" fill="#B9DA87"/>
<rect x="484" y="556.4" width="11.8" height="1.46" fill="#74CAF0"/>
<rect x="484" y="554.26" width="11.8" height="2.44" fill="#EEA0EF"/>
<rect x="484" y="548.75" width="11.8" height="5.81" fill="#B4E1E8"/>
<text transform="translate(59.85,622.3) rotate(-90)" text-anchor="middle" font-size="7.6">RT</text>
<text transform="translate(71.35,622.3) rotate(-90)" text-anchor="middle" font-size="7.6">RTC</text>
<text transform="translate(82.85,622.3) rotate(-90)" text-anchor="middle" font-size="7.6">RTO</text>
<text transform="translate(94.35,622.3) rotate(-90)" text-anchor="middle" font-size="7.6">DT1O</text>
<text transform="translate(105.85,622.3) rotate(-90)" text-anchor="middle" font-size="7.6">DT2O</text>
<text x="80.95" y="647.3" text-anchor="middle" font-size="10">0612</text>
<text transform="translate(124.15,622.3) rotate(-90)" text-anchor="middle" font-size="7.6">RT</text>
<text transform="translate(135.65,622.3) rotate(-90)" text-anchor="middle" font-size="7.6">RTC</text>
<text transform="translate(147.15,622.3) rotate(-90)" text-anchor="middle" font-size="7.6">RTO</text>
<text transform="translate(158.65,622.3) rotate(-90)" text-anchor="middle" font-size="7.6">DT1O</text>
<text transform="translate(170.15,622.3) rotate(-90)" text-anchor="middle" font-size="7.6">DT2O</text>
<text x="145.25" y="647.3" text-anchor="middle" font-size="10">0702</text>
<text transform="translate(188.45,622.3) rotate(-90)" text-anchor="middle" font-size="7.6">RT</text>
<text transform="translate(199.95,622.3) rotate(-90)" text-anchor="middle" font-size="7.6">RTC</text>
<text transform="translate(211.45,622.3) rotate(-90)" text-anchor="middle" font-size="7.6">RTO</text>
<text transform="translate(222.95,622.3) rotate(-90)" text-anchor="middle" font-size="7.6">DT1O</text>
<text transform="translate(234.45,622.3) rotate(-90)" text-anchor="middle" font-size="7.6">DT2O</text>
<text x="209.55" y="647.3" text-anchor="middle" font-size="10">0722</text>
<text transform="translate(252.75,622.3) rotate(-90)" text-anchor="middle" font-size="7.6">RT</text>
<text transform="translate(264.25,622.3) rotate(-90)" text-anchor="middle" font-size="7.6">RTC</text>
<text transform="translate(275.75,622.3) rotate(-90)" text-anchor="middle" font-size="7.6">RTO</text>
<text transform="translate(287.25,622.3) rotate(-90)" text-anchor="middle" font-size="7.6">DT1O</text>
<text transform="translate(298.75,622.3) rotate(-90)" text-anchor="middle" font-size="7.6">DT2O</text>
<text x="273.85" y="647.3" text-anchor="middle" font-size="10">0811</text>
<text transform="translate(317.05,622.3) rotate(-90)" text-anchor="middle" font-size="7.6">RT</text>
<text transform="translate(328.55,622.3) rotate(-90)" text-anchor="middle" font-size="7.6">RTC</text>
<text transform="translate(340.05,622.3) rotate(-90)" text-anchor="middle" font-size="7.6">RTO</text>
<text transform="translate(351.55,622.3) rotate(-90)" text-anchor="middle" font-size="7.6">DT1O</text>
<text transform="translate(363.05,622.3) rotate(-90)" text-anchor="middle" font-size="7.6">DT2O</text>
<text x="338.15" y="647.3" text-anchor="middle" font-size="10">0831</text>
<text transform="translate(381.35,622.3) rotate(-90)" text-anchor="middle" font-size="7.6">RT</text>
<text transform="translate(392.85,622.3) rotate(-90)" text-anchor="middle" font-size="7.6">RTC</text>
<text transform="translate(404.35,622.3) rotate(-90)" text-anchor="middle" font-size="7.6">RTO</text>
<text transform="translate(415.85,622.3) rotate(-90)" text-anchor="middle" font-size="7.6">DT1O</text>
<text transform="translate(427.35,622.3) rotate(-90)" text-anchor="middle" font-size="7.6">DT2O</text>
<text x="402.45" y="647.3" text-anchor="middle" font-size="10">0920</text>
<text transform="translate(445.65,622.3) rotate(-90)" text-anchor="middle" font-size="7.6">RT</text>
<text transform="translate(457.15,622.3) rotate(-90)" text-anchor="middle" font-size="7.6">RTC</text>
<text transform="translate(468.65,622.3) rotate(-90)" text-anchor="middle" font-size="7.6">RTO</text>
<text transform="translate(480.15,622.3) rotate(-90)" text-anchor="middle" font-size="7.6">DT1O</text>
<text transform="translate(491.65,622.3) rotate(-90)" text-anchor="middle" font-size="7.6">DT2O</text>
<text x="466.75" y="647.3" text-anchor="middle" font-size="10">1010</text>
<g class="lb" font-size="8.0" text-anchor="middle"><text x="57.95" y="37.1">a</text>
<text x="57.95" y="43.36">a</text>
<text x="57.95" y="47.96">a</text>
<text x="57.95" y="60.82">a</text>
<text x="57.95" y="75.94">a</text>
<text x="57.95" y="82.91">a</text>
<text x="57.95" y="90.62">a</text>
<text x="69.45" y="37.38">a</text>
<text x="69.45" y="42.77">a</text>
<text x="69.45" y="49.75">a</text>
<text x="69.45" y="61.62">a</text>
<text x="69.45" y="74.27">a</text>
<text x="69.45" y="83.22">a</text>
<text x="69.45" y="90.62">a</text>
<text x="80.95" y="40.95">a</text>
<text x="80.95" y="50.95">a</text>
<text x="80.95" y="57.12">a</text>
<text x="80.95" y="66.1">a</text>
<text x="80.95" y="74.27">a</text>
<text x="80.95" y="80.72">a</text>
<text x="80.95" y="89.82">a</text>
<text x="92.45" y="38.49">a</text>
<text x="92.45" y="45.89">a</text>
<text x="92.45" y="51.44">a</text>
<text x="92.45" y="60.2">a</text>
<text x="92.45" y="68.38">a</text>
<text x="92.45" y="73.96">a</text>
<text x="92.45" y="86.15">a</text>
<text x="103.95" y="38.49">a</text>
<text x="103.95" y="46.2">a</text>
<text x="103.95" y="51.75">a</text>
<text x="103.95" y="60.2">a</text>
<text x="103.95" y="70.69">a</text>
<text x="103.95" y="78.59">a</text>
<text x="103.95" y="88.46">a</text>
<text x="122.25" y="38.18">a</text>
<text x="122.25" y="46.68">ab</text>
<text x="122.25" y="52.98">b</text>
<text x="122.25" y="65.02">a</text>
<text x="122.25" y="79.21">a</text>
<text x="122.25" y="86.69">ab</text>
<text x="122.25" y="92.32">a</text>
<text x="133.75" y="35.65">a</text>
<text x="133.75" y="41.95">b</text>
<text x="133.75" y="48.25">b</text>
<text x="133.75" y="56.69">a</text>
<text x="133.75" y="75.81">a</text>
<text x="133.75" y="86.69">ab</text>
<text x="133.75" y="92.32">a</text>
<text x="145.25" y="36.66">a</text>
<text x="145.25" y="42.96">b</text>
<text x="145.25" y="49.26">b</text>
<text x="145.25" y="57">a</text>
<text x="145.25" y="71.19">a</text>
<text x="145.25" y="77.59">b</text>
<text x="145.25" y="87.23">a</text>
<text x="156.75" y="38.79">a</text>
<text x="156.75" y="48.2">a</text>
<text x="156.75" y="58.54">a</text>
<text x="156.75" y="70.42">a</text>
<text x="156.75" y="79.21">a</text>
<text x="156.75" y="86.69">ab</text>
<text x="156.75" y="92.32">a</text>
<text x="168.25" y="39.31">a</text>
<text x="168.25" y="45.61">b</text>
<text x="168.25" y="50.21">a</text>
<text x="168.25" y="56.07">a</text>
<text x="168.25" y="64.4">a</text>
<text x="168.25" y="71.19">a</text>
<text x="168.25" y="85.07">a</text>
<text x="186.55" y="37.65">a</text>
<text x="186.55" y="44.29">a</text>
<text x="186.55" y="50.98">a</text>
<text x="186.55" y="62.78">b</text>
<text x="186.55" y="72.61">a</text>
<text x="186.55" y="78.47">a</text>
<text x="186.55" y="87.85">a</text>
<text x="198.05" y="34.65">a</text>
<text x="198.05" y="40.95">ab</text>
<text x="198.05" y="45.55">a</text>
<text x="198.05" y="51.85">b</text>
<text x="198.05" y="56.45">a</text>
<text x="198.05" y="61.05">a</text>
<text x="198.05" y="78.04">a</text>
<text x="209.55" y="38.47">a</text>
<text x="209.55" y="44.77">b</text>
<text x="209.55" y="49.37">a</text>
<text x="209.55" y="57.72">b</text>
<text x="209.55" y="64.46">a</text>
<text x="209.55" y="69.24">a</text>
<text x="209.55" y="83.37">a</text>
<text x="221.05" y="37.33">a</text>
<text x="221.05" y="43.63">ab</text>
<text x="221.05" y="48.23">a</text>
<text x="221.05" y="61.01">a</text>
<text x="221.05" y="77.05">a</text>
<text x="221.05" y="83.84">a</text>
<text x="221.05" y="91.24">a</text>
<text x="232.55" y="37.87">a</text>
<text x="232.55" y="44.94">ab</text>
<text x="232.55" y="49.54">a</text>
<text x="232.55" y="57.85">b</text>
<text x="232.55" y="65.02">a</text>
<text x="232.55" y="70.05">a</text>
<text x="232.55" y="83.93">a</text>
<text x="250.85" y="38.49">a</text>
<text x="250.85" y="46.51">a</text>
<text x="250.85" y="51.57">a</text>
<text x="250.85" y="63.37">ab</text>
<text x="250.85" y="73.48">a</text>
<text x="250.85" y="79.78">b</text>
<text x="250.85" y="87.23">a</text>
<text x="262.35" y="36.17">a</text>
<text x="262.35" y="40.77">a</text>
<text x="262.35" y="45.37">a</text>
<text x="262.35" y="58.54">a</text>
<text x="262.35" y="76.22">a</text>
<text x="262.35" y="83.31">a</text>
<text x="262.35" y="91.55">a</text>
<text x="273.85" y="37.1">a</text>
<text x="273.85" y="42.9">a</text>
<text x="273.85" y="47.5">a</text>
<text x="273.85" y="56.61">b</text>
<text x="273.85" y="63.31">a</text>
<text x="273.85" y="69.61">b</text>
<text x="273.85" y="82.29">a</text>
<text x="285.35" y="36.72">a</text>
<text x="285.35" y="41.32">a</text>
<text x="285.35" y="45.92">a</text>
<text x="285.35" y="56.37">ab</text>
<text x="285.35" y="70.08">a</text>
<text x="285.35" y="77.03">b</text>
<text x="285.35" y="87.23">a</text>
<text x="296.85" y="37.87">a</text>
<text x="296.85" y="42.97">a</text>
<text x="296.85" y="47.57">a</text>
<text x="296.85" y="56.92">ab</text>
<text x="296.85" y="64.73">a</text>
<text x="296.85" y="71.03">b</text>
<text x="296.85" y="83.65">a</text>
<text x="315.15" y="37.38">a</text>
<text x="315.15" y="42.62">c</text>
<text x="315.15" y="47.22">a</text>
<text x="315.15" y="56.4">ab</text>
<text x="315.15" y="66.25">a</text>
<text x="315.15" y="72.11">a</text>
<text x="315.15" y="85.07">a</text>
<text x="326.65" y="37.03">a</text>
<text x="326.65" y="43.33">abc</text>
<text x="326.65" y="47.93">a</text>
<text x="326.65" y="56.3">ab</text>
<text x="326.65" y="60.97">a</text>
<text x="326.65" y="67.27">b</text>
<text x="326.65" y="80.57">a</text>
<text x="338.15" y="36.94">a</text>
<text x="338.15" y="43.24">bc</text>
<text x="338.15" y="47.84">a</text>
<text x="338.15" y="58.23">a</text>
<text x="338.15" y="69.31">a</text>
<text x="338.15" y="75.61">ab</text>
<text x="338.15" y="86.15">a</text>
<text x="349.65" y="37.87">a</text>
<text x="349.65" y="44.78">a</text>
<text x="349.65" y="49.59">a</text>
<text x="349.65" y="59.11">ab</text>
<text x="349.65" y="65.38">a</text>
<text x="349.65" y="71.68">b</text>
<text x="349.65" y="83.37">a</text>
<text x="361.15" y="37.87">a</text>
<text x="361.15" y="45.35">ab</text>
<text x="361.15" y="51.91">a</text>
<text x="361.15" y="59.21">b</text>
<text x="361.15" y="63.81">a</text>
<text x="361.15" y="70.11">ab</text>
<text x="361.15" y="83.37">a</text>
<text x="379.45" y="37.1">a</text>
<text x="379.45" y="42.43">a</text>
<text x="379.45" y="47.03">a</text>
<text x="379.45" y="54.34">a</text>
<text x="379.45" y="61.88">a</text>
<text x="379.45" y="66.48">a</text>
<text x="379.45" y="81.98">a</text>
<text x="390.95" y="37.65">a</text>
<text x="390.95" y="42.87">a</text>
<text x="390.95" y="47.47">a</text>
<text x="390.95" y="52.99">a</text>
<text x="390.95" y="57.72">a</text>
<text x="390.95" y="62.32">a</text>
<text x="390.95" y="79.21">a</text>
<text x="402.45" y="37.87">a</text>
<text x="402.45" y="44.05">a</text>
<text x="402.45" y="48.65">a</text>
<text x="402.45" y="57.74">a</text>
<text x="402.45" y="68.64">a</text>
<text x="402.45" y="73.24">a</text>
<text x="402.45" y="85.07">a</text>
<text x="413.95" y="36.83">a</text>
<text x="413.95" y="41.43">a</text>
<text x="413.95" y="46.03">a</text>
<text x="413.95" y="54.71">a</text>
<text x="413.95" y="64.48">a</text>
<text x="413.95" y="69.08">a</text>
<text x="413.95" y="82.29">a</text>
<text x="425.45" y="34.65">a</text>
<text x="425.45" y="39.25">a</text>
<text x="425.45" y="43.85">a</text>
<text x="425.45" y="48.45">a</text>
<text x="425.45" y="53.05">a</text>
<text x="425.45" y="57.65">a</text>
<text x="425.45" y="75.51">a</text>
<text x="443.75" y="37.1">a</text>
<text x="443.75" y="41.97">a</text>
<text x="443.75" y="46.57">a</text>
<text x="443.75" y="54.37">a</text>
<text x="443.75" y="62.32">ab</text>
<text x="443.75" y="66.92">a</text>
<text x="443.75" y="82.29">a</text>
<text x="455.25" y="37.38">a</text>
<text x="455.25" y="43.7">a</text>
<text x="455.25" y="48.51">a</text>
<text x="455.25" y="56.38">a</text>
<text x="455.25" y="63.6">b</text>
<text x="455.25" y="68.2">a</text>
<text x="455.25" y="82.29">a</text>
<text x="466.75" y="37.87">a</text>
<text x="466.75" y="44.21">a</text>
<text x="466.75" y="48.81">a</text>
<text x="466.75" y="61.93">a</text>
<text x="466.75" y="78.44">a</text>
<text x="466.75" y="85.22">a</text>
<text x="466.75" y="92.09">b</text>
<text x="478.25" y="37.87">a</text>
<text x="478.25" y="45.06">a</text>
<text x="478.25" y="50.46">a</text>
<text x="478.25" y="66.71">a</text>
<text x="478.25" y="81.5">b</text>
<text x="478.25" y="86.1">a</text>
<text x="478.25" y="92.4">b</text>
<text x="489.75" y="36.61">a</text>
<text x="489.75" y="41.21">a</text>
<text x="489.75" y="45.81">a</text>
<text x="489.75" y="59.43">a</text>
<text x="489.75" y="73.89">b</text>
<text x="489.75" y="78.49">a</text>
<text x="489.75" y="87.86">ab</text>
<text x="57.95" y="106.74">a</text>
<text x="57.95" y="114.08">b</text>
<text x="57.95" y="120.38">b</text>
<text x="57.95" y="129.23">a</text>
<text x="57.95" y="143.27">a</text>
<text x="57.95" y="151.38">a</text>
<text x="57.95" y="159.48">ab</text>
<text x="69.45" y="106.46">a</text>
<text x="69.45" y="113.94">b</text>
<text x="69.45" y="120.24">b</text>
<text x="69.45" y="131.27">a</text>
<text x="69.45" y="146.46">ab</text>
<text x="69.45" y="151.69">a</text>
<text x="69.45" y="159.48">ab</text>
<text x="80.95" y="108.44">a</text>
<text x="80.95" y="118.85">b</text>
<text x="80.95" y="128.18">a</text>
<text x="80.95" y="142.8">a</text>
<text x="80.95" y="152.1">ab</text>
<text x="80.95" y="158.4">b</text>
<text x="80.95" y="164.7">b</text>
<text x="92.45" y="108.13">a</text>
<text x="92.45" y="121.39">a</text>
<text x="92.45" y="133.04">ab</text>
<text x="92.45" y="143.39">a</text>
<text x="92.45" y="153.8">b</text>
<text x="92.45" y="158.4">a</text>
<text x="92.45" y="164.7">b</text>
<text x="103.95" y="105.31">a</text>
<text x="103.95" y="111.61">b</text>
<text x="103.95" y="117.91">b</text>
<text x="103.95" y="122.51">a</text>
<text x="103.95" y="131.28">ab</text>
<text x="103.95" y="139.13">a</text>
<text x="103.95" y="153.32">a</text>
<text x="122.25" y="105.97">a</text>
<text x="122.25" y="111.84">a</text>
<text x="122.25" y="116.44">a</text>
<text x="122.25" y="124.09">b</text>
<text x="122.25" y="144.53">a</text>
<text x="122.25" y="158.4">a</text>
<text x="122.25" y="164.7">ab</text>
<text x="133.75" y="106.46">a</text>
<text x="133.75" y="114.1">a</text>
<text x="133.75" y="118.7">a</text>
<text x="133.75" y="132.81">a</text>
<text x="133.75" y="153.09">ab</text>
<text x="133.75" y="158.4">a</text>
<text x="133.75" y="164.7">ab</text>
<text x="145.25" y="109.36">a</text>
<text x="145.25" y="119.85">a</text>
<text x="145.25" y="126.79">a</text>
<text x="145.25" y="139.37">ab</text>
<text x="145.25" y="153.71">b</text>
<text x="145.25" y="158.4">a</text>
<text x="145.25" y="164.7">b</text>
<text x="156.75" y="108.13">a</text>
<text x="156.75" y="117.38">a</text>
<text x="156.75" y="123.55">a</text>
<text x="156.75" y="135.66">ab</text>
<text x="156.75" y="149.7">ab</text>
<text x="156.75" y="157.33">a</text>
<text x="156.75" y="161.93">a</text>
<text x="168.25" y="106.46">a</text>
<text x="168.25" y="113.56">a</text>
<text x="168.25" y="118.62">a</text>
<text x="168.25" y="130.39">ab</text>
<text x="168.25" y="147.2">ab</text>
<text x="168.25" y="156.91">a</text>
<text x="168.25" y="163.21">ab</text>
<text x="186.55" y="105.66">a</text>
<text x="186.55" y="112.45">a</text>
<text x="186.55" y="119.16">b</text>
<text x="186.55" y="130.11">b</text>
<text x="186.55" y="147.46">a</text>
<text x="186.55" y="159.01">b</text>
<text x="186.55" y="163.61">a</text>
<text x="198.05" y="108.75">a</text>
<text x="198.05" y="119.54">a</text>
<text x="198.05" y="126.87">b</text>
<text x="198.05" y="132.96">c</text>
<text x="198.05" y="140.19">c</text>
<text x="198.05" y="146.49">b</text>
<text x="198.05" y="155.64">a</text>
<text x="209.55" y="108.44">a</text>
<text x="209.55" y="118.93">a</text>
<text x="209.55" y="131.88">a</text>
<text x="209.55" y="145.57">bc</text>
<text x="209.55" y="152.94">bc</text>
<text x="209.55" y="159.24">b</text>
<text x="209.55" y="163.84">a</text>
<text x="221.05" y="107.6">a</text>
<text x="221.05" y="114.7">a</text>
<text x="221.05" y="123.68">a</text>
<text x="221.05" y="137.67">bc</text>
<text x="221.05" y="147.42">bc</text>
<text x="221.05" y="154.17">b</text>
<text x="221.05" y="159.49">a</text>
<text x="232.55" y="104.28">a</text>
<text x="232.55" y="108.88">a</text>
<text x="232.55" y="115.18">b</text>
<text x="232.55" y="126.48">a</text>
<text x="232.55" y="146.92">b</text>
<text x="232.55" y="154.71">a</text>
<text x="232.55" y="160.88">a</text>
<text x="250.85" y="102.84">a</text>
<text x="250.85" y="107.44">a</text>
<text x="250.85" y="112.04">a</text>
<text x="250.85" y="122.26">a</text>
<text x="250.85" y="132.06">a</text>
<text x="250.85" y="138.36">ab</text>
<text x="250.85" y="151.64">ab</text>
<text x="262.35" y="104">a</text>
<text x="262.35" y="108.6">a</text>
<text x="262.35" y="113.2">a</text>
<text x="262.35" y="123.34">a</text>
<text x="262.35" y="134.29">a</text>
<text x="262.35" y="140.75">ab</text>
<text x="262.35" y="154.17">ab</text>
<text x="273.85" y="104.52">a</text>
<text x="273.85" y="109.3">a</text>
<text x="273.85" y="113.9">a</text>
<text x="273.85" y="126.79">a</text>
<text x="273.85" y="141.6">a</text>
<text x="273.85" y="149.16">a</text>
<text x="273.85" y="158.65">b</text>
<text x="285.35" y="104.78">a</text>
<text x="285.35" y="109.38">a</text>
<text x="285.35" y="113.98">a</text>
<text x="285.35" y="120.78">a</text>
<text x="285.35" y="126.34">a</text>
<text x="285.35" y="132.64">b</text>
<text x="285.35" y="146.85">a</text>
<text x="296.85" y="105.97">a</text>
<text x="296.85" y="111.55">a</text>
<text x="296.85" y="116.15">a</text>
<text x="296.85" y="124.17">a</text>
<text x="296.85" y="132.32">a</text>
<text x="296.85" y="138.62">ab</text>
<text x="296.85" y="152.48">ab</text>
<text x="315.15" y="106.74">a</text>
<text x="315.15" y="114.64">a</text>
<text x="315.15" y="120.81">a</text>
<text x="315.15" y="132.04">a</text>
<text x="315.15" y="142.99">a</text>
<text x="315.15" y="148.33">a</text>
<text x="315.15" y="156.96">a</text>
<text x="326.65" y="105.04">a</text>
<text x="326.65" y="111">a</text>
<text x="326.65" y="115.78">a</text>
<text x="326.65" y="127.84">a</text>
<text x="326.65" y="139.39">a</text>
<text x="326.65" y="143.99">a</text>
<text x="326.65" y="154.09">a</text>
<text x="338.15" y="105.35">a</text>
<text x="338.15" y="111.24">a</text>
<text x="338.15" y="115.84">a</text>
<text x="338.15" y="130.65">a</text>
<text x="338.15" y="146.07">a</text>
<text x="338.15" y="151.94">a</text>
<text x="338.15" y="159.19">a</text>
<text x="349.65" y="105.66">a</text>
<text x="349.65" y="112.76">a</text>
<text x="349.65" y="118.62">a</text>
<text x="349.65" y="127.26">a</text>
<text x="349.65" y="134.21">a</text>
<text x="349.65" y="138.81">a</text>
<text x="349.65" y="151.63">a</text>
<text x="361.15" y="104.8">a</text>
<text x="361.15" y="109.87">a</text>
<text x="361.15" y="114.47">a</text>
<text x="361.15" y="122.01">a</text>
<text x="361.15" y="127.92">a</text>
<text x="361.15" y="132.52">a</text>
<text x="361.15" y="148.23">a</text>
<text x="379.45" y="107.6">a</text>
<text x="379.45" y="117.17">a</text>
<text x="379.45" y="126.64">a</text>
<text x="379.45" y="139.29">a</text>
<text x="379.45" y="149.47">a</text>
<text x="379.45" y="154.8">a</text>
<text x="379.45" y="160.05">a</text>
<text x="390.95" y="105.35">a</text>
<text x="390.95" y="111.31">a</text>
<text x="390.95" y="118.02">ab</text>
<text x="390.95" y="128.95">a</text>
<text x="390.95" y="140.98">a</text>
<text x="390.95" y="147.15">a</text>
<text x="390.95" y="156.41">a</text>
<text x="402.45" y="105.97">a</text>
<text x="402.45" y="112.5">a</text>
<text x="402.45" y="118.8">ab</text>
<text x="402.45" y="125.56">a</text>
<text x="402.45" y="132.34">a</text>
<text x="402.45" y="136.94">a</text>
<text x="402.45" y="150.52">a</text>
<text x="413.95" y="105.97">a</text>
<text x="413.95" y="112.08">a</text>
<text x="413.95" y="118.38">b</text>
<text x="413.95" y="125.03">a</text>
<text x="413.95" y="131.74">a</text>
<text x="413.95" y="136.34">a</text>
<text x="413.95" y="150.24">a</text>
<text x="425.45" y="104.6">a</text>
<text x="425.45" y="109.2">a</text>
<text x="425.45" y="115.5">b</text>
<text x="425.45" y="122.81">a</text>
<text x="425.45" y="130.52">a</text>
<text x="425.45" y="135.12">a</text>
<text x="425.45" y="149.93">a</text>
<text x="443.75" y="106.28">a</text>
<text x="443.75" y="114.18">a</text>
<text x="443.75" y="122.2">a</text>
<text x="443.75" y="132.59">a</text>
<text x="443.75" y="139.35">a</text>
<text x="443.75" y="143.95">a</text>
<text x="443.75" y="154.94">b</text>
<text x="455.25" y="104.8">a</text>
<text x="455.25" y="109.72">a</text>
<text x="455.25" y="114.32">a</text>
<text x="455.25" y="125.1">a</text>
<text x="455.25" y="134.67">a</text>
<text x="455.25" y="139.27">a</text>
<text x="455.25" y="152.48">ab</text>
<text x="466.75" y="105.04">a</text>
<text x="466.75" y="110.43">a</text>
<text x="466.75" y="115.03">a</text>
<text x="466.75" y="123.4">a</text>
<text x="466.75" y="132.96">a</text>
<text x="466.75" y="137.56">a</text>
<text x="466.75" y="151.92">ab</text>
<text x="478.25" y="104.99">a</text>
<text x="478.25" y="109.59">a</text>
<text x="478.25" y="114.19">a</text>
<text x="478.25" y="124.54">a</text>
<text x="478.25" y="133.66">a</text>
<text x="478.25" y="138.26">a</text>
<text x="478.25" y="152.17">ab</text>
<text x="489.75" y="103.82">a</text>
<text x="489.75" y="108.42">a</text>
<text x="489.75" y="113.37">a</text>
<text x="489.75" y="121.18">a</text>
<text x="489.75" y="126.16">a</text>
<text x="489.75" y="130.76">a</text>
<text x="489.75" y="146.85">a</text>
<text x="57.95" y="175.92">a</text>
<text x="57.95" y="185.36">a</text>
<text x="57.95" y="193.38">a</text>
<text x="57.95" y="206.31">c</text>
<text x="57.95" y="220.2">ab</text>
<text x="57.95" y="226.5">b</text>
<text x="57.95" y="232.8">ab</text>
<text x="69.45" y="176.11">a</text>
<text x="69.45" y="186.13">a</text>
<text x="69.45" y="196.25">a</text>
<text x="69.45" y="213.9">bc</text>
<text x="69.45" y="220.2">b</text>
<text x="69.45" y="226.5">b</text>
<text x="69.45" y="232.8">b</text>
<text x="80.95" y="173.94">a</text>
<text x="80.95" y="178.54">a</text>
<text x="80.95" y="184.84">b</text>
<text x="80.95" y="203.87">a</text>
<text x="80.95" y="220.2">ab</text>
<text x="80.95" y="226.5">b</text>
<text x="80.95" y="232.8">ab</text>
<text x="92.45" y="173.88">a</text>
<text x="92.45" y="178.92">a</text>
<text x="92.45" y="185.22">b</text>
<text x="92.45" y="199.6">ab</text>
<text x="92.45" y="221.05">ab</text>
<text x="92.45" y="227.35">ab</text>
<text x="92.45" y="231.95">a</text>
<text x="103.95" y="174.13">a</text>
<text x="103.95" y="178.73">a</text>
<text x="103.95" y="185.03">b</text>
<text x="103.95" y="196.51">bc</text>
<text x="103.95" y="215.56">a</text>
<text x="103.95" y="225.79">a</text>
<text x="103.95" y="232.09">b</text>
<text x="122.25" y="178.7">a</text>
<text x="122.25" y="192.36">a</text>
<text x="122.25" y="203.47">a</text>
<text x="122.25" y="215.33">b</text>
<text x="122.25" y="222.75">a</text>
<text x="122.25" y="227.35">a</text>
<text x="122.25" y="231.95">a</text>
<text x="133.75" y="174.53">a</text>
<text x="133.75" y="179.13">a</text>
<text x="133.75" y="185.43">b</text>
<text x="133.75" y="202.64">a</text>
<text x="133.75" y="222.75">a</text>
<text x="133.75" y="227.35">a</text>
<text x="133.75" y="231.95">a</text>
<text x="145.25" y="175.55">a</text>
<text x="145.25" y="184.5">a</text>
<text x="145.25" y="193.5">a</text>
<text x="145.25" y="212.86">ab</text>
<text x="145.25" y="222.75">a</text>
<text x="145.25" y="227.35">a</text>
<text x="145.25" y="231.95">a</text>
<text x="156.75" y="179.19">a</text>
<text x="156.75" y="191.72">a</text>
<text x="156.75" y="200.97">a</text>
<text x="156.75" y="215.52">b</text>
<text x="156.75" y="222.75">a</text>
<text x="156.75" y="227.35">a</text>
<text x="156.75" y="231.95">a</text>
<text x="168.25" y="179.19">a</text>
<text x="168.25" y="192.86">a</text>
<text x="168.25" y="205.01">a</text>
<text x="168.25" y="218.15">b</text>
<text x="168.25" y="222.75">a</text>
<text x="168.25" y="227.35">a</text>
<text x="168.25" y="231.95">a</text>
<text x="186.55" y="175.3">a</text>
<text x="186.55" y="182.18">a</text>
<text x="186.55" y="186.78">a</text>
<text x="186.55" y="206.92">a</text>
<text x="186.55" y="222.75">a</text>
<text x="186.55" y="227.35">a</text>
<text x="186.55" y="231.95">a</text>
<text x="198.05" y="174.69">a</text>
<text x="198.05" y="181.58">a</text>
<text x="198.05" y="186.18">a</text>
<text x="198.05" y="206.34">a</text>
<text x="198.05" y="222.75">a</text>
<text x="198.05" y="227.35">a</text>
<text x="198.05" y="231.95">a</text>
<text x="209.55" y="174.16">a</text>
<text x="209.55" y="179.76">a</text>
<text x="209.55" y="184.36">a</text>
<text x="209.55" y="199.61">a</text>
<text x="209.55" y="220.34">a</text>
<text x="209.55" y="227.35">a</text>
<text x="209.55" y="231.95">a</text>
<text x="221.05" y="176.11">a</text>
<text x="221.05" y="186.13">a</text>
<text x="221.05" y="191.81">a</text>
<text x="221.05" y="204.43">a</text>
<text x="221.05" y="220.62">a</text>
<text x="221.05" y="227.35">a</text>
<text x="221.05" y="231.95">a</text>
<text x="232.55" y="176.11">a</text>
<text x="232.55" y="185.05">a</text>
<text x="232.55" y="193.5">a</text>
<text x="232.55" y="208.93">a</text>
<text x="232.55" y="222.75">a</text>
<text x="232.55" y="227.35">a</text>
<text x="232.55" y="231.95">a</text>
<text x="250.85" y="175.37">b</text>
<text x="250.85" y="181.67">b</text>
<text x="250.85" y="186.27">a</text>
<text x="250.85" y="201.31">a</text>
<text x="250.85" y="221.76">a</text>
<text x="250.85" y="227.33">a</text>
<text x="250.85" y="231.93">a</text>
<text x="262.35" y="182.28">a</text>
<text x="262.35" y="200.79">a</text>
<text x="262.35" y="212.32">a</text>
<text x="262.35" y="218.15">a</text>
<text x="262.35" y="222.75">a</text>
<text x="262.35" y="227.35">a</text>
<text x="262.35" y="231.95">a</text>
<text x="273.85" y="178.31">ab</text>
<text x="273.85" y="189.42">ab</text>
<text x="273.85" y="195.05">a</text>
<text x="273.85" y="208.31">a</text>
<text x="273.85" y="222.35">a</text>
<text x="273.85" y="227.35">a</text>
<text x="273.85" y="231.95">a</text>
<text x="285.35" y="177.54">ab</text>
<text x="285.35" y="188.65">ab</text>
<text x="285.35" y="195.97">a</text>
<text x="285.35" y="209.24">a</text>
<text x="285.35" y="222.35">a</text>
<text x="285.35" y="227.35">a</text>
<text x="285.35" y="231.95">a</text>
<text x="296.85" y="178.1">ab</text>
<text x="296.85" y="188.68">ab</text>
<text x="296.85" y="194.83">a</text>
<text x="296.85" y="208.93">a</text>
<text x="296.85" y="222.66">a</text>
<text x="296.85" y="227.35">a</text>
<text x="296.85" y="231.95">a</text>
<text x="315.15" y="174.99">a</text>
<text x="315.15" y="183.32">a</text>
<text x="315.15" y="193.74">ab</text>
<text x="315.15" y="207.2">a</text>
<text x="315.15" y="221.49">a</text>
<text x="315.15" y="227.35">a</text>
<text x="315.15" y="231.95">a</text>
<text x="326.65" y="174.99">a</text>
<text x="326.65" y="184.71">a</text>
<text x="326.65" y="193.12">b</text>
<text x="326.65" y="206.31">a</text>
<text x="326.65" y="222.6">a</text>
<text x="326.65" y="227.35">a</text>
<text x="326.65" y="231.95">a</text>
<text x="338.15" y="175.55">a</text>
<text x="338.15" y="185.58">a</text>
<text x="338.15" y="198.47">a</text>
<text x="338.15" y="215.28">a</text>
<text x="338.15" y="222.75">a</text>
<text x="338.15" y="227.35">a</text>
<text x="338.15" y="231.95">a</text>
<text x="349.65" y="174.38">a</text>
<text x="349.65" y="180.88">a</text>
<text x="349.65" y="187.18">b</text>
<text x="349.65" y="202.14">a</text>
<text x="349.65" y="222.6">a</text>
<text x="349.65" y="227.35">a</text>
<text x="349.65" y="231.95">a</text>
<text x="361.15" y="174.38">a</text>
<text x="361.15" y="182.71">a</text>
<text x="361.15" y="190.04">ab</text>
<text x="361.15" y="205.72">a</text>
<text x="361.15" y="222.29">a</text>
<text x="361.15" y="227.19">a</text>
<text x="361.15" y="231.79">a</text>
<text x="379.45" y="177.25">a</text>
<text x="379.45" y="189.77">a</text>
<text x="379.45" y="201.02">ab</text>
<text x="379.45" y="212.86">ab</text>
<text x="379.45" y="222.75">b</text>
<text x="379.45" y="227.35">a</text>
<text x="379.45" y="231.95">a</text>
<text x="390.95" y="176.97">a</text>
<text x="390.95" y="188.07">a</text>
<text x="390.95" y="196.51">ab</text>
<text x="390.95" y="212.56">ab</text>
<text x="390.95" y="222.75">b</text>
<text x="390.95" y="227.35">a</text>
<text x="390.95" y="231.95">a</text>
<text x="402.45" y="172.48">a</text>
<text x="402.45" y="177.08">a</text>
<text x="402.45" y="183.38">b</text>
<text x="402.45" y="197.64">a</text>
<text x="402.45" y="220.93">a</text>
<text x="402.45" y="227.35">a</text>
<text x="402.45" y="231.95">a</text>
<text x="413.95" y="179">a</text>
<text x="413.95" y="193.2">a</text>
<text x="413.95" y="206">a</text>
<text x="413.95" y="216.1">b</text>
<text x="413.95" y="222.58">ab</text>
<text x="413.95" y="227.35">a</text>
<text x="413.95" y="231.95">a</text>
<text x="425.45" y="178.39">a</text>
<text x="425.45" y="190.11">a</text>
<text x="425.45" y="197.44">ab</text>
<text x="425.45" y="209.78">ab</text>
<text x="425.45" y="222.53">ab</text>
<text x="425.45" y="227.13">a</text>
<text x="425.45" y="231.73">a</text>
<text x="443.75" y="177.46">a</text>
<text x="443.75" y="187.18">a</text>
<text x="443.75" y="198.16">a</text>
<text x="443.75" y="214.16">b</text>
<text x="443.75" y="222.75">a</text>
<text x="443.75" y="227.35">a</text>
<text x="443.75" y="231.95">a</text>
<text x="455.25" y="174.69">a</text>
<text x="455.25" y="182.71">a</text>
<text x="455.25" y="193.66">a</text>
<text x="455.25" y="211.35">ab</text>
<text x="455.25" y="222.75">a</text>
<text x="455.25" y="227.35">a</text>
<text x="455.25" y="231.95">a</text>
<text x="466.75" y="176.11">a</text>
<text x="466.75" y="185.32">a</text>
<text x="466.75" y="191.62">ab</text>
<text x="466.75" y="207.47">ab</text>
<text x="466.75" y="222.75">a</text>
<text x="466.75" y="227.35">a</text>
<text x="466.75" y="231.95">a</text>
<text x="478.25" y="172.99">a</text>
<text x="478.25" y="177.59">a</text>
<text x="478.25" y="183.89">b</text>
<text x="478.25" y="200.14">a</text>
<text x="478.25" y="222.75">a</text>
<text x="478.25" y="227.35">a</text>
<text x="478.25" y="231.95">a</text>
<text x="489.75" y="174.99">a</text>
<text x="489.75" y="183.32">a</text>
<text x="489.75" y="194.74">a</text>
<text x="489.75" y="210.58">b</text>
<text x="489.75" y="221.3">a</text>
<text x="489.75" y="227.35">a</text>
<text x="489.75" y="231.95">a</text>
<text x="57.95" y="245.56">a</text>
<text x="57.95" y="257.21">ab</text>
<text x="57.95" y="262.53">a</text>
<text x="57.95" y="278.45">a</text>
<text x="57.95" y="290.85">a</text>
<text x="57.95" y="295.45">a</text>
<text x="57.95" y="300.05">a</text>
<text x="69.45" y="243.53">a</text>
<text x="69.45" y="250.18">b</text>
<text x="69.45" y="254.78">a</text>
<text x="69.45" y="273.61">a</text>
<text x="69.45" y="290.85">a</text>
<text x="69.45" y="295.45">a</text>
<text x="69.45" y="300.05">a</text>
<text x="80.95" y="243.8">a</text>
<text x="80.95" y="253.64">ab</text>
<text x="80.95" y="258.24">a</text>
<text x="80.95" y="276.13">a</text>
<text x="80.95" y="290.85">a</text>
<text x="80.95" y="295.45">a</text>
<text x="80.95" y="300.05">a</text>
<text x="92.45" y="246.33">a</text>
<text x="92.45" y="259.59">ab</text>
<text x="92.45" y="264.91">a</text>
<text x="92.45" y="279.5">a</text>
<text x="92.45" y="290.85">a</text>
<text x="92.45" y="295.45">a</text>
<text x="92.45" y="300.05">a</text>
<text x="103.95" y="244.67">a</text>
<text x="103.95" y="258.49">a</text>
<text x="103.95" y="270.52">a</text>
<text x="103.95" y="282.61">a</text>
<text x="103.95" y="290.85">a</text>
<text x="103.95" y="295.45">a</text>
<text x="103.95" y="300.05">a</text>
<text x="122.25" y="246.41">bc</text>
<text x="122.25" y="256.9">b</text>
<text x="122.25" y="265.52">a</text>
<text x="122.25" y="282.85">b</text>
<text x="122.25" y="289.15">ab</text>
<text x="122.25" y="295.45">ab</text>
<text x="122.25" y="300.05">a</text>
<text x="133.75" y="242.21">c</text>
<text x="133.75" y="248.51">b</text>
<text x="133.75" y="254.81">b</text>
<text x="133.75" y="271.6">a</text>
<text x="133.75" y="289.15">a</text>
<text x="133.75" y="295.45">ab</text>
<text x="133.75" y="300.05">a</text>
<text x="145.25" y="246.08">bc</text>
<text x="145.25" y="252.38">b</text>
<text x="145.25" y="258.68">b</text>
<text x="145.25" y="274.07">a</text>
<text x="145.25" y="289.15">ab</text>
<text x="145.25" y="295.45">ab</text>
<text x="145.25" y="300.05">a</text>
<text x="156.75" y="260.06">a</text>
<text x="156.75" y="271.95">b</text>
<text x="156.75" y="278.25">b</text>
<text x="156.75" y="284.55">b</text>
<text x="156.75" y="289.15">a</text>
<text x="156.75" y="295.45">b</text>
<text x="156.75" y="300.05">a</text>
<text x="168.25" y="247.18">b</text>
<text x="168.25" y="263.52">a</text>
<text x="168.25" y="278.25">a</text>
<text x="168.25" y="282.85">c</text>
<text x="168.25" y="289.15">ab</text>
<text x="168.25" y="295.45">b</text>
<text x="168.25" y="300.05">a</text>
<text x="186.55" y="244.64">a</text>
<text x="186.55" y="253.68">a</text>
<text x="186.55" y="258.46">a</text>
<text x="186.55" y="276.97">a</text>
<text x="186.55" y="290.85">a</text>
<text x="186.55" y="295.45">a</text>
<text x="186.55" y="300.05">a</text>
<text x="198.05" y="242.97">a</text>
<text x="198.05" y="251.73">a</text>
<text x="198.05" y="257.62">a</text>
<text x="198.05" y="276.13">a</text>
<text x="198.05" y="290.85">a</text>
<text x="198.05" y="295.45">a</text>
<text x="198.05" y="300.05">a</text>
<text x="209.55" y="246.06">a</text>
<text x="209.55" y="259.88">a</text>
<text x="209.55" y="275.02">a</text>
<text x="209.55" y="286.25">a</text>
<text x="209.55" y="290.85">a</text>
<text x="209.55" y="295.45">a</text>
<text x="209.55" y="300.05">a</text>
<text x="221.05" y="244.95">a</text>
<text x="221.05" y="255.13">a</text>
<text x="221.05" y="262.13">a</text>
<text x="221.05" y="278.94">a</text>
<text x="221.05" y="290.85">a</text>
<text x="221.05" y="295.45">a</text>
<text x="221.05" y="300.05">a</text>
<text x="232.55" y="244.64">a</text>
<text x="232.55" y="254.23">a</text>
<text x="232.55" y="261.54">a</text>
<text x="232.55" y="279.22">a</text>
<text x="232.55" y="290.85">a</text>
<text x="232.55" y="295.45">a</text>
<text x="232.55" y="300.05">a</text>
<text x="250.85" y="246.61">a</text>
<text x="250.85" y="260.19">a</text>
<text x="250.85" y="271.17">a</text>
<text x="250.85" y="284.31">a</text>
<text x="250.85" y="290.85">b</text>
<text x="250.85" y="295.45">a</text>
<text x="250.85" y="300.05">a</text>
<text x="262.35" y="242.69">a</text>
<text x="262.35" y="249.48">a</text>
<text x="262.35" y="257.32">a</text>
<text x="262.35" y="277.25">a</text>
<text x="262.35" y="290.85">ab</text>
<text x="262.35" y="295.45">a</text>
<text x="262.35" y="300.05">a</text>
<text x="273.85" y="242.97">a</text>
<text x="273.85" y="249.76">a</text>
<text x="273.85" y="257.32">a</text>
<text x="273.85" y="274.44">a</text>
<text x="273.85" y="290.85">a</text>
<text x="273.85" y="295.45">a</text>
<text x="273.85" y="300.05">a</text>
<text x="285.35" y="245.25">a</text>
<text x="285.35" y="257.66">a</text>
<text x="285.35" y="268.27">a</text>
<text x="285.35" y="280.61">a</text>
<text x="285.35" y="290.85">ab</text>
<text x="285.35" y="295.45">a</text>
<text x="285.35" y="300.05">a</text>
<text x="296.85" y="244.08">a</text>
<text x="296.85" y="254.26">a</text>
<text x="296.85" y="263.79">a</text>
<text x="296.85" y="277.8">a</text>
<text x="296.85" y="290.85">ab</text>
<text x="296.85" y="295.45">a</text>
<text x="296.85" y="300.05">a</text>
<text x="315.15" y="244.95">a</text>
<text x="315.15" y="259.32">a</text>
<text x="315.15" y="272.77">a</text>
<text x="315.15" y="286.24">b</text>
<text x="315.15" y="290.85">a</text>
<text x="315.15" y="295.45">a</text>
<text x="315.15" y="300.05">a</text>
<text x="326.65" y="242.97">a</text>
<text x="326.65" y="251.68">bc</text>
<text x="326.65" y="256.28">a</text>
<text x="326.65" y="273.02">a</text>
<text x="326.65" y="290.85">a</text>
<text x="326.65" y="295.45">a</text>
<text x="326.65" y="300.05">a</text>
<text x="338.15" y="241.97">a</text>
<text x="338.15" y="246.57">c</text>
<text x="338.15" y="251.17">a</text>
<text x="338.15" y="271.08">a</text>
<text x="338.15" y="290.85">a</text>
<text x="338.15" y="295.45">a</text>
<text x="338.15" y="300.05">a</text>
<text x="349.65" y="247.72">a</text>
<text x="349.65" y="264.34">ab</text>
<text x="349.65" y="274.99">a</text>
<text x="349.65" y="286.25">b</text>
<text x="349.65" y="290.85">a</text>
<text x="349.65" y="295.45">a</text>
<text x="349.65" y="300.05">a</text>
<text x="361.15" y="244.08">a</text>
<text x="361.15" y="251.31">c</text>
<text x="361.15" y="255.91">a</text>
<text x="361.15" y="273.08">a</text>
<text x="361.15" y="290.85">a</text>
<text x="361.15" y="295.45">a</text>
<text x="361.15" y="300.05">a</text>
<text x="379.45" y="250.53">a</text>
<text x="379.45" y="268.27">a</text>
<text x="379.45" y="278.96">abc</text>
<text x="379.45" y="286.25">b</text>
<text x="379.45" y="290.85">a</text>
<text x="379.45" y="295.45">a</text>
<text x="379.45" y="300.05">a</text>
<text x="390.95" y="249.19">ab</text>
<text x="390.95" y="265.52">a</text>
<text x="390.95" y="279.5">a</text>
<text x="390.95" y="286.25">b</text>
<text x="390.95" y="290.85">a</text>
<text x="390.95" y="295.45">a</text>
<text x="390.95" y="300.05">a</text>
<text x="402.45" y="245.21">b</text>
<text x="402.45" y="254.53">ab</text>
<text x="402.45" y="261.59">bc</text>
<text x="402.45" y="276.18">ab</text>
<text x="402.45" y="290.14">a</text>
<text x="402.45" y="295.45">a</text>
<text x="402.45" y="300.05">a</text>
<text x="413.95" y="244.65">b</text>
<text x="413.95" y="251.75">b</text>
<text x="413.95" y="258.2">ab</text>
<text x="413.95" y="274.18">ab</text>
<text x="413.95" y="289.62">a</text>
<text x="413.95" y="295.45">a</text>
<text x="413.95" y="300.05">a</text>
<text x="425.45" y="246.1">ab</text>
<text x="425.45" y="254.64">b</text>
<text x="425.45" y="259.24">c</text>
<text x="425.45" y="274.44">a</text>
<text x="425.45" y="290.85">a</text>
<text x="425.45" y="295.45">a</text>
<text x="425.45" y="300.05">a</text>
<text x="443.75" y="243.8">a</text>
<text x="443.75" y="251.11">a</text>
<text x="443.75" y="255.71">a</text>
<text x="443.75" y="274.16">a</text>
<text x="443.75" y="290.85">a</text>
<text x="443.75" y="295.45">a</text>
<text x="443.75" y="300.05">a</text>
<text x="455.25" y="244.08">a</text>
<text x="455.25" y="253.12">a</text>
<text x="455.25" y="258.46">a</text>
<text x="455.25" y="276.69">a</text>
<text x="455.25" y="290.85">a</text>
<text x="455.25" y="295.45">a</text>
<text x="455.25" y="300.05">a</text>
<text x="466.75" y="242.97">a</text>
<text x="466.75" y="248.65">a</text>
<text x="466.75" y="254.02">a</text>
<text x="466.75" y="275.61">a</text>
<text x="466.75" y="290.85">a</text>
<text x="466.75" y="295.45">a</text>
<text x="466.75" y="300.05">a</text>
<text x="478.25" y="243.8">a</text>
<text x="478.25" y="253.4">a</text>
<text x="478.25" y="261.54">a</text>
<text x="478.25" y="278.39">a</text>
<text x="478.25" y="290.85">a</text>
<text x="478.25" y="295.45">a</text>
<text x="478.25" y="300.05">a</text>
<text x="489.75" y="244.64">a</text>
<text x="489.75" y="255.93">a</text>
<text x="489.75" y="266.88">a</text>
<text x="489.75" y="279.22">a</text>
<text x="489.75" y="290.48">a</text>
<text x="489.75" y="295.45">a</text>
<text x="489.75" y="300.05">a</text>
<text x="57.95" y="347.35">a</text>
<text x="57.95" y="351.95">a</text>
<text x="57.95" y="356.55">a</text>
<text x="57.95" y="361.7">a</text>
<text x="57.95" y="372.26">c</text>
<text x="57.95" y="379.18">a</text>
<text x="57.95" y="395.39">a</text>
<text x="69.45" y="347.35">a</text>
<text x="69.45" y="351.95">a</text>
<text x="69.45" y="356.55">a</text>
<text x="69.45" y="364.18">a</text>
<text x="69.45" y="384.19">a</text>
<text x="69.45" y="399.22">a</text>
<text x="69.45" y="406.56">b</text>
<text x="80.95" y="349.21">a</text>
<text x="80.95" y="353.81">a</text>
<text x="80.95" y="358.41">a</text>
<text x="80.95" y="369.44">a</text>
<text x="80.95" y="386.73">ab</text>
<text x="80.95" y="397.57">a</text>
<text x="80.95" y="405.15">b</text>
<text x="92.45" y="347.35">a</text>
<text x="92.45" y="351.95">a</text>
<text x="92.45" y="356.55">a</text>
<text x="92.45" y="362.01">a</text>
<text x="92.45" y="377.85">abc</text>
<text x="92.45" y="386.4">a</text>
<text x="92.45" y="398.18">a</text>
<text x="103.95" y="347.35">a</text>
<text x="103.95" y="351.95">a</text>
<text x="103.95" y="356.55">a</text>
<text x="103.95" y="361.7">a</text>
<text x="103.95" y="374.49">bc</text>
<text x="103.95" y="379.76">a</text>
<text x="103.95" y="394.6">a</text>
<text x="122.25" y="347.35">a</text>
<text x="122.25" y="351.95">a</text>
<text x="122.25" y="356.55">a</text>
<text x="122.25" y="364.46">a</text>
<text x="122.25" y="380.03">a</text>
<text x="122.25" y="390.06">ab</text>
<text x="122.25" y="400.41">c</text>
<text x="133.75" y="347.35">a</text>
<text x="133.75" y="351.95">a</text>
<text x="133.75" y="356.55">a</text>
<text x="133.75" y="361.92">a</text>
<text x="133.75" y="374.46">a</text>
<text x="133.75" y="383.36">ab</text>
<text x="133.75" y="397.9">bc</text>
<text x="145.25" y="347.35">a</text>
<text x="145.25" y="351.95">a</text>
<text x="145.25" y="356.55">a</text>
<text x="145.25" y="365.28">a</text>
<text x="145.25" y="380.28">a</text>
<text x="145.25" y="388.63">a</text>
<text x="145.25" y="400.41">c</text>
<text x="156.75" y="347.35">a</text>
<text x="156.75" y="351.95">a</text>
<text x="156.75" y="356.55">a</text>
<text x="156.75" y="361.15">a</text>
<text x="156.75" y="368.42">a</text>
<text x="156.75" y="374.72">b</text>
<text x="156.75" y="390.68">a</text>
<text x="168.25" y="347.35">a</text>
<text x="168.25" y="351.95">a</text>
<text x="168.25" y="356.55">a</text>
<text x="168.25" y="361.15">a</text>
<text x="168.25" y="370.74">a</text>
<text x="168.25" y="377.04">ab</text>
<text x="168.25" y="393.46">ab</text>
<text x="186.55" y="347.35">a</text>
<text x="186.55" y="351.95">a</text>
<text x="186.55" y="356.55">a</text>
<text x="186.55" y="362.85">ab</text>
<text x="186.55" y="369.67">ab</text>
<text x="186.55" y="375.97">b</text>
<text x="186.55" y="392.91">ab</text>
<text x="198.05" y="347.35">a</text>
<text x="198.05" y="351.95">a</text>
<text x="198.05" y="356.55">a</text>
<text x="198.05" y="365.56">a</text>
<text x="198.05" y="383.34">a</text>
<text x="198.05" y="393.92">a</text>
<text x="198.05" y="402.92">c</text>
<text x="209.55" y="347.35">a</text>
<text x="209.55" y="351.95">a</text>
<text x="209.55" y="356.55">a</text>
<text x="209.55" y="365.83">a</text>
<text x="209.55" y="383.06">a</text>
<text x="209.55" y="392.02">b</text>
<text x="209.55" y="400.72">c</text>
<text x="221.05" y="347.35">a</text>
<text x="221.05" y="351.95">a</text>
<text x="221.05" y="356.55">a</text>
<text x="221.05" y="362.85">b</text>
<text x="221.05" y="369.15">b</text>
<text x="221.05" y="375.45">b</text>
<text x="221.05" y="388.48">a</text>
<text x="232.55" y="347.35">a</text>
<text x="232.55" y="351.95">a</text>
<text x="232.55" y="356.55">a</text>
<text x="232.55" y="362.85">ab</text>
<text x="232.55" y="372.47">ab</text>
<text x="232.55" y="378.77">b</text>
<text x="232.55" y="394.59">b</text>
<text x="250.85" y="347.35">a</text>
<text x="250.85" y="353.65">ab</text>
<text x="250.85" y="358.25">a</text>
<text x="250.85" y="368.04">a</text>
<text x="250.85" y="386.15">a</text>
<text x="250.85" y="395.58">a</text>
<text x="250.85" y="404.02">b</text>
<text x="262.35" y="348.36">a</text>
<text x="262.35" y="352.96">a</text>
<text x="262.35" y="357.56">a</text>
<text x="262.35" y="367.21">a</text>
<text x="262.35" y="384.5">a</text>
<text x="262.35" y="394.75">a</text>
<text x="262.35" y="404.02">b</text>
<text x="273.85" y="347.35">a</text>
<text x="273.85" y="353.65">ab</text>
<text x="273.85" y="358.25">a</text>
<text x="273.85" y="363.32">a</text>
<text x="273.85" y="376.12">a</text>
<text x="273.85" y="383.37">a</text>
<text x="273.85" y="396.8">a</text>
<text x="285.35" y="348.74">a</text>
<text x="285.35" y="353.34">a</text>
<text x="285.35" y="357.94">a</text>
<text x="285.35" y="365.56">a</text>
<text x="285.35" y="377.28">a</text>
<text x="285.35" y="384.19">a</text>
<text x="285.35" y="397.05">a</text>
<text x="296.85" y="347.8">a</text>
<text x="296.85" y="354.1">ab</text>
<text x="296.85" y="358.7">a</text>
<text x="296.85" y="364.7">a</text>
<text x="296.85" y="376.94">a</text>
<text x="296.85" y="384.74">a</text>
<text x="296.85" y="397.35">a</text>
<text x="315.15" y="348.1">a</text>
<text x="315.15" y="352.7">a</text>
<text x="315.15" y="357.3">a</text>
<text x="315.15" y="365.28">b</text>
<text x="315.15" y="370.9">a</text>
<text x="315.15" y="377.2">b</text>
<text x="315.15" y="392.06">a</text>
<text x="326.65" y="349.49">a</text>
<text x="326.65" y="354.09">a</text>
<text x="326.65" y="358.69">a</text>
<text x="326.65" y="369.44">ab</text>
<text x="326.65" y="381.41">a</text>
<text x="326.65" y="388.66">a</text>
<text x="326.65" y="400.71">ab</text>
<text x="338.15" y="349.77">a</text>
<text x="338.15" y="354.37">a</text>
<text x="338.15" y="358.97">a</text>
<text x="338.15" y="371.95">a</text>
<text x="338.15" y="390.31">a</text>
<text x="338.15" y="398.51">ab</text>
<text x="338.15" y="404.81">b</text>
<text x="349.65" y="350.35">a</text>
<text x="349.65" y="356.04">a</text>
<text x="349.65" y="360.64">a</text>
<text x="349.65" y="373.11">ab</text>
<text x="349.65" y="384.5">a</text>
<text x="349.65" y="390.31">a</text>
<text x="349.65" y="400.96">b</text>
<text x="361.15" y="349.2">a</text>
<text x="361.15" y="353.8">a</text>
<text x="361.15" y="358.4">a</text>
<text x="361.15" y="368.61">b</text>
<text x="361.15" y="380">a</text>
<text x="361.15" y="386.4">a</text>
<text x="361.15" y="399.3">ab</text>
<text x="379.45" y="348.1">a</text>
<text x="379.45" y="352.7">a</text>
<text x="379.45" y="357.3">a</text>
<text x="379.45" y="372.23">a</text>
<text x="379.45" y="392.57">ab</text>
<text x="379.45" y="400.58">a</text>
<text x="379.45" y="406.88">b</text>
<text x="390.95" y="349.77">a</text>
<text x="390.95" y="354.51">a</text>
<text x="390.95" y="359.11">a</text>
<text x="390.95" y="368.59">a</text>
<text x="390.95" y="379.68">b</text>
<text x="390.95" y="385.98">ab</text>
<text x="390.95" y="397.05">a</text>
<text x="402.45" y="350.63">a</text>
<text x="402.45" y="357.51">a</text>
<text x="402.45" y="363.08">a</text>
<text x="402.45" y="374.19">a</text>
<text x="402.45" y="388.91">a</text>
<text x="402.45" y="398.36">a</text>
<text x="402.45" y="405.15">b</text>
<text x="413.95" y="350.35">a</text>
<text x="413.95" y="356.02">a</text>
<text x="413.95" y="360.62">a</text>
<text x="413.95" y="372.23">a</text>
<text x="413.95" y="387.52">ab</text>
<text x="413.95" y="393.92">a</text>
<text x="413.95" y="403.5">ab</text>
<text x="425.45" y="350.35">a</text>
<text x="425.45" y="357.24">a</text>
<text x="425.45" y="363.08">a</text>
<text x="425.45" y="374.74">a</text>
<text x="425.45" y="386.33">ab</text>
<text x="425.45" y="392.63">b</text>
<text x="425.45" y="400.71">ab</text>
<text x="443.75" y="351.15">a</text>
<text x="443.75" y="357.38">a</text>
<text x="443.75" y="361.98">a</text>
<text x="443.75" y="371.68">a</text>
<text x="443.75" y="385.33">a</text>
<text x="443.75" y="395.08">ab</text>
<text x="443.75" y="402.37">a</text>
<text x="455.25" y="347.64">a</text>
<text x="455.25" y="352.24">a</text>
<text x="455.25" y="356.84">a</text>
<text x="455.25" y="363.91">a</text>
<text x="455.25" y="380.03">a</text>
<text x="455.25" y="393.12">b</text>
<text x="455.25" y="402.37">a</text>
<text x="466.75" y="349.4">a</text>
<text x="466.75" y="354">a</text>
<text x="466.75" y="358.6">a</text>
<text x="466.75" y="366.72">a</text>
<text x="466.75" y="380.61">a</text>
<text x="466.75" y="390.86">ab</text>
<text x="466.75" y="400.41">a</text>
<text x="478.25" y="351.45">a</text>
<text x="478.25" y="356.57">a</text>
<text x="478.25" y="361.17">a</text>
<text x="478.25" y="370.3">a</text>
<text x="478.25" y="384.47">a</text>
<text x="478.25" y="393.37">b</text>
<text x="478.25" y="401.51">a</text>
<text x="489.75" y="348.65">a</text>
<text x="489.75" y="353.25">a</text>
<text x="489.75" y="357.85">a</text>
<text x="489.75" y="369.17">a</text>
<text x="489.75" y="381.76">a</text>
<text x="489.75" y="388.06">ab</text>
<text x="489.75" y="398.45">a</text>
<text x="57.95" y="417.6">a</text>
<text x="57.95" y="422.2">a</text>
<text x="57.95" y="426.8">a</text>
<text x="57.95" y="434.84">a</text>
<text x="57.95" y="451.82">a</text>
<text x="57.95" y="465.75">a</text>
<text x="57.95" y="473.46">c</text>
<text x="69.45" y="418.07">a</text>
<text x="69.45" y="423.36">a</text>
<text x="69.45" y="427.96">a</text>
<text x="69.45" y="439.03">a</text>
<text x="69.45" y="454.33">b</text>
<text x="69.45" y="461.82">b</text>
<text x="69.45" y="469.54">c</text>
<text x="80.95" y="415.5">a</text>
<text x="80.95" y="420.1">a</text>
<text x="80.95" y="426.4">b</text>
<text x="80.95" y="432.7">b</text>
<text x="80.95" y="439">b</text>
<text x="80.95" y="445.3">d</text>
<text x="80.95" y="456.48">a</text>
<text x="92.45" y="415.5">a</text>
<text x="92.45" y="420.1">a</text>
<text x="92.45" y="424.7">a</text>
<text x="92.45" y="432.36">b</text>
<text x="92.45" y="442.64">b</text>
<text x="92.45" y="449.58">bc</text>
<text x="92.45" y="464.27">b</text>
<text x="103.95" y="415.5">a</text>
<text x="103.95" y="420.1">a</text>
<text x="103.95" y="424.7">a</text>
<text x="103.95" y="431">b</text>
<text x="103.95" y="437.3">b</text>
<text x="103.95" y="443.6">cd</text>
<text x="103.95" y="460.39">ab</text>
<text x="122.25" y="415.5">a</text>
<text x="122.25" y="420.1">a</text>
<text x="122.25" y="424.7">a</text>
<text x="122.25" y="431.25">ab</text>
<text x="122.25" y="442.36">ab</text>
<text x="122.25" y="447.91">a</text>
<text x="122.25" y="463.72">ab</text>
<text x="133.75" y="415.5">a</text>
<text x="133.75" y="420.1">a</text>
<text x="133.75" y="424.7">a</text>
<text x="133.75" y="433.46">a</text>
<text x="133.75" y="448.52">a</text>
<text x="133.75" y="456.87">a</text>
<text x="133.75" y="468.74">b</text>
<text x="145.25" y="415.5">a</text>
<text x="145.25" y="420.1">a</text>
<text x="145.25" y="424.7">a</text>
<text x="145.25" y="431">b</text>
<text x="145.25" y="437.89">ab</text>
<text x="145.25" y="442.89">a</text>
<text x="145.25" y="461.49">ab</text>
<text x="156.75" y="415.5">a</text>
<text x="156.75" y="420.1">a</text>
<text x="156.75" y="424.7">a</text>
<text x="156.75" y="431">b</text>
<text x="156.75" y="437.3">b</text>
<text x="156.75" y="443.6">b</text>
<text x="156.75" y="457.3">a</text>
<text x="168.25" y="415.5">a</text>
<text x="168.25" y="420.1">a</text>
<text x="168.25" y="424.7">a</text>
<text x="168.25" y="431">b</text>
<text x="168.25" y="437.3">b</text>
<text x="168.25" y="441.9">a</text>
<text x="168.25" y="458.7">ab</text>
<text x="186.55" y="416.35">ab</text>
<text x="186.55" y="420.95">a</text>
<text x="186.55" y="425.55">a</text>
<text x="186.55" y="430.15">a</text>
<text x="186.55" y="436.45">b</text>
<text x="186.55" y="441.05">a</text>
<text x="186.55" y="455.1">a</text>
<text x="198.05" y="416.21">a</text>
<text x="198.05" y="420.81">a</text>
<text x="198.05" y="425.41">a</text>
<text x="198.05" y="437.63">a</text>
<text x="198.05" y="451.19">a</text>
<text x="198.05" y="455.79">a</text>
<text x="198.05" y="467.33">b</text>
<text x="209.55" y="416.35">b</text>
<text x="209.55" y="420.95">a</text>
<text x="209.55" y="425.55">a</text>
<text x="209.55" y="431.85">b</text>
<text x="209.55" y="438.15">b</text>
<text x="209.55" y="442.75">a</text>
<text x="209.55" y="453.69">a</text>
<text x="221.05" y="416.35">b</text>
<text x="221.05" y="420.95">a</text>
<text x="221.05" y="425.55">a</text>
<text x="221.05" y="430.15">a</text>
<text x="221.05" y="436.45">b</text>
<text x="221.05" y="441.05">a</text>
<text x="221.05" y="453.69">a</text>
<text x="232.55" y="416.35">ab</text>
<text x="232.55" y="420.95">a</text>
<text x="232.55" y="425.55">a</text>
<text x="232.55" y="430.15">a</text>
<text x="232.55" y="436.45">b</text>
<text x="232.55" y="441.05">a</text>
<text x="232.55" y="454.52">a</text>
<text x="250.85" y="415.5">a</text>
<text x="250.85" y="420.1">a</text>
<text x="250.85" y="424.7">a</text>
<text x="250.85" y="429.3">a</text>
<text x="250.85" y="435.6">ab</text>
<text x="250.85" y="441.9">ab</text>
<text x="250.85" y="456.2">a</text>
<text x="262.35" y="415.5">a</text>
<text x="262.35" y="420.1">a</text>
<text x="262.35" y="424.7">a</text>
<text x="262.35" y="429.3">a</text>
<text x="262.35" y="436.17">a</text>
<text x="262.35" y="440.77">a</text>
<text x="262.35" y="458.46">a</text>
<text x="273.85" y="415.5">a</text>
<text x="273.85" y="420.1">a</text>
<text x="273.85" y="424.7">a</text>
<text x="273.85" y="429.3">a</text>
<text x="273.85" y="435.6">b</text>
<text x="273.85" y="441.9">ab</text>
<text x="273.85" y="456.2">a</text>
<text x="285.35" y="415.5">a</text>
<text x="285.35" y="420.1">a</text>
<text x="285.35" y="424.7">a</text>
<text x="285.35" y="429.3">a</text>
<text x="285.35" y="435.6">b</text>
<text x="285.35" y="441.9">b</text>
<text x="285.35" y="453.97">a</text>
<text x="296.85" y="415.5">a</text>
<text x="296.85" y="420.1">a</text>
<text x="296.85" y="424.7">a</text>
<text x="296.85" y="429.3">a</text>
<text x="296.85" y="435.6">b</text>
<text x="296.85" y="441.9">ab</text>
<text x="296.85" y="455.1">a</text>
<text x="315.15" y="415.5">a</text>
<text x="315.15" y="420.1">a</text>
<text x="315.15" y="424.7">a</text>
<text x="315.15" y="431">b</text>
<text x="315.15" y="435.6">a</text>
<text x="315.15" y="441.9">b</text>
<text x="315.15" y="451.73">a</text>
<text x="326.65" y="415.5">a</text>
<text x="326.65" y="420.1">a</text>
<text x="326.65" y="424.7">a</text>
<text x="326.65" y="429.3">a</text>
<text x="326.65" y="435.6">ab</text>
<text x="326.65" y="440.2">a</text>
<text x="326.65" y="458.43">ab</text>
<text x="338.15" y="415.5">a</text>
<text x="338.15" y="420.1">a</text>
<text x="338.15" y="424.7">a</text>
<text x="338.15" y="431.78">a</text>
<text x="338.15" y="440.18">a</text>
<text x="338.15" y="446.48">ab</text>
<text x="338.15" y="461.49">b</text>
<text x="349.65" y="415.5">a</text>
<text x="349.65" y="420.1">a</text>
<text x="349.65" y="424.7">a</text>
<text x="349.65" y="431">b</text>
<text x="349.65" y="437.3">ab</text>
<text x="349.65" y="443.6">b</text>
<text x="349.65" y="453.97">a</text>
<text x="361.15" y="415.5">a</text>
<text x="361.15" y="420.1">a</text>
<text x="361.15" y="424.7">a</text>
<text x="361.15" y="431">b</text>
<text x="361.15" y="437.3">ab</text>
<text x="361.15" y="443.6">b</text>
<text x="361.15" y="455.37">ab</text>
<text x="379.45" y="416.04">a</text>
<text x="379.45" y="420.64">a</text>
<text x="379.45" y="425.24">a</text>
<text x="379.45" y="432.91">a</text>
<text x="379.45" y="444.3">a</text>
<text x="379.45" y="449.28">a</text>
<text x="379.45" y="464.82">b</text>
<text x="390.95" y="415.5">a</text>
<text x="390.95" y="420.1">a</text>
<text x="390.95" y="424.7">a</text>
<text x="390.95" y="429.3">a</text>
<text x="390.95" y="435.6">ab</text>
<text x="390.95" y="441.9">b</text>
<text x="390.95" y="455.1">a</text>
<text x="402.45" y="415.5">a</text>
<text x="402.45" y="420.1">a</text>
<text x="402.45" y="424.7">a</text>
<text x="402.45" y="429.3">a</text>
<text x="402.45" y="435.6">b</text>
<text x="402.45" y="441.9">b</text>
<text x="402.45" y="456.2">a</text>
<text x="413.95" y="415.5">a</text>
<text x="413.95" y="420.1">a</text>
<text x="413.95" y="424.7">a</text>
<text x="413.95" y="429.3">a</text>
<text x="413.95" y="435.6">b</text>
<text x="413.95" y="441.9">b</text>
<text x="413.95" y="454.52">a</text>
<text x="425.45" y="415.5">a</text>
<text x="425.45" y="420.1">a</text>
<text x="425.45" y="424.7">a</text>
<text x="425.45" y="429.3">a</text>
<text x="425.45" y="435.6">b</text>
<text x="425.45" y="441.9">b</text>
<text x="425.45" y="454.24">a</text>
<text x="443.75" y="416.15">a</text>
<text x="443.75" y="420.75">a</text>
<text x="443.75" y="425.35">a</text>
<text x="443.75" y="429.95">a</text>
<text x="443.75" y="434.55">a</text>
<text x="443.75" y="440.85">b</text>
<text x="443.75" y="457.3">a</text>
<text x="455.25" y="416.43">a</text>
<text x="455.25" y="421.03">a</text>
<text x="455.25" y="425.63">a</text>
<text x="455.25" y="430.95">a</text>
<text x="455.25" y="439.03">a</text>
<text x="455.25" y="444.33">a</text>
<text x="455.25" y="461.22">a</text>
<text x="466.75" y="416.23">a</text>
<text x="466.75" y="420.83">a</text>
<text x="466.75" y="425.43">a</text>
<text x="466.75" y="430.36">a</text>
<text x="466.75" y="434.96">a</text>
<text x="466.75" y="441.26">b</text>
<text x="466.75" y="457.58">a</text>
<text x="478.25" y="415.59">a</text>
<text x="478.25" y="420.19">a</text>
<text x="478.25" y="424.79">a</text>
<text x="478.25" y="429.39">a</text>
<text x="478.25" y="433.99">a</text>
<text x="478.25" y="440.29">b</text>
<text x="478.25" y="456.75">a</text>
<text x="489.75" y="416.21">a</text>
<text x="489.75" y="420.81">a</text>
<text x="489.75" y="425.41">a</text>
<text x="489.75" y="430.01">a</text>
<text x="489.75" y="434.61">a</text>
<text x="489.75" y="440.91">b</text>
<text x="489.75" y="457.03">a</text>
<text x="57.95" y="484.54">a</text>
<text x="57.95" y="489.14">a</text>
<text x="57.95" y="493.74">a</text>
<text x="57.95" y="502.75">a</text>
<text x="57.95" y="516.09">a</text>
<text x="57.95" y="523.89">a</text>
<text x="57.95" y="536.49">b</text>
<text x="69.45" y="483.65">a</text>
<text x="69.45" y="488.25">a</text>
<text x="69.45" y="492.85">a</text>
<text x="69.45" y="497.45">a</text>
<text x="69.45" y="507.21">a</text>
<text x="69.45" y="513.63">ab</text>
<text x="69.45" y="529.52">a</text>
<text x="80.95" y="483.65">a</text>
<text x="80.95" y="488.25">a</text>
<text x="80.95" y="492.85">a</text>
<text x="80.95" y="497.45">a</text>
<text x="80.95" y="506.84">a</text>
<text x="80.95" y="513.14">ab</text>
<text x="80.95" y="529.22">a</text>
<text x="92.45" y="483.65">a</text>
<text x="92.45" y="488.25">a</text>
<text x="92.45" y="492.85">a</text>
<text x="92.45" y="498.62">a</text>
<text x="92.45" y="507.43">a</text>
<text x="92.45" y="513.73">b</text>
<text x="92.45" y="528.14">a</text>
<text x="103.95" y="483.65">a</text>
<text x="103.95" y="488.25">a</text>
<text x="103.95" y="492.85">a</text>
<text x="103.95" y="497.45">a</text>
<text x="103.95" y="504.12">a</text>
<text x="103.95" y="511.64">ab</text>
<text x="103.95" y="528.39">a</text>
<text x="122.25" y="484.5">ab</text>
<text x="122.25" y="489.1">a</text>
<text x="122.25" y="493.7">a</text>
<text x="122.25" y="501.34">a</text>
<text x="122.25" y="514.68">a</text>
<text x="122.25" y="521.93">a</text>
<text x="122.25" y="535.63">ab</text>
<text x="133.75" y="483.65">a</text>
<text x="133.75" y="488.25">a</text>
<text x="133.75" y="492.85">a</text>
<text x="133.75" y="502.47">a</text>
<text x="133.75" y="518.87">a</text>
<text x="133.75" y="526.4">a</text>
<text x="133.75" y="537.04">b</text>
<text x="145.25" y="484.5">ab</text>
<text x="145.25" y="489.1">a</text>
<text x="145.25" y="493.7">a</text>
<text x="145.25" y="499.69">a</text>
<text x="145.25" y="513.3">a</text>
<text x="145.25" y="519.7">a</text>
<text x="145.25" y="533.71">ab</text>
<text x="156.75" y="484.5">b</text>
<text x="156.75" y="489.1">a</text>
<text x="156.75" y="493.7">a</text>
<text x="156.75" y="498.3">a</text>
<text x="156.75" y="503.88">a</text>
<text x="156.75" y="509.14">a</text>
<text x="156.75" y="527.29">a</text>
<text x="168.25" y="484.5">ab</text>
<text x="168.25" y="489.1">a</text>
<text x="168.25" y="493.7">a</text>
<text x="168.25" y="498.3">a</text>
<text x="168.25" y="505.29">a</text>
<text x="168.25" y="512.78">a</text>
<text x="168.25" y="530.37">ab</text>
<text x="186.55" y="483.65">a</text>
<text x="186.55" y="488.25">a</text>
<text x="186.55" y="492.85">a</text>
<text x="186.55" y="499.15">b</text>
<text x="186.55" y="507.76">a</text>
<text x="186.55" y="514.16">a</text>
<text x="186.55" y="530.07">a</text>
<text x="198.05" y="483.65">a</text>
<text x="198.05" y="488.25">a</text>
<text x="198.05" y="492.85">a</text>
<text x="198.05" y="498.55">a</text>
<text x="198.05" y="511.65">a</text>
<text x="198.05" y="517.77">a</text>
<text x="198.05" y="531.72">a</text>
<text x="209.55" y="483.65">a</text>
<text x="209.55" y="488.25">a</text>
<text x="209.55" y="492.85">a</text>
<text x="209.55" y="499.15">b</text>
<text x="209.55" y="505.17">a</text>
<text x="209.55" y="509.77">a</text>
<text x="209.55" y="527.84">a</text>
<text x="221.05" y="483.65">a</text>
<text x="221.05" y="488.25">a</text>
<text x="221.05" y="492.85">a</text>
<text x="221.05" y="497.45">c</text>
<text x="221.05" y="502.94">a</text>
<text x="221.05" y="507.54">a</text>
<text x="221.05" y="525.88">a</text>
<text x="232.55" y="483.65">a</text>
<text x="232.55" y="488.25">a</text>
<text x="232.55" y="492.85">a</text>
<text x="232.55" y="499.15">bc</text>
<text x="232.55" y="503.75">a</text>
<text x="232.55" y="508.35">a</text>
<text x="232.55" y="524.23">a</text>
<text x="250.85" y="483.65">a</text>
<text x="250.85" y="488.25">a</text>
<text x="250.85" y="494.55">ab</text>
<text x="250.85" y="500.85">b</text>
<text x="250.85" y="507.15">b</text>
<text x="250.85" y="513.45">b</text>
<text x="250.85" y="522.27">a</text>
<text x="262.35" y="483.65">a</text>
<text x="262.35" y="488.25">a</text>
<text x="262.35" y="492.85">a</text>
<text x="262.35" y="497.45">a</text>
<text x="262.35" y="504.12">a</text>
<text x="262.35" y="509.69">a</text>
<text x="262.35" y="528.14">b</text>
<text x="273.85" y="483.65">a</text>
<text x="273.85" y="488.25">a</text>
<text x="273.85" y="492.85">a</text>
<text x="273.85" y="499.15">b</text>
<text x="273.85" y="505.45">ab</text>
<text x="273.85" y="511.75">ab</text>
<text x="273.85" y="525.08">ab</text>
<text x="285.35" y="483.65">a</text>
<text x="285.35" y="488.25">a</text>
<text x="285.35" y="494.55">ab</text>
<text x="285.35" y="500.85">b</text>
<text x="285.35" y="507.15">ab</text>
<text x="285.35" y="513.45">b</text>
<text x="285.35" y="523.1">a</text>
<text x="296.85" y="483.65">a</text>
<text x="296.85" y="488.25">a</text>
<text x="296.85" y="492.85">a</text>
<text x="296.85" y="499.15">b</text>
<text x="296.85" y="505.45">ab</text>
<text x="296.85" y="511.75">ab</text>
<text x="296.85" y="526.73">b</text>
<text x="315.15" y="483.65">a</text>
<text x="315.15" y="488.25">a</text>
<text x="315.15" y="492.85">a</text>
<text x="315.15" y="497.45">a</text>
<text x="315.15" y="503.75">ab</text>
<text x="315.15" y="508.35">a</text>
<text x="315.15" y="525.88">a</text>
<text x="326.65" y="483.65">a</text>
<text x="326.65" y="488.25">a</text>
<text x="326.65" y="492.85">a</text>
<text x="326.65" y="497.45">a</text>
<text x="326.65" y="504.48">ab</text>
<text x="326.65" y="509.08">a</text>
<text x="326.65" y="527.01">a</text>
<text x="338.15" y="483.65">a</text>
<text x="338.15" y="488.25">a</text>
<text x="338.15" y="492.85">a</text>
<text x="338.15" y="499.14">a</text>
<text x="338.15" y="511.1">a</text>
<text x="338.15" y="517.5">a</text>
<text x="338.15" y="532.57">b</text>
<text x="349.65" y="483.65">a</text>
<text x="349.65" y="488.25">a</text>
<text x="349.65" y="492.85">a</text>
<text x="349.65" y="497.76">a</text>
<text x="349.65" y="505.31">b</text>
<text x="349.65" y="509.91">a</text>
<text x="349.65" y="527.53">a</text>
<text x="361.15" y="483.65">a</text>
<text x="361.15" y="488.25">a</text>
<text x="361.15" y="492.85">a</text>
<text x="361.15" y="497.45">a</text>
<text x="361.15" y="504.05">ab</text>
<text x="361.15" y="508.65">a</text>
<text x="361.15" y="526.16">a</text>
<text x="379.45" y="483.65">a</text>
<text x="379.45" y="488.25">a</text>
<text x="379.45" y="492.85">a</text>
<text x="379.45" y="499.41">a</text>
<text x="379.45" y="509.06">b</text>
<text x="379.45" y="515.36">b</text>
<text x="379.45" y="529.79">ab</text>
<text x="390.95" y="483.65">a</text>
<text x="390.95" y="488.25">a</text>
<text x="390.95" y="492.85">a</text>
<text x="390.95" y="500.54">a</text>
<text x="390.95" y="514.99">a</text>
<text x="390.95" y="524.17">a</text>
<text x="390.95" y="536.77">b</text>
<text x="402.45" y="483.65">a</text>
<text x="402.45" y="488.25">a</text>
<text x="402.45" y="492.85">a</text>
<text x="402.45" y="498">a</text>
<text x="402.45" y="506.57">b</text>
<text x="402.45" y="512.87">b</text>
<text x="402.45" y="527.53">a</text>
<text x="413.95" y="483.65">a</text>
<text x="413.95" y="488.25">a</text>
<text x="413.95" y="492.85">a</text>
<text x="413.95" y="497.45">a</text>
<text x="413.95" y="504.62">ab</text>
<text x="413.95" y="510.92">b</text>
<text x="413.95" y="526.74">a</text>
<text x="425.45" y="483.65">a</text>
<text x="425.45" y="488.25">a</text>
<text x="425.45" y="492.85">a</text>
<text x="425.45" y="502.75">a</text>
<text x="425.45" y="514.63">b</text>
<text x="425.45" y="520.93">b</text>
<text x="425.45" y="532.57">ab</text>
<text x="443.75" y="483.65">a</text>
<text x="443.75" y="488.25">a</text>
<text x="443.75" y="494.55">b</text>
<text x="443.75" y="499.15">a</text>
<text x="443.75" y="505.45">b</text>
<text x="443.75" y="510.05">a</text>
<text x="443.75" y="525.08">a</text>
<text x="455.25" y="483.65">a</text>
<text x="455.25" y="489.95">ab</text>
<text x="455.25" y="494.55">a</text>
<text x="455.25" y="499.15">a</text>
<text x="455.25" y="509.69">a</text>
<text x="455.25" y="516.06">a</text>
<text x="455.25" y="530.59">a</text>
<text x="466.75" y="483.65">a</text>
<text x="466.75" y="489.95">ab</text>
<text x="466.75" y="494.55">a</text>
<text x="466.75" y="499.15">a</text>
<text x="466.75" y="507.58">b</text>
<text x="466.75" y="513.88">b</text>
<text x="466.75" y="528.14">a</text>
<text x="478.25" y="483.65">a</text>
<text x="478.25" y="488.25">a</text>
<text x="478.25" y="492.85">a</text>
<text x="478.25" y="499.15">b</text>
<text x="478.25" y="505.45">b</text>
<text x="478.25" y="511.75">b</text>
<text x="478.25" y="524.78">a</text>
<text x="489.75" y="485.37">a</text>
<text x="489.75" y="489.97">a</text>
<text x="489.75" y="494.57">a</text>
<text x="489.75" y="503.27">a</text>
<text x="489.75" y="515.02">ab</text>
<text x="489.75" y="519.62">a</text>
<text x="489.75" y="532.58">a</text>
<text x="57.95" y="552.41">a</text>
<text x="57.95" y="557.01">a</text>
<text x="57.95" y="561.61">a</text>
<text x="57.95" y="569.76">a</text>
<text x="57.95" y="586.72">a</text>
<text x="57.95" y="599.56">ab</text>
<text x="57.95" y="607.68">a</text>
<text x="69.45" y="553.32">a</text>
<text x="69.45" y="557.92">a</text>
<text x="69.45" y="562.52">a</text>
<text x="69.45" y="570.59">a</text>
<text x="69.45" y="586.75">a</text>
<text x="69.45" y="598.46">ab</text>
<text x="69.45" y="606.85">a</text>
<text x="80.95" y="551.95">a</text>
<text x="80.95" y="556.55">a</text>
<text x="80.95" y="561.15">a</text>
<text x="80.95" y="570.35">a</text>
<text x="80.95" y="588.12">a</text>
<text x="80.95" y="600.36">a</text>
<text x="80.95" y="608.78">a</text>
<text x="92.45" y="552.12">a</text>
<text x="92.45" y="556.72">a</text>
<text x="92.45" y="561.32">a</text>
<text x="92.45" y="570.1">a</text>
<text x="92.45" y="588.46">a</text>
<text x="92.45" y="600.42">b</text>
<text x="92.45" y="607.4">a</text>
<text x="103.95" y="552.77">a</text>
<text x="103.95" y="557.37">a</text>
<text x="103.95" y="561.97">a</text>
<text x="103.95" y="573.34">a</text>
<text x="103.95" y="593.97">a</text>
<text x="103.95" y="605.65">ab</text>
<text x="103.95" y="610.25">a</text>
<text x="122.25" y="551.8">a</text>
<text x="122.25" y="558.1">ab</text>
<text x="122.25" y="562.7">a</text>
<text x="122.25" y="577.02">a</text>
<text x="122.25" y="600.09">a</text>
<text x="122.25" y="606.95">b</text>
<text x="122.25" y="613.25">b</text>
<text x="133.75" y="553.14">a</text>
<text x="133.75" y="557.74">a</text>
<text x="133.75" y="562.34">a</text>
<text x="133.75" y="572.27">ab</text>
<text x="133.75" y="589.78">a</text>
<text x="133.75" y="601.49">ab</text>
<text x="133.75" y="608.53">ab</text>
<text x="145.25" y="551.8">a</text>
<text x="145.25" y="558.1">ab</text>
<text x="145.25" y="562.7">a</text>
<text x="145.25" y="572.3">ab</text>
<text x="145.25" y="590.08">a</text>
<text x="145.25" y="601.25">a</text>
<text x="145.25" y="609.38">b</text>
<text x="156.75" y="551.8">a</text>
<text x="156.75" y="558.1">b</text>
<text x="156.75" y="562.7">a</text>
<text x="156.75" y="569.27">b</text>
<text x="156.75" y="583.14">a</text>
<text x="156.75" y="592.58">ab</text>
<text x="156.75" y="603.21">a</text>
<text x="168.25" y="551.8">a</text>
<text x="168.25" y="558.1">ab</text>
<text x="168.25" y="562.7">a</text>
<text x="168.25" y="575.63">ab</text>
<text x="168.25" y="595.65">a</text>
<text x="168.25" y="605.77">ab</text>
<text x="168.25" y="612.07">b</text>
<text x="186.55" y="552.12">a</text>
<text x="186.55" y="556.72">a</text>
<text x="186.55" y="561.32">a</text>
<text x="186.55" y="572.85">a</text>
<text x="186.55" y="591.77">c</text>
<text x="186.55" y="602.35">ab</text>
<text x="186.55" y="609.63">ab</text>
<text x="198.05" y="552.78">a</text>
<text x="198.05" y="557.38">a</text>
<text x="198.05" y="561.98">a</text>
<text x="198.05" y="572.03">a</text>
<text x="198.05" y="592.62">ab</text>
<text x="198.05" y="604.52">ab</text>
<text x="198.05" y="610.82">ab</text>
<text x="209.55" y="552.51">a</text>
<text x="209.55" y="557.11">a</text>
<text x="209.55" y="561.71">a</text>
<text x="209.55" y="574.75">a</text>
<text x="209.55" y="594.54">abc</text>
<text x="209.55" y="605.73">a</text>
<text x="209.55" y="612.03">b</text>
<text x="221.05" y="551.8">a</text>
<text x="221.05" y="556.4">a</text>
<text x="221.05" y="561">a</text>
<text x="221.05" y="572.85">a</text>
<text x="221.05" y="591.51">bc</text>
<text x="221.05" y="600.42">ab</text>
<text x="221.05" y="607.4">a</text>
<text x="232.55" y="552.49">a</text>
<text x="232.55" y="557.09">a</text>
<text x="232.55" y="561.69">a</text>
<text x="232.55" y="573.65">a</text>
<text x="232.55" y="593.11">a</text>
<text x="232.55" y="604.8">b</text>
<text x="232.55" y="611.1">ab</text>
<text x="250.85" y="552.51">a</text>
<text x="250.85" y="557.11">a</text>
<text x="250.85" y="561.71">a</text>
<text x="250.85" y="569.24">a</text>
<text x="250.85" y="588.98">a</text>
<text x="250.85" y="604.83">a</text>
<text x="250.85" y="611.59">b</text>
<text x="262.35" y="551.8">a</text>
<text x="262.35" y="556.4">a</text>
<text x="262.35" y="561">a</text>
<text x="262.35" y="568.97">a</text>
<text x="262.35" y="582.91">b</text>
<text x="262.35" y="589.87">a</text>
<text x="262.35" y="603.26">ab</text>
<text x="273.85" y="552.67">a</text>
<text x="273.85" y="557.27">a</text>
<text x="273.85" y="561.87">a</text>
<text x="273.85" y="568.94">a</text>
<text x="273.85" y="578.75">b</text>
<text x="273.85" y="583.35">a</text>
<text x="273.85" y="598.5">a</text>
<text x="285.35" y="551.8">a</text>
<text x="285.35" y="556.4">a</text>
<text x="285.35" y="561">a</text>
<text x="285.35" y="565.6">a</text>
<text x="285.35" y="574.81">b</text>
<text x="285.35" y="580.35">a</text>
<text x="285.35" y="597.09">a</text>
<text x="296.85" y="551.8">a</text>
<text x="296.85" y="556.4">a</text>
<text x="296.85" y="561">a</text>
<text x="296.85" y="568.42">a</text>
<text x="296.85" y="579.75">ab</text>
<text x="296.85" y="584.35">a</text>
<text x="296.85" y="600.2">ab</text>
<text x="315.15" y="551.8">a</text>
<text x="315.15" y="556.4">a</text>
<text x="315.15" y="561">a</text>
<text x="315.15" y="570.9">a</text>
<text x="315.15" y="589.52">ab</text>
<text x="315.15" y="598.43">ab</text>
<text x="315.15" y="607.12">bc</text>
<text x="326.65" y="552.69">a</text>
<text x="326.65" y="557.29">a</text>
<text x="326.65" y="561.89">a</text>
<text x="326.65" y="569.82">ab</text>
<text x="326.65" y="586.2">a</text>
<text x="326.65" y="601.19">a</text>
<text x="326.65" y="609.61">c</text>
<text x="338.15" y="551.8">a</text>
<text x="338.15" y="556.4">a</text>
<text x="338.15" y="561">a</text>
<text x="338.15" y="567.31">ab</text>
<text x="338.15" y="578.88">bc</text>
<text x="338.15" y="585.18">b</text>
<text x="338.15" y="599.59">ab</text>
<text x="349.65" y="551.8">a</text>
<text x="349.65" y="556.4">a</text>
<text x="349.65" y="561">a</text>
<text x="349.65" y="567.3">b</text>
<text x="349.65" y="573.6">b</text>
<text x="349.65" y="579.9">b</text>
<text x="349.65" y="593.48">a</text>
<text x="361.15" y="551.8">a</text>
<text x="361.15" y="556.4">a</text>
<text x="361.15" y="561">a</text>
<text x="361.15" y="567.31">b</text>
<text x="361.15" y="578.14">bc</text>
<text x="361.15" y="585.12">b</text>
<text x="361.15" y="600.2">ab</text>
<text x="379.45" y="552.95">a</text>
<text x="379.45" y="557.55">a</text>
<text x="379.45" y="562.15">a</text>
<text x="379.45" y="576.46">ab</text>
<text x="379.45" y="596.78">a</text>
<text x="379.45" y="605.63">a</text>
<text x="379.45" y="611.93">b</text>
<text x="390.95" y="553.53">a</text>
<text x="390.95" y="558.13">a</text>
<text x="390.95" y="562.73">a</text>
<text x="390.95" y="577.63">a</text>
<text x="390.95" y="599.04">abc</text>
<text x="390.95" y="605.9">a</text>
<text x="390.95" y="612.2">b</text>
<text x="402.45" y="552.14">a</text>
<text x="402.45" y="556.74">a</text>
<text x="402.45" y="561.34">a</text>
<text x="402.45" y="572.88">abc</text>
<text x="402.45" y="590.41">ab</text>
<text x="402.45" y="599.57">a</text>
<text x="402.45" y="608.53">b</text>
<text x="413.95" y="553.24">a</text>
<text x="413.95" y="557.84">a</text>
<text x="413.95" y="562.44">a</text>
<text x="413.95" y="569.79">c</text>
<text x="413.95" y="582.33">bc</text>
<text x="413.95" y="587.6">a</text>
<text x="413.95" y="601.01">a</text>
<text x="425.45" y="552.53">a</text>
<text x="425.45" y="557.13">a</text>
<text x="425.45" y="561.73">a</text>
<text x="425.45" y="571.2">bc</text>
<text x="425.45" y="581.68">c</text>
<text x="425.45" y="586.28">a</text>
<text x="425.45" y="599.87">a</text>
<text x="443.75" y="552.65">ab</text>
<text x="443.75" y="557.25">a</text>
<text x="443.75" y="563.55">b</text>
<text x="443.75" y="572.88">bc</text>
<text x="443.75" y="592.04">a</text>
<text x="443.75" y="604.56">a</text>
<text x="443.75" y="610.46">c</text>
<text x="455.25" y="553.16">ab</text>
<text x="455.25" y="557.76">a</text>
<text x="455.25" y="562.36">a</text>
<text x="455.25" y="573.95">ab</text>
<text x="455.25" y="592.55">b</text>
<text x="455.25" y="603.14">ab</text>
<text x="455.25" y="610.18">bc</text>
<text x="466.75" y="555.72">a</text>
<text x="466.75" y="560.32">a</text>
<text x="466.75" y="564.92">a</text>
<text x="466.75" y="577.84">a</text>
<text x="466.75" y="597.91">b</text>
<text x="466.75" y="605.51">ab</text>
<text x="466.75" y="610.11">c</text>
<text x="478.25" y="552.65">b</text>
<text x="478.25" y="557.25">a</text>
<text x="478.25" y="563.55">b</text>
<text x="478.25" y="568.15">c</text>
<text x="478.25" y="572.75">c</text>
<text x="478.25" y="579.05">b</text>
<text x="478.25" y="594.31">a</text>
<text x="489.75" y="552.65">ab</text>
<text x="489.75" y="557.25">a</text>
<text x="489.75" y="561.85">a</text>
<text x="489.75" y="571.2">bc</text>
<text x="489.75" y="585.15">bc</text>
<text x="489.75" y="591.45">ab</text>
<text x="489.75" y="603.26">b</text></g>
</svg>
</body></html>
